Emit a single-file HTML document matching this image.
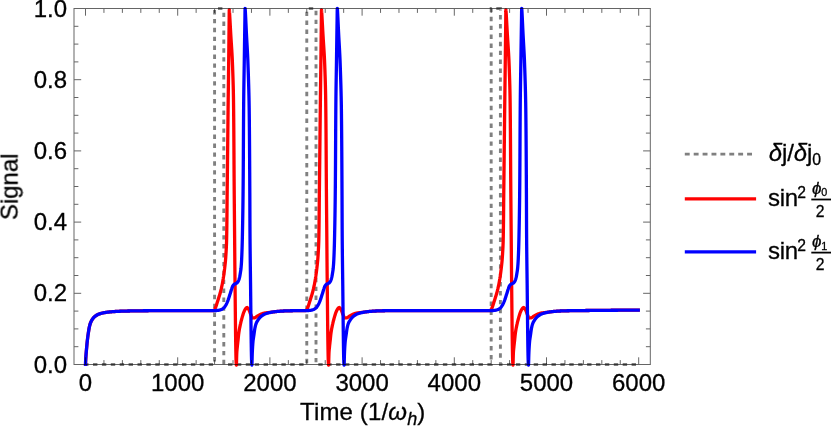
<!DOCTYPE html>
<html>
<head>
<meta charset="utf-8">
<title>Signal vs Time</title>
<style>
html,body{margin:0;padding:0;background:#fff;}
body{width:831px;height:426px;overflow:hidden;font-family:"Liberation Sans",sans-serif;}
svg{display:block;}
text{font-family:"Liberation Sans",sans-serif;font-size:24.0px;fill:#000;stroke:#000;stroke-width:0.3px;}
.it{font-style:italic;}
.s1{font-size:15.8px;}
.s2{font-size:12.0px;}
</style>
</head>
<body>
<svg width="831" height="426" viewBox="0 0 831 426">
<rect x="0" y="0" width="831" height="426" fill="#fff"/>
<defs><clipPath id="pr"><rect x="74.0" y="6.3" width="576.3" height="360.8"/></clipPath></defs>
<!-- data -->
<g fill="none" stroke="#808080" stroke-width="2.9" stroke-dasharray="4.4 4.5" stroke-linejoin="miter">
<path d="M85.50 364.50L214.58 364.50L214.58 8.50" stroke-dashoffset="1.40"/>
<path d="M214.58 8.50L223.80 8.50" stroke-dashoffset="5.48"/>
<path d="M223.80 8.50L223.80 364.50L306.78 364.50L306.78 8.50" stroke-dashoffset="4.70"/>
<path d="M306.78 8.50L316.00 8.50" stroke-dashoffset="6.88"/>
<path d="M316.00 8.50L316.00 364.50L491.18 364.50L491.18 8.50L500.40 8.50L500.40 9.50" stroke-dashoffset="6.60"/>
<path d="M500.40 9.50L500.40 364.50L638.70 364.50" stroke-dashoffset="3.30"/>
</g>
<path d="M85.50 365.90L85.51 365.40L85.52 364.90L85.53 364.39L85.54 363.89L85.56 363.39L85.57 362.89L85.59 362.39L85.60 361.88L85.62 361.38L85.64 360.88L85.67 360.38L85.69 359.88L85.72 359.38L85.75 358.88L85.78 358.38L85.81 357.87L85.84 357.37L85.87 356.87L85.91 356.37L85.95 355.87L85.98 355.37L86.02 354.87L86.06 354.37L86.10 353.87L86.14 353.37L86.19 352.87L86.23 352.37L86.27 351.87L86.31 351.36L86.36 350.86L86.40 350.36L86.44 349.86L86.49 349.36L86.53 348.86L86.58 348.36L86.62 347.86L86.66 347.36L86.71 346.86L86.76 346.36L86.80 345.86L86.85 345.36L86.90 344.86L86.94 344.36L86.99 343.86L87.04 343.36L87.09 342.86L87.15 342.36L87.20 341.86L87.25 341.36L87.31 340.86L87.36 340.36L87.42 339.87L87.48 339.37L87.54 338.87L87.60 338.37L87.66 337.87L87.72 337.37L87.78 336.87L87.85 336.38L87.92 335.88L87.98 335.38L88.05 334.89L88.12 334.39L88.19 333.90L88.27 333.40L88.34 332.90L88.41 332.40L88.49 331.89L88.57 331.39L88.65 330.89L88.73 330.39L88.81 329.88L88.90 329.38L88.99 328.88L89.09 328.38L89.18 327.89L89.28 327.39L89.39 326.90L89.50 326.41L89.62 325.93L89.74 325.45L89.86 324.97L89.99 324.50L90.13 324.03L90.27 323.57L90.44 323.10L90.62 322.63L90.82 322.16L91.03 321.69L91.26 321.22L91.50 320.76L91.75 320.30L92.02 319.85L92.29 319.42L92.58 319.00L92.87 318.60L93.17 318.21L93.47 317.84L93.79 317.50L94.12 317.15L94.49 316.81L94.87 316.47L95.27 316.14L95.69 315.83L96.11 315.52L96.55 315.24L97.00 314.97L97.45 314.72L97.90 314.50L98.35 314.30L98.79 314.13L99.25 313.97L99.71 313.81L100.18 313.66L100.65 313.52L101.14 313.38L101.62 313.25L102.12 313.13L102.61 313.01L103.11 312.90L103.61 312.79L104.12 312.69L104.62 312.59L105.12 312.51L105.63 312.43L106.13 312.35L106.63 312.28L107.13 312.22L107.62 312.16L108.12 312.11L108.62 312.05L109.11 312.00L109.61 311.95L110.11 311.90L110.61 311.86L111.11 311.81L111.61 311.77L112.11 311.72L112.61 311.68L113.11 311.64L113.61 311.60L114.11 311.57L114.62 311.53L115.12 311.50L115.62 311.46L116.12 311.43L116.63 311.40L117.13 311.37L117.63 311.35L118.14 311.32L118.64 311.30L119.14 311.28L119.64 311.26L120.14 311.24L120.65 311.22L121.15 311.20L121.65 311.19L122.15 311.17L122.65 311.16L123.15 311.14L123.66 311.13L124.16 311.11L124.66 311.10L125.16 311.09L125.66 311.07L126.16 311.06L126.67 311.05L127.17 311.04L127.67 311.02L128.17 311.01L128.67 311.00L129.17 310.99L129.68 310.98L130.18 310.97L130.68 310.96L131.18 310.95L131.68 310.94L132.19 310.93L132.69 310.92L133.19 310.91L133.69 310.90L134.20 310.89L134.70 310.88L135.20 310.87L135.70 310.87L136.20 310.86L136.71 310.85L137.21 310.84L137.71 310.84L138.21 310.83L138.72 310.82L139.22 310.82L139.72 310.81L140.22 310.80L140.72 310.80L141.23 310.79L141.73 310.79L142.23 310.78L142.73 310.78L143.23 310.77L143.74 310.77L144.24 310.76L144.74 310.76L145.24 310.75L145.74 310.75L146.25 310.74L146.75 310.74L147.25 310.74L147.75 310.73L148.26 310.73L148.76 310.72L149.26 310.72L149.76 310.72L150.26 310.71L150.77 310.71L151.27 310.70L151.77 310.70L152.27 310.70L152.77 310.69L153.28 310.69L153.78 310.69L154.28 310.68L154.78 310.68L155.28 310.68L155.79 310.67L156.29 310.67L156.79 310.67L157.29 310.66L157.79 310.66L158.30 310.66L158.80 310.65L159.30 310.65L159.80 310.65L160.30 310.64L160.81 310.64L161.31 310.64L161.81 310.64L162.31 310.63L162.81 310.63L163.32 310.63L163.82 310.63L164.32 310.62L164.82 310.62L165.32 310.62L165.83 310.62L166.33 310.62L166.83 310.61L167.33 310.61L167.84 310.61L168.34 310.61L168.84 310.61L169.34 310.61L169.84 310.61L170.35 310.60L170.85 310.60L171.35 310.60L171.85 310.60L172.35 310.60L172.86 310.60L173.36 310.60L173.86 310.60L174.36 310.60L174.86 310.60L175.37 310.60L175.87 310.60L176.37 310.60L176.87 310.60L177.37 310.60L177.88 310.60L178.38 310.60L178.88 310.60L179.38 310.60L179.88 310.60L180.39 310.60L180.89 310.60L181.39 310.60L181.89 310.60L182.39 310.60L182.90 310.60L183.40 310.60L183.90 310.60L184.40 310.60L184.91 310.60L185.41 310.60L185.91 310.60L186.41 310.60L186.91 310.60L187.42 310.60L187.92 310.60L188.42 310.60L188.92 310.60L189.42 310.60L189.93 310.60L190.43 310.60L190.93 310.60L191.43 310.60L191.93 310.60L192.44 310.60L192.94 310.60L193.44 310.60L193.94 310.60L194.44 310.60L194.95 310.60L195.45 310.60L195.95 310.60L196.45 310.60L196.95 310.60L197.46 310.60L197.96 310.60L198.46 310.60L198.96 310.60L199.46 310.60L199.97 310.60L200.47 310.60L200.97 310.60L201.47 310.60L201.98 310.60L202.48 310.60L202.98 310.60L203.48 310.60L203.98 310.60L204.49 310.60L204.99 310.60L205.49 310.60L205.99 310.60L206.49 310.60L207.00 310.60L207.50 310.60L208.00 310.60L213.20 310.60L213.70 310.40L214.13 310.15L214.45 309.84L214.71 309.44L214.93 308.98L215.13 308.48L215.32 308.00L215.51 307.53L215.69 307.07L215.87 306.60L216.05 306.14L216.21 305.66L216.37 305.19L216.53 304.72L216.69 304.24L216.84 303.76L216.99 303.28L217.14 302.80L217.29 302.32L217.44 301.84L217.59 301.37L217.74 300.89L217.89 300.41L218.05 299.93L218.20 299.46L218.35 298.98L218.51 298.50L218.66 298.03L218.81 297.55L218.96 297.07L219.11 296.59L219.26 296.12L219.41 295.64L219.55 295.16L219.70 294.68L219.84 294.20L219.98 293.72L220.11 293.24L220.25 292.75L220.38 292.27L220.50 291.79L220.63 291.30L220.75 290.82L220.87 290.33L220.99 289.85L221.11 289.36L221.23 288.88L221.34 288.39L221.46 287.90L221.57 287.41L221.68 286.92L221.79 286.43L221.89 285.94L222.00 285.45L222.10 284.96L222.20 284.47L222.30 283.98L222.39 283.49L222.48 283.00L222.57 282.51L222.66 282.02L222.75 281.52L222.83 281.03L222.92 280.54L223.00 280.05L223.08 279.55L223.17 279.06L223.25 278.56L223.32 278.07L223.40 277.57L223.48 277.08L223.55 276.58L223.63 276.09L223.70 275.59L223.77 275.10L223.84 274.60L223.91 274.11L223.98 273.61L224.05 273.11L224.12 272.62L224.18 272.12L224.25 271.62L224.31 271.13L224.37 270.63L224.43 270.13L224.49 269.64L224.55 269.14L224.62 268.65L224.68 268.15L224.73 267.65L224.79 267.15L224.85 266.66L224.91 266.16L224.97 265.66L225.02 265.16L225.08 264.67L225.13 264.17L225.19 263.67L225.24 263.17L225.29 262.67L225.34 262.18L225.39 261.68L225.43 261.18L225.48 260.68L225.52 260.18L225.56 259.68L225.60 259.19L225.64 258.69L225.68 258.19L225.71 257.69L225.75 257.19L225.78 256.69L225.82 256.19L225.85 255.69L225.88 255.19L225.92 254.69L225.95 254.19L225.98 253.70L226.01 253.20L226.04 252.70L226.07 252.20L226.10 251.70L226.13 251.20L226.16 250.70L226.19 250.20L226.22 249.70L226.24 249.20L226.27 248.70L226.30 248.20L226.32 247.70L226.35 247.20L226.37 246.70L226.39 246.20L226.41 245.70L226.43 245.20L226.45 244.70L226.47 244.20L226.49 243.70L226.51 243.19L226.53 242.69L226.54 242.19L226.56 241.69L226.57 241.19L226.58 240.69L226.60 240.19L226.61 239.69L226.62 239.19L226.63 238.69L226.64 238.19L226.65 237.69L226.66 237.19L226.67 236.69L226.68 236.19L226.69 235.69L226.70 235.19L226.70 234.69L226.71 234.19L226.72 233.69L226.73 233.19L226.74 232.69L226.75 232.19L226.75 231.69L226.76 231.19L226.77 230.69L226.78 230.19L226.79 229.69L226.79 229.19L226.80 228.69L226.81 228.19L226.81 227.69L226.82 227.19L226.83 226.69L226.84 226.19L226.84 225.69L226.85 225.19L226.85 224.69L226.86 224.18L226.87 223.68L226.87 223.18L226.88 222.68L226.89 222.18L226.89 221.68L226.90 221.18L226.90 220.68L226.91 220.18L226.91 219.68L226.92 219.18L226.92 218.68L226.93 218.18L226.93 217.68L226.94 217.18L226.95 216.68L226.95 216.18L226.96 215.68L226.96 215.18L226.96 214.68L226.97 214.18L226.97 213.67L226.98 213.17L226.98 212.67L226.99 212.17L226.99 211.67L227.00 211.17L227.00 210.67L227.01 210.17L227.01 209.67L227.02 209.17L227.02 208.67L227.02 208.17L227.03 207.67L227.03 207.17L227.04 206.67L227.04 206.17L227.05 205.67L227.05 205.17L227.06 204.66L227.06 204.16L227.06 203.66L227.07 203.16L227.07 202.66L227.08 202.16L227.08 201.66L227.09 201.16L227.09 200.66L227.10 200.16L227.10 199.66L227.11 199.16L227.11 198.66L227.12 198.16L227.12 197.66L227.12 197.16L227.13 196.66L227.13 196.16L227.14 195.66L227.14 195.15L227.15 194.65L227.15 194.15L227.16 193.65L227.17 193.15L227.17 192.65L227.18 192.15L227.18 191.65L227.19 191.15L227.19 190.65L227.20 190.15L227.20 189.65L227.21 189.15L227.22 188.65L227.22 188.15L227.23 187.65L227.23 187.15L227.24 186.65L227.24 186.15L227.25 185.65L227.26 185.15L227.26 184.64L227.27 184.14L227.27 183.64L227.28 183.14L227.28 182.64L227.29 182.14L227.30 181.64L227.30 181.14L227.31 180.64L227.31 180.14L227.32 179.64L227.32 179.14L227.33 178.64L227.33 178.14L227.34 177.64L227.35 177.14L227.35 176.64L227.36 176.14L227.36 175.64L227.37 175.14L227.37 174.64L227.38 174.14L227.39 173.63L227.39 173.13L227.40 172.63L227.40 172.13L227.41 171.63L227.41 171.13L227.42 170.63L227.42 170.13L227.43 169.63L227.43 169.13L227.44 168.63L227.45 168.13L227.45 167.63L227.46 167.13L227.46 166.63L227.47 166.13L227.47 165.63L227.48 165.13L227.48 164.63L227.49 164.13L227.50 163.63L227.50 163.13L227.51 162.63L227.51 162.12L227.52 161.62L227.52 161.12L227.53 160.62L227.53 160.12L227.54 159.62L227.54 159.12L227.55 158.62L227.56 158.12L227.56 157.62L227.57 157.12L227.57 156.62L227.58 156.12L227.58 155.62L227.59 155.12L227.59 154.62L227.60 154.12L227.60 153.62L227.61 153.12L227.61 152.62L227.62 152.12L227.63 151.62L227.63 151.11L227.64 150.61L227.64 150.11L227.65 149.61L227.65 149.11L227.66 148.61L227.66 148.11L227.67 147.61L227.67 147.11L227.68 146.61L227.68 146.11L227.69 145.61L227.70 145.11L227.70 144.61L227.71 144.11L227.71 143.61L227.72 143.11L227.72 142.61L227.73 142.11L227.73 141.61L227.74 141.11L227.74 140.61L227.75 140.10L227.76 139.60L227.76 139.10L227.77 138.60L227.77 138.10L227.78 137.60L227.78 137.10L227.79 136.60L227.79 136.10L227.80 135.60L227.80 135.10L227.81 134.60L227.82 134.10L227.82 133.60L227.83 133.10L227.83 132.60L227.84 132.10L227.84 131.60L227.85 131.10L227.85 130.60L227.86 130.10L227.86 129.60L227.87 129.09L227.88 128.59L227.88 128.09L227.89 127.59L227.89 127.09L227.90 126.59L227.90 126.09L227.91 125.59L227.91 125.09L227.92 124.59L227.92 124.09L227.93 123.59L227.94 123.09L227.94 122.59L227.95 122.09L227.95 121.59L227.96 121.09L227.96 120.59L227.97 120.09L227.98 119.59L227.98 119.09L227.99 118.59L227.99 118.09L228.00 117.58L228.00 117.08L228.01 116.58L228.01 116.08L228.02 115.58L228.03 115.08L228.03 114.58L228.04 114.08L228.04 113.58L228.05 113.08L228.05 112.58L228.06 112.08L228.07 111.58L228.07 111.08L228.08 110.58L228.08 110.08L228.09 109.58L228.09 109.08L228.10 108.58L228.11 108.08L228.11 107.58L228.12 107.08L228.12 106.57L228.13 106.07L228.13 105.57L228.14 105.07L228.15 104.57L228.15 104.07L228.16 103.57L228.16 103.07L228.17 102.57L228.18 102.07L228.18 101.57L228.19 101.07L228.19 100.57L228.20 100.07L228.21 99.57L228.21 99.07L228.22 98.57L228.22 98.07L228.23 97.57L228.24 97.07L228.24 96.57L228.25 96.07L228.25 95.57L228.26 95.06L228.27 94.56L228.27 94.06L228.28 93.56L228.28 93.06L228.29 92.56L228.30 92.06L228.30 91.56L228.31 91.06L228.32 90.56L228.32 90.06L228.33 89.56L228.33 89.06L228.34 88.56L228.35 88.06L228.35 87.56L228.36 87.06L228.37 86.56L228.37 86.06L228.38 85.56L228.39 85.06L228.39 84.56L228.40 84.06L228.40 83.55L228.41 83.05L228.42 82.55L228.42 82.05L228.43 81.55L228.44 81.05L228.44 80.55L228.45 80.05L228.46 79.55L228.46 79.05L228.47 78.55L228.47 78.05L228.48 77.55L228.49 77.05L228.49 76.55L228.50 76.05L228.51 75.55L228.51 75.05L228.52 74.55L228.53 74.05L228.53 73.55L228.54 73.05L228.54 72.54L228.55 72.04L228.56 71.54L228.56 71.04L228.57 70.54L228.58 70.04L228.58 69.54L228.59 69.04L228.60 68.54L228.60 68.04L228.61 67.54L228.61 67.04L228.62 66.54L228.63 66.04L228.63 65.54L228.64 65.04L228.65 64.54L228.65 64.04L228.66 63.54L228.66 63.04L228.67 62.54L228.68 62.04L228.68 61.54L228.69 61.03L228.69 60.53L228.70 60.03L228.71 59.53L228.71 59.03L228.72 58.53L228.72 58.03L228.73 57.53L228.73 57.03L228.74 56.53L228.75 56.03L228.75 55.53L228.76 55.03L228.76 54.53L228.77 54.03L228.78 53.53L228.78 53.03L228.79 52.53L228.79 52.03L228.80 51.53L228.80 51.03L228.81 50.53L228.81 50.03L228.82 49.52L228.83 49.02L228.83 48.52L228.84 48.02L228.84 47.52L228.85 47.02L228.85 46.52L228.86 46.02L228.86 45.52L228.87 45.02L228.88 44.52L228.88 44.02L228.89 43.52L228.89 43.02L228.90 42.52L228.90 42.02L228.91 41.52L228.91 41.02L228.92 40.52L228.93 40.02L228.93 39.52L228.94 39.02L228.94 38.51L228.95 38.01L228.95 37.51L228.96 37.01L228.96 36.51L228.97 36.01L228.98 35.51L228.98 35.01L228.99 34.51L228.99 34.01L229.00 33.51L229.00 33.01L229.01 32.51L229.02 32.01L229.02 31.51L229.03 31.01L229.03 30.51L229.04 30.01L229.05 29.51L229.05 29.01L229.06 28.51L229.06 28.01L229.07 27.50L229.08 27.00L229.08 26.50L229.09 26.00L229.09 25.50L229.10 25.00L229.11 24.49L229.11 23.94L229.12 23.37L229.12 22.77L229.13 22.16L229.13 21.52L229.14 20.88L229.15 20.22L229.15 19.56L229.16 18.89L229.16 18.23L229.17 17.56L229.17 16.91L229.18 16.26L229.18 15.62L229.19 15.00L229.20 14.40L229.20 13.82L229.21 13.27L229.21 12.74L229.22 12.25L229.23 11.79L229.24 11.38L229.24 11.00L229.25 10.67L229.26 10.39L229.27 10.16L229.28 9.98L229.29 9.86L229.30 9.80L229.31 9.81L229.32 9.85L229.33 9.93L229.35 10.05L229.36 10.20L229.38 10.39L229.40 10.61L229.42 10.86L229.44 11.15L229.46 11.46L229.49 11.80L229.51 12.17L229.54 12.56L229.56 12.98L229.59 13.42L229.62 13.89L229.65 14.37L229.68 14.88L229.71 15.40L229.74 15.94L229.77 16.50L229.81 17.08L229.84 17.66L229.87 18.26L229.91 18.88L229.94 19.50L229.98 20.13L230.01 20.77L230.05 21.42L230.08 22.08L230.12 22.74L230.16 23.40L230.19 24.06L230.23 24.73L230.26 25.40L230.30 26.06L230.34 26.72L230.37 27.38L230.41 28.04L230.44 28.68L230.48 29.32L230.51 29.96L230.55 30.58L230.58 31.19L230.62 31.80L230.65 32.38L230.68 32.96L230.71 33.52L230.74 34.06L230.78 34.58L230.81 35.09L230.84 35.59L230.87 36.09L230.90 36.59L230.93 37.09L230.96 37.59L230.99 38.09L231.02 38.59L231.05 39.09L231.08 39.59L231.12 40.09L231.15 40.59L231.18 41.08L231.21 41.58L231.25 42.08L231.28 42.58L231.31 43.08L231.35 43.58L231.38 44.08L231.41 44.58L231.44 45.08L231.48 45.58L231.51 46.08L231.54 46.58L231.57 47.08L231.61 47.58L231.64 48.08L231.67 48.58L231.70 49.08L231.74 49.58L231.77 50.08L231.80 50.58L231.83 51.07L231.86 51.57L231.89 52.07L231.92 52.57L231.95 53.07L231.98 53.57L232.01 54.07L232.04 54.57L232.06 55.07L232.09 55.57L232.12 56.07L232.15 56.57L232.17 57.07L232.20 57.57L232.22 58.07L232.25 58.57L232.27 59.07L232.30 59.57L232.32 60.07L232.34 60.57L232.36 61.07L232.38 61.57L232.40 62.07L232.42 62.57L232.44 63.07L232.46 63.57L232.48 64.07L232.50 64.57L232.52 65.07L232.54 65.57L232.56 66.07L232.58 66.57L232.60 67.07L232.62 67.57L232.63 68.07L232.65 68.57L232.67 69.07L232.69 69.57L232.71 70.07L232.73 70.57L232.74 71.07L232.76 71.57L232.78 72.07L232.80 72.57L232.82 73.07L232.83 73.57L232.85 74.07L232.87 74.57L232.88 75.07L232.90 75.57L232.92 76.07L232.94 76.57L232.95 77.07L232.97 77.57L232.98 78.07L233.00 78.57L233.02 79.07L233.03 79.57L233.05 80.07L233.06 80.57L233.08 81.07L233.09 81.58L233.11 82.08L233.12 82.58L233.14 83.08L233.15 83.58L233.16 84.08L233.18 84.58L233.19 85.08L233.21 85.58L233.22 86.08L233.23 86.58L233.25 87.08L233.26 87.58L233.27 88.08L233.28 88.58L233.29 89.08L233.31 89.58L233.32 90.08L233.33 90.58L233.34 91.08L233.35 91.58L233.36 92.08L233.37 92.58L233.38 93.08L233.39 93.58L233.40 94.08L233.41 94.58L233.42 95.09L233.43 95.59L233.44 96.09L233.45 96.59L233.46 97.09L233.46 97.59L233.47 98.09L233.48 98.59L233.49 99.09L233.49 99.59L233.50 100.09L233.51 100.59L233.51 101.09L233.52 101.59L233.53 102.09L233.53 102.59L233.54 103.09L233.55 103.59L233.55 104.09L233.56 104.59L233.56 105.09L233.57 105.59L233.58 106.09L233.58 106.59L233.59 107.09L233.59 107.59L233.60 108.10L233.61 108.60L233.61 109.10L233.62 109.60L233.62 110.10L233.63 110.60L233.63 111.10L233.64 111.60L233.64 112.10L233.65 112.60L233.65 113.10L233.66 113.60L233.66 114.10L233.67 114.60L233.67 115.10L233.68 115.60L233.68 116.10L233.69 116.60L233.69 117.10L233.70 117.60L233.70 118.10L233.71 118.60L233.71 119.10L233.72 119.60L233.72 120.10L233.73 120.61L233.73 121.11L233.73 121.61L233.74 122.11L233.74 122.61L233.75 123.11L233.75 123.61L233.76 124.11L233.76 124.61L233.76 125.11L233.77 125.61L233.77 126.11L233.78 126.61L233.78 127.11L233.78 127.61L233.79 128.11L233.79 128.61L233.80 129.11L233.80 129.61L233.80 130.11L233.81 130.61L233.81 131.11L233.82 131.62L233.82 132.12L233.82 132.62L233.83 133.12L233.83 133.62L233.83 134.12L233.84 134.62L233.84 135.12L233.84 135.62L233.85 136.12L233.85 136.62L233.85 137.12L233.86 137.62L233.86 138.12L233.86 138.62L233.87 139.12L233.87 139.62L233.87 140.12L233.88 140.62L233.88 141.12L233.88 141.62L233.89 142.13L233.89 142.63L233.89 143.13L233.90 143.63L233.90 144.13L233.90 144.63L233.91 145.13L233.91 145.63L233.91 146.13L233.92 146.63L233.92 147.13L233.92 147.63L233.92 148.13L233.93 148.63L233.93 149.13L233.93 149.63L233.94 150.13L233.94 150.63L233.94 151.13L233.95 151.63L233.95 152.14L233.95 152.64L233.96 153.14L233.96 153.64L233.96 154.14L233.96 154.64L233.97 155.14L233.97 155.64L233.97 156.14L233.98 156.64L233.98 157.14L233.98 157.64L233.98 158.14L233.99 158.64L233.99 159.14L233.99 159.64L234.00 160.14L234.00 160.64L234.00 161.14L234.01 161.64L234.01 162.15L234.01 162.65L234.01 163.15L234.02 163.65L234.02 164.15L234.02 164.65L234.03 165.15L234.03 165.65L234.03 166.15L234.04 166.65L234.04 167.15L234.04 167.65L234.04 168.15L234.05 168.65L234.05 169.15L234.05 169.65L234.06 170.15L234.06 170.65L234.06 171.15L234.07 171.65L234.07 172.16L234.07 172.66L234.08 173.16L234.08 173.66L234.08 174.16L234.09 174.66L234.09 175.16L234.09 175.66L234.10 176.16L234.10 176.66L234.10 177.16L234.11 177.66L234.11 178.16L234.11 178.66L234.12 179.16L234.12 179.66L234.12 180.16L234.13 180.66L234.13 181.16L234.14 181.66L234.14 182.17L234.14 182.67L234.15 183.17L234.15 183.67L234.15 184.17L234.16 184.67L234.16 185.17L234.17 185.67L234.17 186.17L234.17 186.67L234.18 187.17L234.18 187.67L234.18 188.17L234.19 188.67L234.19 189.17L234.20 189.67L234.20 190.17L234.21 190.67L234.21 191.17L234.21 191.67L234.22 192.17L234.22 192.67L234.23 193.18L234.23 193.68L234.24 194.18L234.24 194.68L234.24 195.18L234.25 195.68L234.25 196.18L234.26 196.68L234.26 197.18L234.27 197.68L234.27 198.18L234.27 198.68L234.28 199.18L234.28 199.68L234.29 200.18L234.29 200.68L234.30 201.18L234.30 201.68L234.30 202.18L234.31 202.68L234.31 203.18L234.32 203.68L234.32 204.19L234.33 204.69L234.33 205.19L234.34 205.69L234.34 206.19L234.34 206.69L234.35 207.19L234.35 207.69L234.36 208.19L234.36 208.69L234.37 209.19L234.37 209.69L234.38 210.19L234.38 210.69L234.39 211.19L234.39 211.69L234.39 212.19L234.40 212.69L234.40 213.19L234.41 213.69L234.41 214.19L234.42 214.70L234.42 215.20L234.43 215.70L234.43 216.20L234.43 216.70L234.44 217.20L234.44 217.70L234.45 218.20L234.45 218.70L234.46 219.20L234.46 219.70L234.47 220.20L234.47 220.70L234.48 221.20L234.48 221.70L234.48 222.20L234.49 222.70L234.49 223.20L234.50 223.70L234.50 224.20L234.51 224.70L234.51 225.20L234.52 225.71L234.52 226.21L234.53 226.71L234.53 227.21L234.53 227.71L234.54 228.21L234.54 228.71L234.55 229.21L234.55 229.71L234.56 230.21L234.56 230.71L234.57 231.21L234.57 231.71L234.58 232.21L234.58 232.71L234.58 233.21L234.59 233.71L234.59 234.21L234.60 234.71L234.60 235.21L234.61 235.71L234.61 236.21L234.62 236.72L234.62 237.22L234.62 237.72L234.63 238.22L234.63 238.72L234.64 239.22L234.64 239.72L234.65 240.22L234.65 240.72L234.65 241.22L234.66 241.72L234.66 242.22L234.67 242.72L234.67 243.22L234.67 243.72L234.68 244.22L234.68 244.72L234.69 245.22L234.69 245.72L234.69 246.22L234.70 246.72L234.70 247.22L234.71 247.73L234.71 248.23L234.72 248.73L234.72 249.23L234.72 249.73L234.73 250.23L234.73 250.73L234.74 251.23L234.74 251.73L234.74 252.23L234.75 252.73L234.75 253.23L234.76 253.73L234.76 254.23L234.76 254.73L234.77 255.23L234.77 255.73L234.78 256.23L234.78 256.73L234.78 257.23L234.79 257.73L234.79 258.24L234.80 258.74L234.80 259.24L234.81 259.74L234.81 260.24L234.81 260.74L234.82 261.24L234.82 261.74L234.83 262.24L234.83 262.74L234.84 263.24L234.84 263.74L234.84 264.24L234.85 264.74L234.85 265.24L234.86 265.74L234.86 266.24L234.87 266.74L234.87 267.24L234.88 267.74L234.88 268.24L234.89 268.74L234.89 269.25L234.89 269.75L234.90 270.25L234.90 270.75L234.91 271.25L234.91 271.75L234.92 272.25L234.92 272.75L234.93 273.25L234.93 273.75L234.94 274.25L234.94 274.75L234.95 275.25L234.95 275.75L234.96 276.25L234.96 276.75L234.97 277.25L234.98 277.75L234.98 278.25L234.99 278.75L234.99 279.25L235.00 279.75L235.00 280.26L235.01 280.76L235.01 281.27L235.02 281.79L235.03 282.32L235.03 282.84L235.04 283.38L235.04 283.92L235.05 284.46L235.05 285.01L235.06 285.56L235.07 286.12L235.07 286.69L235.08 287.26L235.08 287.83L235.09 288.41L235.10 288.99L235.10 289.57L235.11 290.16L235.11 290.76L235.12 291.35L235.13 291.95L235.13 292.56L235.14 293.17L235.14 293.78L235.15 294.40L235.16 295.01L235.16 295.64L235.17 296.26L235.17 296.89L235.18 297.52L235.19 298.15L235.19 298.79L235.20 299.42L235.21 300.07L235.21 300.71L235.22 301.35L235.23 302.00L235.23 302.65L235.24 303.30L235.25 303.95L235.25 304.61L235.26 305.26L235.27 305.92L235.27 306.58L235.28 307.24L235.29 307.90L235.29 308.56L235.30 309.23L235.31 309.89L235.31 310.56L235.32 311.22L235.33 311.89L235.33 312.56L235.34 313.22L235.35 313.89L235.35 314.56L235.36 315.22L235.37 315.89L235.38 316.56L235.38 317.22L235.39 317.89L235.40 318.56L235.40 319.22L235.41 319.89L235.42 320.55L235.43 321.21L235.43 321.87L235.44 322.53L235.45 323.19L235.46 323.85L235.46 324.51L235.47 325.16L235.48 325.82L235.49 326.47L235.49 327.12L235.50 327.76L235.51 328.41L235.52 329.05L235.52 329.69L235.53 330.33L235.54 330.97L235.55 331.60L235.56 332.23L235.56 332.86L235.57 333.49L235.58 334.11L235.59 334.73L235.60 335.35L235.60 335.96L235.61 336.57L235.62 337.17L235.63 337.77L235.64 338.37L235.65 338.97L235.65 339.56L235.66 340.14L235.67 340.73L235.68 341.30L235.69 341.88L235.70 342.45L235.70 343.01L235.71 343.57L235.72 344.13L235.73 344.68L235.74 345.22L235.75 345.76L235.76 346.30L235.77 346.83L235.78 347.35L235.78 347.87L235.79 348.38L235.80 348.89L235.81 349.39L235.82 349.89L235.83 350.38L235.84 350.86L235.85 351.34L235.86 351.81L235.87 352.28L235.88 352.73L235.89 353.19L235.90 353.63L235.90 354.07L235.91 354.50L235.92 354.92L235.93 355.34L235.94 355.75L235.95 356.15L235.96 356.55L235.97 356.93L235.98 357.31L235.99 357.68L236.00 358.05L236.01 358.40L236.02 358.75L236.03 359.09L236.04 359.42L236.05 359.74L236.06 360.06L236.07 360.36L236.08 360.66L236.10 360.95L236.11 361.23L236.12 361.50L236.13 361.76L236.14 362.01L236.15 362.25L236.16 362.48L236.17 362.71L236.18 362.92L236.19 363.12L236.20 363.32L236.21 363.50L236.22 363.67L236.24 363.84L236.25 363.99L236.26 364.13L236.27 364.27L236.28 364.39L236.29 364.50L236.30 364.60L236.31 364.69L236.33 364.77L236.34 364.83L236.35 364.89L236.36 364.93L236.37 364.97L236.38 364.99L236.40 365.00L236.41 364.98L236.42 364.89L236.43 364.73L236.44 364.50L236.46 364.21L236.47 363.86L236.48 363.45L236.49 363.00L236.51 362.51L236.52 361.97L236.53 361.40L236.55 360.81L236.56 360.19L236.58 359.55L236.59 358.89L236.61 358.23L236.63 357.57L236.65 356.90L236.67 356.24L236.68 355.59L236.71 354.96L236.73 354.34L236.75 353.75L236.77 353.19L236.80 352.67L236.82 352.17L236.86 351.67L236.89 351.17L236.93 350.67L236.98 350.18L237.02 349.68L237.07 349.18L237.12 348.68L237.17 348.18L237.23 347.68L237.28 347.19L237.33 346.69L237.38 346.19L237.43 345.69L237.48 345.19L237.53 344.70L237.59 344.20L237.64 343.70L237.69 343.20L237.75 342.71L237.80 342.21L237.86 341.71L237.91 341.21L237.97 340.72L238.02 340.22L238.07 339.72L238.12 339.22L238.17 338.72L238.22 338.23L238.27 337.73L238.32 337.23L238.37 336.73L238.42 336.23L238.47 335.74L238.53 335.24L238.58 334.74L238.64 334.24L238.71 333.75L238.77 333.25L238.84 332.76L238.91 332.26L238.99 331.77L239.07 331.27L239.15 330.78L239.23 330.28L239.31 329.79L239.40 329.30L239.49 328.80L239.58 328.31L239.67 327.82L239.77 327.33L239.86 326.84L239.96 326.35L240.07 325.86L240.17 325.37L240.28 324.88L240.39 324.39L240.50 323.90L240.62 323.42L240.73 322.93L240.85 322.44L240.96 321.96L241.08 321.47L241.20 320.98L241.32 320.50L241.45 320.01L241.57 319.53L241.70 319.04L241.83 318.56L241.96 318.08L242.10 317.59L242.23 317.11L242.37 316.63L242.51 316.15L242.66 315.67L242.80 315.19L242.95 314.71L243.10 314.23L243.25 313.75L243.41 313.28L243.58 312.81L243.76 312.34L243.95 311.88L244.15 311.42L244.35 310.96L244.57 310.50L244.81 310.05L245.05 309.61L245.32 309.19L245.60 308.80L245.93 308.37L246.31 307.93L246.70 307.60L247.07 307.51L247.44 307.69L247.81 308.06L248.16 308.52L248.47 309.00L248.73 309.41L248.97 309.84L249.18 310.27L249.38 310.73L249.56 311.19L249.74 311.67L249.91 312.15L250.08 312.63L250.25 313.11L250.42 313.59L250.60 314.07L250.79 314.54L251.00 314.99L251.20 315.50L251.41 316.07L251.61 316.65L251.83 317.19L252.07 317.64L252.35 317.92L252.67 318.00L253.11 317.97L253.64 317.92L254.19 317.85L254.67 317.76L255.12 317.59L255.55 317.34L255.97 317.05L256.38 316.73L256.80 316.42L257.23 316.14L257.66 315.90L258.10 315.65L258.54 315.39L258.98 315.15L259.42 314.90L259.87 314.67L260.31 314.45L260.77 314.25L261.23 314.06L261.69 313.90L262.16 313.74L262.64 313.59L263.12 313.45L263.61 313.31L264.10 313.19L264.59 313.08L265.08 312.98L265.57 312.89L266.06 312.81L266.56 312.75L267.05 312.68L267.55 312.63L268.05 312.58L268.55 312.52L269.05 312.47L269.55 312.41L270.04 312.35L270.54 312.29L271.04 312.22L271.53 312.16L272.03 312.09L272.53 312.03L273.02 311.96L273.52 311.89L274.02 311.83L274.51 311.76L275.01 311.70L275.51 311.64L276.00 311.58L276.50 311.53L277.00 311.48L277.50 311.43L277.99 311.39L278.49 311.35L278.99 311.31L279.49 311.28L279.99 311.24L280.49 311.20L280.99 311.17L281.49 311.14L281.99 311.10L282.49 311.07L282.99 311.04L283.49 311.02L283.99 310.99L284.49 310.97L284.99 310.94L285.49 310.92L285.99 310.90L286.49 310.89L286.99 310.87L287.49 310.85L287.99 310.84L288.49 310.82L288.99 310.81L289.49 310.80L289.99 310.79L290.49 310.77L290.99 310.76L291.49 310.75L291.99 310.74L292.49 310.73L292.99 310.72L293.49 310.71L293.99 310.70L294.49 310.70L294.99 310.69L295.49 310.68L295.99 310.67L296.49 310.67L296.99 310.66L297.49 310.65L298.00 310.65L298.50 310.64L299.00 310.63L299.50 310.63L300.00 310.62L300.50 310.62L301.00 310.61L301.50 310.61L302.00 310.61L302.50 310.60L303.00 310.60L305.40 310.60L305.90 310.40L306.33 310.15L306.65 309.84L306.91 309.44L307.13 308.98L307.33 308.48L307.52 308.00L307.71 307.53L307.89 307.07L308.07 306.60L308.25 306.14L308.41 305.66L308.57 305.19L308.73 304.72L308.89 304.24L309.04 303.76L309.19 303.28L309.34 302.80L309.49 302.32L309.64 301.84L309.79 301.37L309.94 300.89L310.09 300.41L310.25 299.93L310.40 299.46L310.55 298.98L310.71 298.50L310.86 298.03L311.01 297.55L311.16 297.07L311.31 296.59L311.46 296.12L311.61 295.64L311.75 295.16L311.90 294.68L312.04 294.20L312.18 293.72L312.31 293.24L312.45 292.75L312.58 292.27L312.70 291.79L312.83 291.30L312.95 290.82L313.07 290.33L313.19 289.85L313.31 289.36L313.43 288.88L313.54 288.39L313.66 287.90L313.77 287.41L313.88 286.92L313.99 286.43L314.09 285.94L314.20 285.45L314.30 284.96L314.40 284.47L314.50 283.98L314.59 283.49L314.68 283.00L314.77 282.51L314.86 282.02L314.95 281.52L315.03 281.03L315.12 280.54L315.20 280.05L315.28 279.55L315.37 279.06L315.45 278.56L315.52 278.07L315.60 277.57L315.68 277.08L315.75 276.58L315.83 276.09L315.90 275.59L315.97 275.10L316.04 274.60L316.11 274.11L316.18 273.61L316.25 273.11L316.32 272.62L316.38 272.12L316.45 271.62L316.51 271.13L316.57 270.63L316.63 270.13L316.69 269.64L316.75 269.14L316.82 268.65L316.88 268.15L316.93 267.65L316.99 267.15L317.05 266.66L317.11 266.16L317.17 265.66L317.22 265.16L317.28 264.67L317.33 264.17L317.39 263.67L317.44 263.17L317.49 262.67L317.54 262.18L317.59 261.68L317.63 261.18L317.68 260.68L317.72 260.18L317.76 259.68L317.80 259.19L317.84 258.69L317.88 258.19L317.91 257.69L317.95 257.19L317.98 256.69L318.02 256.19L318.05 255.69L318.08 255.19L318.12 254.69L318.15 254.19L318.18 253.70L318.21 253.20L318.24 252.70L318.27 252.20L318.30 251.70L318.33 251.20L318.36 250.70L318.39 250.20L318.42 249.70L318.44 249.20L318.47 248.70L318.50 248.20L318.52 247.70L318.55 247.20L318.57 246.70L318.59 246.20L318.61 245.70L318.63 245.20L318.65 244.70L318.67 244.20L318.69 243.70L318.71 243.19L318.73 242.69L318.74 242.19L318.76 241.69L318.77 241.19L318.78 240.69L318.80 240.19L318.81 239.69L318.82 239.19L318.83 238.69L318.84 238.19L318.85 237.69L318.86 237.19L318.87 236.69L318.88 236.19L318.89 235.69L318.90 235.19L318.90 234.69L318.91 234.19L318.92 233.69L318.93 233.19L318.94 232.69L318.95 232.19L318.95 231.69L318.96 231.19L318.97 230.69L318.98 230.19L318.99 229.69L318.99 229.19L319.00 228.69L319.01 228.19L319.01 227.69L319.02 227.19L319.03 226.69L319.04 226.19L319.04 225.69L319.05 225.19L319.05 224.69L319.06 224.18L319.07 223.68L319.07 223.18L319.08 222.68L319.09 222.18L319.09 221.68L319.10 221.18L319.10 220.68L319.11 220.18L319.11 219.68L319.12 219.18L319.12 218.68L319.13 218.18L319.13 217.68L319.14 217.18L319.15 216.68L319.15 216.18L319.16 215.68L319.16 215.18L319.16 214.68L319.17 214.18L319.17 213.67L319.18 213.17L319.18 212.67L319.19 212.17L319.19 211.67L319.20 211.17L319.20 210.67L319.21 210.17L319.21 209.67L319.22 209.17L319.22 208.67L319.22 208.17L319.23 207.67L319.23 207.17L319.24 206.67L319.24 206.17L319.25 205.67L319.25 205.17L319.26 204.66L319.26 204.16L319.26 203.66L319.27 203.16L319.27 202.66L319.28 202.16L319.28 201.66L319.29 201.16L319.29 200.66L319.30 200.16L319.30 199.66L319.31 199.16L319.31 198.66L319.32 198.16L319.32 197.66L319.32 197.16L319.33 196.66L319.33 196.16L319.34 195.66L319.34 195.15L319.35 194.65L319.35 194.15L319.36 193.65L319.37 193.15L319.37 192.65L319.38 192.15L319.38 191.65L319.39 191.15L319.39 190.65L319.40 190.15L319.40 189.65L319.41 189.15L319.42 188.65L319.42 188.15L319.43 187.65L319.43 187.15L319.44 186.65L319.44 186.15L319.45 185.65L319.46 185.15L319.46 184.64L319.47 184.14L319.47 183.64L319.48 183.14L319.48 182.64L319.49 182.14L319.50 181.64L319.50 181.14L319.51 180.64L319.51 180.14L319.52 179.64L319.52 179.14L319.53 178.64L319.53 178.14L319.54 177.64L319.55 177.14L319.55 176.64L319.56 176.14L319.56 175.64L319.57 175.14L319.57 174.64L319.58 174.14L319.59 173.63L319.59 173.13L319.60 172.63L319.60 172.13L319.61 171.63L319.61 171.13L319.62 170.63L319.62 170.13L319.63 169.63L319.63 169.13L319.64 168.63L319.65 168.13L319.65 167.63L319.66 167.13L319.66 166.63L319.67 166.13L319.67 165.63L319.68 165.13L319.68 164.63L319.69 164.13L319.70 163.63L319.70 163.13L319.71 162.63L319.71 162.12L319.72 161.62L319.72 161.12L319.73 160.62L319.73 160.12L319.74 159.62L319.74 159.12L319.75 158.62L319.76 158.12L319.76 157.62L319.77 157.12L319.77 156.62L319.78 156.12L319.78 155.62L319.79 155.12L319.79 154.62L319.80 154.12L319.80 153.62L319.81 153.12L319.81 152.62L319.82 152.12L319.83 151.62L319.83 151.11L319.84 150.61L319.84 150.11L319.85 149.61L319.85 149.11L319.86 148.61L319.86 148.11L319.87 147.61L319.87 147.11L319.88 146.61L319.88 146.11L319.89 145.61L319.90 145.11L319.90 144.61L319.91 144.11L319.91 143.61L319.92 143.11L319.92 142.61L319.93 142.11L319.93 141.61L319.94 141.11L319.94 140.61L319.95 140.10L319.96 139.60L319.96 139.10L319.97 138.60L319.97 138.10L319.98 137.60L319.98 137.10L319.99 136.60L319.99 136.10L320.00 135.60L320.00 135.10L320.01 134.60L320.02 134.10L320.02 133.60L320.03 133.10L320.03 132.60L320.04 132.10L320.04 131.60L320.05 131.10L320.05 130.60L320.06 130.10L320.06 129.60L320.07 129.09L320.08 128.59L320.08 128.09L320.09 127.59L320.09 127.09L320.10 126.59L320.10 126.09L320.11 125.59L320.11 125.09L320.12 124.59L320.12 124.09L320.13 123.59L320.14 123.09L320.14 122.59L320.15 122.09L320.15 121.59L320.16 121.09L320.16 120.59L320.17 120.09L320.18 119.59L320.18 119.09L320.19 118.59L320.19 118.09L320.20 117.58L320.20 117.08L320.21 116.58L320.21 116.08L320.22 115.58L320.23 115.08L320.23 114.58L320.24 114.08L320.24 113.58L320.25 113.08L320.25 112.58L320.26 112.08L320.27 111.58L320.27 111.08L320.28 110.58L320.28 110.08L320.29 109.58L320.29 109.08L320.30 108.58L320.31 108.08L320.31 107.58L320.32 107.08L320.32 106.57L320.33 106.07L320.33 105.57L320.34 105.07L320.35 104.57L320.35 104.07L320.36 103.57L320.36 103.07L320.37 102.57L320.38 102.07L320.38 101.57L320.39 101.07L320.39 100.57L320.40 100.07L320.41 99.57L320.41 99.07L320.42 98.57L320.42 98.07L320.43 97.57L320.44 97.07L320.44 96.57L320.45 96.07L320.45 95.57L320.46 95.06L320.47 94.56L320.47 94.06L320.48 93.56L320.48 93.06L320.49 92.56L320.50 92.06L320.50 91.56L320.51 91.06L320.52 90.56L320.52 90.06L320.53 89.56L320.53 89.06L320.54 88.56L320.55 88.06L320.55 87.56L320.56 87.06L320.57 86.56L320.57 86.06L320.58 85.56L320.59 85.06L320.59 84.56L320.60 84.06L320.60 83.55L320.61 83.05L320.62 82.55L320.62 82.05L320.63 81.55L320.64 81.05L320.64 80.55L320.65 80.05L320.66 79.55L320.66 79.05L320.67 78.55L320.67 78.05L320.68 77.55L320.69 77.05L320.69 76.55L320.70 76.05L320.71 75.55L320.71 75.05L320.72 74.55L320.73 74.05L320.73 73.55L320.74 73.05L320.74 72.54L320.75 72.04L320.76 71.54L320.76 71.04L320.77 70.54L320.78 70.04L320.78 69.54L320.79 69.04L320.80 68.54L320.80 68.04L320.81 67.54L320.81 67.04L320.82 66.54L320.83 66.04L320.83 65.54L320.84 65.04L320.85 64.54L320.85 64.04L320.86 63.54L320.86 63.04L320.87 62.54L320.88 62.04L320.88 61.54L320.89 61.03L320.89 60.53L320.90 60.03L320.91 59.53L320.91 59.03L320.92 58.53L320.92 58.03L320.93 57.53L320.93 57.03L320.94 56.53L320.95 56.03L320.95 55.53L320.96 55.03L320.96 54.53L320.97 54.03L320.98 53.53L320.98 53.03L320.99 52.53L320.99 52.03L321.00 51.53L321.00 51.03L321.01 50.53L321.01 50.03L321.02 49.52L321.03 49.02L321.03 48.52L321.04 48.02L321.04 47.52L321.05 47.02L321.05 46.52L321.06 46.02L321.06 45.52L321.07 45.02L321.08 44.52L321.08 44.02L321.09 43.52L321.09 43.02L321.10 42.52L321.10 42.02L321.11 41.52L321.11 41.02L321.12 40.52L321.13 40.02L321.13 39.52L321.14 39.02L321.14 38.51L321.15 38.01L321.15 37.51L321.16 37.01L321.16 36.51L321.17 36.01L321.18 35.51L321.18 35.01L321.19 34.51L321.19 34.01L321.20 33.51L321.20 33.01L321.21 32.51L321.22 32.01L321.22 31.51L321.23 31.01L321.23 30.51L321.24 30.01L321.25 29.51L321.25 29.01L321.26 28.51L321.26 28.01L321.27 27.50L321.28 27.00L321.28 26.50L321.29 26.00L321.29 25.50L321.30 25.00L321.31 24.49L321.31 23.94L321.32 23.37L321.32 22.77L321.33 22.16L321.33 21.52L321.34 20.88L321.35 20.22L321.35 19.56L321.36 18.89L321.36 18.23L321.37 17.56L321.37 16.91L321.38 16.26L321.38 15.62L321.39 15.00L321.40 14.40L321.40 13.82L321.41 13.27L321.41 12.74L321.42 12.25L321.43 11.79L321.44 11.38L321.44 11.00L321.45 10.67L321.46 10.39L321.47 10.16L321.48 9.98L321.49 9.86L321.50 9.80L321.51 9.81L321.52 9.85L321.53 9.93L321.55 10.05L321.56 10.20L321.58 10.39L321.60 10.61L321.62 10.86L321.64 11.15L321.66 11.46L321.69 11.80L321.71 12.17L321.74 12.56L321.76 12.98L321.79 13.42L321.82 13.89L321.85 14.37L321.88 14.88L321.91 15.40L321.94 15.94L321.97 16.50L322.01 17.08L322.04 17.66L322.07 18.26L322.11 18.88L322.14 19.50L322.18 20.13L322.21 20.77L322.25 21.42L322.28 22.08L322.32 22.74L322.36 23.40L322.39 24.06L322.43 24.73L322.46 25.40L322.50 26.06L322.54 26.72L322.57 27.38L322.61 28.04L322.64 28.68L322.68 29.32L322.71 29.96L322.75 30.58L322.78 31.19L322.82 31.80L322.85 32.38L322.88 32.96L322.91 33.52L322.94 34.06L322.98 34.58L323.01 35.09L323.04 35.59L323.07 36.09L323.10 36.59L323.13 37.09L323.16 37.59L323.19 38.09L323.22 38.59L323.25 39.09L323.28 39.59L323.32 40.09L323.35 40.59L323.38 41.08L323.41 41.58L323.45 42.08L323.48 42.58L323.51 43.08L323.55 43.58L323.58 44.08L323.61 44.58L323.64 45.08L323.68 45.58L323.71 46.08L323.74 46.58L323.77 47.08L323.81 47.58L323.84 48.08L323.87 48.58L323.90 49.08L323.94 49.58L323.97 50.08L324.00 50.58L324.03 51.07L324.06 51.57L324.09 52.07L324.12 52.57L324.15 53.07L324.18 53.57L324.21 54.07L324.24 54.57L324.26 55.07L324.29 55.57L324.32 56.07L324.35 56.57L324.37 57.07L324.40 57.57L324.42 58.07L324.45 58.57L324.47 59.07L324.50 59.57L324.52 60.07L324.54 60.57L324.56 61.07L324.58 61.57L324.60 62.07L324.62 62.57L324.64 63.07L324.66 63.57L324.68 64.07L324.70 64.57L324.72 65.07L324.74 65.57L324.76 66.07L324.78 66.57L324.80 67.07L324.82 67.57L324.83 68.07L324.85 68.57L324.87 69.07L324.89 69.57L324.91 70.07L324.93 70.57L324.94 71.07L324.96 71.57L324.98 72.07L325.00 72.57L325.02 73.07L325.03 73.57L325.05 74.07L325.07 74.57L325.08 75.07L325.10 75.57L325.12 76.07L325.14 76.57L325.15 77.07L325.17 77.57L325.18 78.07L325.20 78.57L325.22 79.07L325.23 79.57L325.25 80.07L325.26 80.57L325.28 81.07L325.29 81.58L325.31 82.08L325.32 82.58L325.34 83.08L325.35 83.58L325.36 84.08L325.38 84.58L325.39 85.08L325.41 85.58L325.42 86.08L325.43 86.58L325.45 87.08L325.46 87.58L325.47 88.08L325.48 88.58L325.49 89.08L325.51 89.58L325.52 90.08L325.53 90.58L325.54 91.08L325.55 91.58L325.56 92.08L325.57 92.58L325.58 93.08L325.59 93.58L325.60 94.08L325.61 94.58L325.62 95.09L325.63 95.59L325.64 96.09L325.65 96.59L325.66 97.09L325.66 97.59L325.67 98.09L325.68 98.59L325.69 99.09L325.69 99.59L325.70 100.09L325.71 100.59L325.71 101.09L325.72 101.59L325.73 102.09L325.73 102.59L325.74 103.09L325.75 103.59L325.75 104.09L325.76 104.59L325.76 105.09L325.77 105.59L325.78 106.09L325.78 106.59L325.79 107.09L325.79 107.59L325.80 108.10L325.81 108.60L325.81 109.10L325.82 109.60L325.82 110.10L325.83 110.60L325.83 111.10L325.84 111.60L325.84 112.10L325.85 112.60L325.85 113.10L325.86 113.60L325.86 114.10L325.87 114.60L325.87 115.10L325.88 115.60L325.88 116.10L325.89 116.60L325.89 117.10L325.90 117.60L325.90 118.10L325.91 118.60L325.91 119.10L325.92 119.60L325.92 120.10L325.93 120.61L325.93 121.11L325.93 121.61L325.94 122.11L325.94 122.61L325.95 123.11L325.95 123.61L325.96 124.11L325.96 124.61L325.96 125.11L325.97 125.61L325.97 126.11L325.98 126.61L325.98 127.11L325.98 127.61L325.99 128.11L325.99 128.61L326.00 129.11L326.00 129.61L326.00 130.11L326.01 130.61L326.01 131.11L326.02 131.62L326.02 132.12L326.02 132.62L326.03 133.12L326.03 133.62L326.03 134.12L326.04 134.62L326.04 135.12L326.04 135.62L326.05 136.12L326.05 136.62L326.05 137.12L326.06 137.62L326.06 138.12L326.06 138.62L326.07 139.12L326.07 139.62L326.07 140.12L326.08 140.62L326.08 141.12L326.08 141.62L326.09 142.13L326.09 142.63L326.09 143.13L326.10 143.63L326.10 144.13L326.10 144.63L326.11 145.13L326.11 145.63L326.11 146.13L326.12 146.63L326.12 147.13L326.12 147.63L326.12 148.13L326.13 148.63L326.13 149.13L326.13 149.63L326.14 150.13L326.14 150.63L326.14 151.13L326.15 151.63L326.15 152.14L326.15 152.64L326.16 153.14L326.16 153.64L326.16 154.14L326.16 154.64L326.17 155.14L326.17 155.64L326.17 156.14L326.18 156.64L326.18 157.14L326.18 157.64L326.18 158.14L326.19 158.64L326.19 159.14L326.19 159.64L326.20 160.14L326.20 160.64L326.20 161.14L326.21 161.64L326.21 162.15L326.21 162.65L326.21 163.15L326.22 163.65L326.22 164.15L326.22 164.65L326.23 165.15L326.23 165.65L326.23 166.15L326.24 166.65L326.24 167.15L326.24 167.65L326.24 168.15L326.25 168.65L326.25 169.15L326.25 169.65L326.26 170.15L326.26 170.65L326.26 171.15L326.27 171.65L326.27 172.16L326.27 172.66L326.28 173.16L326.28 173.66L326.28 174.16L326.29 174.66L326.29 175.16L326.29 175.66L326.30 176.16L326.30 176.66L326.30 177.16L326.31 177.66L326.31 178.16L326.31 178.66L326.32 179.16L326.32 179.66L326.32 180.16L326.33 180.66L326.33 181.16L326.34 181.66L326.34 182.17L326.34 182.67L326.35 183.17L326.35 183.67L326.35 184.17L326.36 184.67L326.36 185.17L326.37 185.67L326.37 186.17L326.37 186.67L326.38 187.17L326.38 187.67L326.38 188.17L326.39 188.67L326.39 189.17L326.40 189.67L326.40 190.17L326.41 190.67L326.41 191.17L326.41 191.67L326.42 192.17L326.42 192.67L326.43 193.18L326.43 193.68L326.44 194.18L326.44 194.68L326.44 195.18L326.45 195.68L326.45 196.18L326.46 196.68L326.46 197.18L326.47 197.68L326.47 198.18L326.47 198.68L326.48 199.18L326.48 199.68L326.49 200.18L326.49 200.68L326.50 201.18L326.50 201.68L326.50 202.18L326.51 202.68L326.51 203.18L326.52 203.68L326.52 204.19L326.53 204.69L326.53 205.19L326.54 205.69L326.54 206.19L326.54 206.69L326.55 207.19L326.55 207.69L326.56 208.19L326.56 208.69L326.57 209.19L326.57 209.69L326.58 210.19L326.58 210.69L326.59 211.19L326.59 211.69L326.59 212.19L326.60 212.69L326.60 213.19L326.61 213.69L326.61 214.19L326.62 214.70L326.62 215.20L326.63 215.70L326.63 216.20L326.63 216.70L326.64 217.20L326.64 217.70L326.65 218.20L326.65 218.70L326.66 219.20L326.66 219.70L326.67 220.20L326.67 220.70L326.68 221.20L326.68 221.70L326.68 222.20L326.69 222.70L326.69 223.20L326.70 223.70L326.70 224.20L326.71 224.70L326.71 225.20L326.72 225.71L326.72 226.21L326.73 226.71L326.73 227.21L326.73 227.71L326.74 228.21L326.74 228.71L326.75 229.21L326.75 229.71L326.76 230.21L326.76 230.71L326.77 231.21L326.77 231.71L326.78 232.21L326.78 232.71L326.78 233.21L326.79 233.71L326.79 234.21L326.80 234.71L326.80 235.21L326.81 235.71L326.81 236.21L326.82 236.72L326.82 237.22L326.82 237.72L326.83 238.22L326.83 238.72L326.84 239.22L326.84 239.72L326.85 240.22L326.85 240.72L326.85 241.22L326.86 241.72L326.86 242.22L326.87 242.72L326.87 243.22L326.87 243.72L326.88 244.22L326.88 244.72L326.89 245.22L326.89 245.72L326.89 246.22L326.90 246.72L326.90 247.22L326.91 247.73L326.91 248.23L326.92 248.73L326.92 249.23L326.92 249.73L326.93 250.23L326.93 250.73L326.94 251.23L326.94 251.73L326.94 252.23L326.95 252.73L326.95 253.23L326.96 253.73L326.96 254.23L326.96 254.73L326.97 255.23L326.97 255.73L326.98 256.23L326.98 256.73L326.98 257.23L326.99 257.73L326.99 258.24L327.00 258.74L327.00 259.24L327.01 259.74L327.01 260.24L327.01 260.74L327.02 261.24L327.02 261.74L327.03 262.24L327.03 262.74L327.04 263.24L327.04 263.74L327.04 264.24L327.05 264.74L327.05 265.24L327.06 265.74L327.06 266.24L327.07 266.74L327.07 267.24L327.08 267.74L327.08 268.24L327.09 268.74L327.09 269.25L327.09 269.75L327.10 270.25L327.10 270.75L327.11 271.25L327.11 271.75L327.12 272.25L327.12 272.75L327.13 273.25L327.13 273.75L327.14 274.25L327.14 274.75L327.15 275.25L327.15 275.75L327.16 276.25L327.16 276.75L327.17 277.25L327.18 277.75L327.18 278.25L327.19 278.75L327.19 279.25L327.20 279.75L327.20 280.26L327.21 280.76L327.21 281.27L327.22 281.79L327.23 282.32L327.23 282.84L327.24 283.38L327.24 283.92L327.25 284.46L327.25 285.01L327.26 285.56L327.27 286.12L327.27 286.69L327.28 287.26L327.28 287.83L327.29 288.41L327.30 288.99L327.30 289.57L327.31 290.16L327.31 290.76L327.32 291.35L327.33 291.95L327.33 292.56L327.34 293.17L327.34 293.78L327.35 294.40L327.36 295.01L327.36 295.64L327.37 296.26L327.37 296.89L327.38 297.52L327.39 298.15L327.39 298.79L327.40 299.42L327.41 300.07L327.41 300.71L327.42 301.35L327.43 302.00L327.43 302.65L327.44 303.30L327.45 303.95L327.45 304.61L327.46 305.26L327.47 305.92L327.47 306.58L327.48 307.24L327.49 307.90L327.49 308.56L327.50 309.23L327.51 309.89L327.51 310.56L327.52 311.22L327.53 311.89L327.53 312.56L327.54 313.22L327.55 313.89L327.55 314.56L327.56 315.22L327.57 315.89L327.58 316.56L327.58 317.22L327.59 317.89L327.60 318.56L327.60 319.22L327.61 319.89L327.62 320.55L327.63 321.21L327.63 321.87L327.64 322.53L327.65 323.19L327.66 323.85L327.66 324.51L327.67 325.16L327.68 325.82L327.69 326.47L327.69 327.12L327.70 327.76L327.71 328.41L327.72 329.05L327.72 329.69L327.73 330.33L327.74 330.97L327.75 331.60L327.76 332.23L327.76 332.86L327.77 333.49L327.78 334.11L327.79 334.73L327.80 335.35L327.80 335.96L327.81 336.57L327.82 337.17L327.83 337.77L327.84 338.37L327.85 338.97L327.85 339.56L327.86 340.14L327.87 340.73L327.88 341.30L327.89 341.88L327.90 342.45L327.90 343.01L327.91 343.57L327.92 344.13L327.93 344.68L327.94 345.22L327.95 345.76L327.96 346.30L327.97 346.83L327.98 347.35L327.98 347.87L327.99 348.38L328.00 348.89L328.01 349.39L328.02 349.89L328.03 350.38L328.04 350.86L328.05 351.34L328.06 351.81L328.07 352.28L328.08 352.73L328.09 353.19L328.10 353.63L328.10 354.07L328.11 354.50L328.12 354.92L328.13 355.34L328.14 355.75L328.15 356.15L328.16 356.55L328.17 356.93L328.18 357.31L328.19 357.68L328.20 358.05L328.21 358.40L328.22 358.75L328.23 359.09L328.24 359.42L328.25 359.74L328.26 360.06L328.27 360.36L328.28 360.66L328.30 360.95L328.31 361.23L328.32 361.50L328.33 361.76L328.34 362.01L328.35 362.25L328.36 362.48L328.37 362.71L328.38 362.92L328.39 363.12L328.40 363.32L328.41 363.50L328.42 363.67L328.44 363.84L328.45 363.99L328.46 364.13L328.47 364.27L328.48 364.39L328.49 364.50L328.50 364.60L328.51 364.69L328.53 364.77L328.54 364.83L328.55 364.89L328.56 364.93L328.57 364.97L328.58 364.99L328.60 365.00L328.61 364.98L328.62 364.89L328.63 364.73L328.64 364.50L328.66 364.21L328.67 363.86L328.68 363.45L328.69 363.00L328.71 362.51L328.72 361.97L328.73 361.40L328.75 360.81L328.76 360.19L328.78 359.55L328.79 358.89L328.81 358.23L328.83 357.57L328.85 356.90L328.87 356.24L328.88 355.59L328.91 354.96L328.93 354.34L328.95 353.75L328.97 353.19L329.00 352.67L329.02 352.17L329.06 351.67L329.09 351.17L329.13 350.67L329.18 350.18L329.22 349.68L329.27 349.18L329.32 348.68L329.37 348.18L329.43 347.68L329.48 347.19L329.53 346.69L329.58 346.19L329.63 345.69L329.68 345.19L329.73 344.70L329.79 344.20L329.84 343.70L329.89 343.20L329.95 342.71L330.00 342.21L330.06 341.71L330.11 341.21L330.17 340.72L330.22 340.22L330.27 339.72L330.32 339.22L330.37 338.72L330.42 338.23L330.47 337.73L330.52 337.23L330.57 336.73L330.62 336.23L330.67 335.74L330.73 335.24L330.78 334.74L330.84 334.24L330.91 333.75L330.97 333.25L331.04 332.76L331.11 332.26L331.19 331.77L331.27 331.27L331.35 330.78L331.43 330.28L331.51 329.79L331.60 329.30L331.69 328.80L331.78 328.31L331.87 327.82L331.97 327.33L332.06 326.84L332.16 326.35L332.27 325.86L332.37 325.37L332.48 324.88L332.59 324.39L332.70 323.90L332.82 323.42L332.93 322.93L333.05 322.44L333.16 321.96L333.28 321.47L333.40 320.98L333.52 320.50L333.65 320.01L333.77 319.53L333.90 319.04L334.03 318.56L334.16 318.08L334.30 317.59L334.43 317.11L334.57 316.63L334.71 316.15L334.86 315.67L335.00 315.19L335.15 314.71L335.30 314.23L335.45 313.75L335.61 313.28L335.78 312.81L335.96 312.34L336.15 311.88L336.35 311.42L336.55 310.96L336.77 310.50L337.01 310.05L337.25 309.61L337.52 309.19L337.80 308.80L338.13 308.37L338.51 307.93L338.90 307.60L339.27 307.51L339.64 307.69L340.01 308.06L340.36 308.52L340.67 309.00L340.93 309.41L341.17 309.84L341.38 310.27L341.58 310.73L341.76 311.19L341.94 311.67L342.11 312.15L342.28 312.63L342.45 313.11L342.62 313.59L342.80 314.07L342.99 314.54L343.20 314.99L343.40 315.50L343.61 316.07L343.81 316.65L344.03 317.19L344.27 317.64L344.55 317.92L344.87 318.00L345.31 317.97L345.84 317.92L346.39 317.85L346.87 317.76L347.32 317.59L347.75 317.34L348.17 317.05L348.58 316.73L349.00 316.42L349.43 316.14L349.86 315.90L350.30 315.65L350.74 315.39L351.18 315.15L351.62 314.90L352.07 314.67L352.51 314.45L352.97 314.25L353.43 314.06L353.89 313.90L354.36 313.74L354.84 313.59L355.32 313.45L355.81 313.31L356.30 313.19L356.79 313.08L357.28 312.98L357.77 312.89L358.26 312.81L358.76 312.75L359.25 312.68L359.75 312.63L360.25 312.58L360.75 312.52L361.25 312.47L361.75 312.41L362.24 312.35L362.74 312.29L363.24 312.22L363.73 312.16L364.23 312.09L364.73 312.03L365.22 311.96L365.72 311.89L366.22 311.83L366.71 311.76L367.21 311.70L367.71 311.64L368.20 311.58L368.70 311.53L369.20 311.48L369.70 311.43L370.19 311.39L370.69 311.35L371.19 311.31L371.69 311.28L372.19 311.24L372.69 311.20L373.19 311.17L373.69 311.14L374.19 311.10L374.69 311.07L375.19 311.04L375.69 311.02L376.19 310.99L376.69 310.97L377.19 310.94L377.69 310.92L378.19 310.90L378.69 310.89L379.19 310.87L379.69 310.85L380.19 310.84L380.69 310.82L381.19 310.81L381.69 310.80L382.19 310.79L382.69 310.77L383.19 310.76L383.69 310.75L384.19 310.74L384.69 310.73L385.19 310.72L385.69 310.71L386.19 310.70L386.69 310.70L387.19 310.69L387.69 310.68L388.19 310.67L388.69 310.67L389.19 310.66L389.69 310.65L390.20 310.65L390.70 310.64L391.20 310.63L391.70 310.63L392.20 310.62L392.70 310.62L393.20 310.61L393.70 310.61L394.20 310.61L394.70 310.60L395.20 310.60L489.80 310.60L490.30 310.40L490.73 310.15L491.05 309.84L491.31 309.44L491.53 308.98L491.73 308.48L491.92 308.00L492.11 307.53L492.29 307.07L492.47 306.60L492.65 306.14L492.81 305.66L492.97 305.19L493.13 304.72L493.29 304.24L493.44 303.76L493.59 303.28L493.74 302.80L493.89 302.32L494.04 301.84L494.19 301.37L494.34 300.89L494.49 300.41L494.65 299.93L494.80 299.46L494.95 298.98L495.11 298.50L495.26 298.03L495.41 297.55L495.56 297.07L495.71 296.59L495.86 296.12L496.01 295.64L496.15 295.16L496.30 294.68L496.44 294.20L496.58 293.72L496.71 293.24L496.85 292.75L496.98 292.27L497.10 291.79L497.23 291.30L497.35 290.82L497.47 290.33L497.59 289.85L497.71 289.36L497.83 288.88L497.94 288.39L498.06 287.90L498.17 287.41L498.28 286.92L498.39 286.43L498.49 285.94L498.60 285.45L498.70 284.96L498.80 284.47L498.90 283.98L498.99 283.49L499.08 283.00L499.17 282.51L499.26 282.02L499.35 281.52L499.43 281.03L499.52 280.54L499.60 280.05L499.68 279.55L499.77 279.06L499.85 278.56L499.92 278.07L500.00 277.57L500.08 277.08L500.15 276.58L500.23 276.09L500.30 275.59L500.37 275.10L500.44 274.60L500.51 274.11L500.58 273.61L500.65 273.11L500.72 272.62L500.78 272.12L500.85 271.62L500.91 271.13L500.97 270.63L501.03 270.13L501.09 269.64L501.15 269.14L501.22 268.65L501.28 268.15L501.33 267.65L501.39 267.15L501.45 266.66L501.51 266.16L501.57 265.66L501.62 265.16L501.68 264.67L501.73 264.17L501.79 263.67L501.84 263.17L501.89 262.67L501.94 262.18L501.99 261.68L502.03 261.18L502.08 260.68L502.12 260.18L502.16 259.68L502.20 259.19L502.24 258.69L502.28 258.19L502.31 257.69L502.35 257.19L502.38 256.69L502.42 256.19L502.45 255.69L502.48 255.19L502.52 254.69L502.55 254.19L502.58 253.70L502.61 253.20L502.64 252.70L502.67 252.20L502.70 251.70L502.73 251.20L502.76 250.70L502.79 250.20L502.82 249.70L502.84 249.20L502.87 248.70L502.90 248.20L502.92 247.70L502.95 247.20L502.97 246.70L502.99 246.20L503.01 245.70L503.03 245.20L503.05 244.70L503.07 244.20L503.09 243.70L503.11 243.19L503.13 242.69L503.14 242.19L503.16 241.69L503.17 241.19L503.18 240.69L503.20 240.19L503.21 239.69L503.22 239.19L503.23 238.69L503.24 238.19L503.25 237.69L503.26 237.19L503.27 236.69L503.28 236.19L503.29 235.69L503.30 235.19L503.30 234.69L503.31 234.19L503.32 233.69L503.33 233.19L503.34 232.69L503.35 232.19L503.35 231.69L503.36 231.19L503.37 230.69L503.38 230.19L503.39 229.69L503.39 229.19L503.40 228.69L503.41 228.19L503.41 227.69L503.42 227.19L503.43 226.69L503.44 226.19L503.44 225.69L503.45 225.19L503.45 224.69L503.46 224.18L503.47 223.68L503.47 223.18L503.48 222.68L503.49 222.18L503.49 221.68L503.50 221.18L503.50 220.68L503.51 220.18L503.51 219.68L503.52 219.18L503.52 218.68L503.53 218.18L503.53 217.68L503.54 217.18L503.55 216.68L503.55 216.18L503.56 215.68L503.56 215.18L503.56 214.68L503.57 214.18L503.57 213.67L503.58 213.17L503.58 212.67L503.59 212.17L503.59 211.67L503.60 211.17L503.60 210.67L503.61 210.17L503.61 209.67L503.62 209.17L503.62 208.67L503.62 208.17L503.63 207.67L503.63 207.17L503.64 206.67L503.64 206.17L503.65 205.67L503.65 205.17L503.66 204.66L503.66 204.16L503.66 203.66L503.67 203.16L503.67 202.66L503.68 202.16L503.68 201.66L503.69 201.16L503.69 200.66L503.70 200.16L503.70 199.66L503.71 199.16L503.71 198.66L503.72 198.16L503.72 197.66L503.72 197.16L503.73 196.66L503.73 196.16L503.74 195.66L503.74 195.15L503.75 194.65L503.75 194.15L503.76 193.65L503.77 193.15L503.77 192.65L503.78 192.15L503.78 191.65L503.79 191.15L503.79 190.65L503.80 190.15L503.80 189.65L503.81 189.15L503.82 188.65L503.82 188.15L503.83 187.65L503.83 187.15L503.84 186.65L503.84 186.15L503.85 185.65L503.86 185.15L503.86 184.64L503.87 184.14L503.87 183.64L503.88 183.14L503.88 182.64L503.89 182.14L503.90 181.64L503.90 181.14L503.91 180.64L503.91 180.14L503.92 179.64L503.92 179.14L503.93 178.64L503.93 178.14L503.94 177.64L503.95 177.14L503.95 176.64L503.96 176.14L503.96 175.64L503.97 175.14L503.97 174.64L503.98 174.14L503.99 173.63L503.99 173.13L504.00 172.63L504.00 172.13L504.01 171.63L504.01 171.13L504.02 170.63L504.02 170.13L504.03 169.63L504.03 169.13L504.04 168.63L504.05 168.13L504.05 167.63L504.06 167.13L504.06 166.63L504.07 166.13L504.07 165.63L504.08 165.13L504.08 164.63L504.09 164.13L504.10 163.63L504.10 163.13L504.11 162.63L504.11 162.12L504.12 161.62L504.12 161.12L504.13 160.62L504.13 160.12L504.14 159.62L504.14 159.12L504.15 158.62L504.16 158.12L504.16 157.62L504.17 157.12L504.17 156.62L504.18 156.12L504.18 155.62L504.19 155.12L504.19 154.62L504.20 154.12L504.20 153.62L504.21 153.12L504.21 152.62L504.22 152.12L504.23 151.62L504.23 151.11L504.24 150.61L504.24 150.11L504.25 149.61L504.25 149.11L504.26 148.61L504.26 148.11L504.27 147.61L504.27 147.11L504.28 146.61L504.28 146.11L504.29 145.61L504.30 145.11L504.30 144.61L504.31 144.11L504.31 143.61L504.32 143.11L504.32 142.61L504.33 142.11L504.33 141.61L504.34 141.11L504.34 140.61L504.35 140.10L504.36 139.60L504.36 139.10L504.37 138.60L504.37 138.10L504.38 137.60L504.38 137.10L504.39 136.60L504.39 136.10L504.40 135.60L504.40 135.10L504.41 134.60L504.42 134.10L504.42 133.60L504.43 133.10L504.43 132.60L504.44 132.10L504.44 131.60L504.45 131.10L504.45 130.60L504.46 130.10L504.46 129.60L504.47 129.09L504.48 128.59L504.48 128.09L504.49 127.59L504.49 127.09L504.50 126.59L504.50 126.09L504.51 125.59L504.51 125.09L504.52 124.59L504.52 124.09L504.53 123.59L504.54 123.09L504.54 122.59L504.55 122.09L504.55 121.59L504.56 121.09L504.56 120.59L504.57 120.09L504.58 119.59L504.58 119.09L504.59 118.59L504.59 118.09L504.60 117.58L504.60 117.08L504.61 116.58L504.61 116.08L504.62 115.58L504.63 115.08L504.63 114.58L504.64 114.08L504.64 113.58L504.65 113.08L504.65 112.58L504.66 112.08L504.67 111.58L504.67 111.08L504.68 110.58L504.68 110.08L504.69 109.58L504.69 109.08L504.70 108.58L504.71 108.08L504.71 107.58L504.72 107.08L504.72 106.57L504.73 106.07L504.73 105.57L504.74 105.07L504.75 104.57L504.75 104.07L504.76 103.57L504.76 103.07L504.77 102.57L504.78 102.07L504.78 101.57L504.79 101.07L504.79 100.57L504.80 100.07L504.81 99.57L504.81 99.07L504.82 98.57L504.82 98.07L504.83 97.57L504.84 97.07L504.84 96.57L504.85 96.07L504.85 95.57L504.86 95.06L504.87 94.56L504.87 94.06L504.88 93.56L504.88 93.06L504.89 92.56L504.90 92.06L504.90 91.56L504.91 91.06L504.92 90.56L504.92 90.06L504.93 89.56L504.93 89.06L504.94 88.56L504.95 88.06L504.95 87.56L504.96 87.06L504.97 86.56L504.97 86.06L504.98 85.56L504.99 85.06L504.99 84.56L505.00 84.06L505.00 83.55L505.01 83.05L505.02 82.55L505.02 82.05L505.03 81.55L505.04 81.05L505.04 80.55L505.05 80.05L505.06 79.55L505.06 79.05L505.07 78.55L505.07 78.05L505.08 77.55L505.09 77.05L505.09 76.55L505.10 76.05L505.11 75.55L505.11 75.05L505.12 74.55L505.13 74.05L505.13 73.55L505.14 73.05L505.14 72.54L505.15 72.04L505.16 71.54L505.16 71.04L505.17 70.54L505.18 70.04L505.18 69.54L505.19 69.04L505.20 68.54L505.20 68.04L505.21 67.54L505.21 67.04L505.22 66.54L505.23 66.04L505.23 65.54L505.24 65.04L505.25 64.54L505.25 64.04L505.26 63.54L505.26 63.04L505.27 62.54L505.28 62.04L505.28 61.54L505.29 61.03L505.29 60.53L505.30 60.03L505.31 59.53L505.31 59.03L505.32 58.53L505.32 58.03L505.33 57.53L505.33 57.03L505.34 56.53L505.35 56.03L505.35 55.53L505.36 55.03L505.36 54.53L505.37 54.03L505.38 53.53L505.38 53.03L505.39 52.53L505.39 52.03L505.40 51.53L505.40 51.03L505.41 50.53L505.41 50.03L505.42 49.52L505.43 49.02L505.43 48.52L505.44 48.02L505.44 47.52L505.45 47.02L505.45 46.52L505.46 46.02L505.46 45.52L505.47 45.02L505.48 44.52L505.48 44.02L505.49 43.52L505.49 43.02L505.50 42.52L505.50 42.02L505.51 41.52L505.51 41.02L505.52 40.52L505.53 40.02L505.53 39.52L505.54 39.02L505.54 38.51L505.55 38.01L505.55 37.51L505.56 37.01L505.56 36.51L505.57 36.01L505.58 35.51L505.58 35.01L505.59 34.51L505.59 34.01L505.60 33.51L505.60 33.01L505.61 32.51L505.62 32.01L505.62 31.51L505.63 31.01L505.63 30.51L505.64 30.01L505.65 29.51L505.65 29.01L505.66 28.51L505.66 28.01L505.67 27.50L505.68 27.00L505.68 26.50L505.69 26.00L505.69 25.50L505.70 25.00L505.71 24.49L505.71 23.94L505.72 23.37L505.72 22.77L505.73 22.16L505.73 21.52L505.74 20.88L505.75 20.22L505.75 19.56L505.76 18.89L505.76 18.23L505.77 17.56L505.77 16.91L505.78 16.26L505.78 15.62L505.79 15.00L505.80 14.40L505.80 13.82L505.81 13.27L505.81 12.74L505.82 12.25L505.83 11.79L505.84 11.38L505.84 11.00L505.85 10.67L505.86 10.39L505.87 10.16L505.88 9.98L505.89 9.86L505.90 9.80L505.91 9.81L505.92 9.85L505.93 9.93L505.95 10.05L505.96 10.20L505.98 10.39L506.00 10.61L506.02 10.86L506.04 11.15L506.06 11.46L506.09 11.80L506.11 12.17L506.14 12.56L506.16 12.98L506.19 13.42L506.22 13.89L506.25 14.37L506.28 14.88L506.31 15.40L506.34 15.94L506.37 16.50L506.41 17.08L506.44 17.66L506.47 18.26L506.51 18.88L506.54 19.50L506.58 20.13L506.61 20.77L506.65 21.42L506.68 22.08L506.72 22.74L506.76 23.40L506.79 24.06L506.83 24.73L506.86 25.40L506.90 26.06L506.94 26.72L506.97 27.38L507.01 28.04L507.04 28.68L507.08 29.32L507.11 29.96L507.15 30.58L507.18 31.19L507.22 31.80L507.25 32.38L507.28 32.96L507.31 33.52L507.34 34.06L507.38 34.58L507.41 35.09L507.44 35.59L507.47 36.09L507.50 36.59L507.53 37.09L507.56 37.59L507.59 38.09L507.62 38.59L507.65 39.09L507.68 39.59L507.72 40.09L507.75 40.59L507.78 41.08L507.81 41.58L507.85 42.08L507.88 42.58L507.91 43.08L507.95 43.58L507.98 44.08L508.01 44.58L508.04 45.08L508.08 45.58L508.11 46.08L508.14 46.58L508.17 47.08L508.21 47.58L508.24 48.08L508.27 48.58L508.30 49.08L508.34 49.58L508.37 50.08L508.40 50.58L508.43 51.07L508.46 51.57L508.49 52.07L508.52 52.57L508.55 53.07L508.58 53.57L508.61 54.07L508.64 54.57L508.66 55.07L508.69 55.57L508.72 56.07L508.75 56.57L508.77 57.07L508.80 57.57L508.82 58.07L508.85 58.57L508.87 59.07L508.90 59.57L508.92 60.07L508.94 60.57L508.96 61.07L508.98 61.57L509.00 62.07L509.02 62.57L509.04 63.07L509.06 63.57L509.08 64.07L509.10 64.57L509.12 65.07L509.14 65.57L509.16 66.07L509.18 66.57L509.20 67.07L509.22 67.57L509.23 68.07L509.25 68.57L509.27 69.07L509.29 69.57L509.31 70.07L509.33 70.57L509.34 71.07L509.36 71.57L509.38 72.07L509.40 72.57L509.42 73.07L509.43 73.57L509.45 74.07L509.47 74.57L509.48 75.07L509.50 75.57L509.52 76.07L509.54 76.57L509.55 77.07L509.57 77.57L509.58 78.07L509.60 78.57L509.62 79.07L509.63 79.57L509.65 80.07L509.66 80.57L509.68 81.07L509.69 81.58L509.71 82.08L509.72 82.58L509.74 83.08L509.75 83.58L509.76 84.08L509.78 84.58L509.79 85.08L509.81 85.58L509.82 86.08L509.83 86.58L509.85 87.08L509.86 87.58L509.87 88.08L509.88 88.58L509.89 89.08L509.91 89.58L509.92 90.08L509.93 90.58L509.94 91.08L509.95 91.58L509.96 92.08L509.97 92.58L509.98 93.08L509.99 93.58L510.00 94.08L510.01 94.58L510.02 95.09L510.03 95.59L510.04 96.09L510.05 96.59L510.06 97.09L510.06 97.59L510.07 98.09L510.08 98.59L510.09 99.09L510.09 99.59L510.10 100.09L510.11 100.59L510.11 101.09L510.12 101.59L510.13 102.09L510.13 102.59L510.14 103.09L510.15 103.59L510.15 104.09L510.16 104.59L510.16 105.09L510.17 105.59L510.18 106.09L510.18 106.59L510.19 107.09L510.19 107.59L510.20 108.10L510.21 108.60L510.21 109.10L510.22 109.60L510.22 110.10L510.23 110.60L510.23 111.10L510.24 111.60L510.24 112.10L510.25 112.60L510.25 113.10L510.26 113.60L510.26 114.10L510.27 114.60L510.27 115.10L510.28 115.60L510.28 116.10L510.29 116.60L510.29 117.10L510.30 117.60L510.30 118.10L510.31 118.60L510.31 119.10L510.32 119.60L510.32 120.10L510.33 120.61L510.33 121.11L510.33 121.61L510.34 122.11L510.34 122.61L510.35 123.11L510.35 123.61L510.36 124.11L510.36 124.61L510.36 125.11L510.37 125.61L510.37 126.11L510.38 126.61L510.38 127.11L510.38 127.61L510.39 128.11L510.39 128.61L510.40 129.11L510.40 129.61L510.40 130.11L510.41 130.61L510.41 131.11L510.42 131.62L510.42 132.12L510.42 132.62L510.43 133.12L510.43 133.62L510.43 134.12L510.44 134.62L510.44 135.12L510.44 135.62L510.45 136.12L510.45 136.62L510.45 137.12L510.46 137.62L510.46 138.12L510.46 138.62L510.47 139.12L510.47 139.62L510.47 140.12L510.48 140.62L510.48 141.12L510.48 141.62L510.49 142.13L510.49 142.63L510.49 143.13L510.50 143.63L510.50 144.13L510.50 144.63L510.51 145.13L510.51 145.63L510.51 146.13L510.52 146.63L510.52 147.13L510.52 147.63L510.52 148.13L510.53 148.63L510.53 149.13L510.53 149.63L510.54 150.13L510.54 150.63L510.54 151.13L510.55 151.63L510.55 152.14L510.55 152.64L510.56 153.14L510.56 153.64L510.56 154.14L510.56 154.64L510.57 155.14L510.57 155.64L510.57 156.14L510.58 156.64L510.58 157.14L510.58 157.64L510.58 158.14L510.59 158.64L510.59 159.14L510.59 159.64L510.60 160.14L510.60 160.64L510.60 161.14L510.61 161.64L510.61 162.15L510.61 162.65L510.61 163.15L510.62 163.65L510.62 164.15L510.62 164.65L510.63 165.15L510.63 165.65L510.63 166.15L510.64 166.65L510.64 167.15L510.64 167.65L510.64 168.15L510.65 168.65L510.65 169.15L510.65 169.65L510.66 170.15L510.66 170.65L510.66 171.15L510.67 171.65L510.67 172.16L510.67 172.66L510.68 173.16L510.68 173.66L510.68 174.16L510.69 174.66L510.69 175.16L510.69 175.66L510.70 176.16L510.70 176.66L510.70 177.16L510.71 177.66L510.71 178.16L510.71 178.66L510.72 179.16L510.72 179.66L510.72 180.16L510.73 180.66L510.73 181.16L510.74 181.66L510.74 182.17L510.74 182.67L510.75 183.17L510.75 183.67L510.75 184.17L510.76 184.67L510.76 185.17L510.77 185.67L510.77 186.17L510.77 186.67L510.78 187.17L510.78 187.67L510.78 188.17L510.79 188.67L510.79 189.17L510.80 189.67L510.80 190.17L510.81 190.67L510.81 191.17L510.81 191.67L510.82 192.17L510.82 192.67L510.83 193.18L510.83 193.68L510.84 194.18L510.84 194.68L510.84 195.18L510.85 195.68L510.85 196.18L510.86 196.68L510.86 197.18L510.87 197.68L510.87 198.18L510.87 198.68L510.88 199.18L510.88 199.68L510.89 200.18L510.89 200.68L510.90 201.18L510.90 201.68L510.90 202.18L510.91 202.68L510.91 203.18L510.92 203.68L510.92 204.19L510.93 204.69L510.93 205.19L510.94 205.69L510.94 206.19L510.94 206.69L510.95 207.19L510.95 207.69L510.96 208.19L510.96 208.69L510.97 209.19L510.97 209.69L510.98 210.19L510.98 210.69L510.99 211.19L510.99 211.69L510.99 212.19L511.00 212.69L511.00 213.19L511.01 213.69L511.01 214.19L511.02 214.70L511.02 215.20L511.03 215.70L511.03 216.20L511.03 216.70L511.04 217.20L511.04 217.70L511.05 218.20L511.05 218.70L511.06 219.20L511.06 219.70L511.07 220.20L511.07 220.70L511.08 221.20L511.08 221.70L511.08 222.20L511.09 222.70L511.09 223.20L511.10 223.70L511.10 224.20L511.11 224.70L511.11 225.20L511.12 225.71L511.12 226.21L511.13 226.71L511.13 227.21L511.13 227.71L511.14 228.21L511.14 228.71L511.15 229.21L511.15 229.71L511.16 230.21L511.16 230.71L511.17 231.21L511.17 231.71L511.18 232.21L511.18 232.71L511.18 233.21L511.19 233.71L511.19 234.21L511.20 234.71L511.20 235.21L511.21 235.71L511.21 236.21L511.22 236.72L511.22 237.22L511.22 237.72L511.23 238.22L511.23 238.72L511.24 239.22L511.24 239.72L511.25 240.22L511.25 240.72L511.25 241.22L511.26 241.72L511.26 242.22L511.27 242.72L511.27 243.22L511.27 243.72L511.28 244.22L511.28 244.72L511.29 245.22L511.29 245.72L511.29 246.22L511.30 246.72L511.30 247.22L511.31 247.73L511.31 248.23L511.32 248.73L511.32 249.23L511.32 249.73L511.33 250.23L511.33 250.73L511.34 251.23L511.34 251.73L511.34 252.23L511.35 252.73L511.35 253.23L511.36 253.73L511.36 254.23L511.36 254.73L511.37 255.23L511.37 255.73L511.38 256.23L511.38 256.73L511.38 257.23L511.39 257.73L511.39 258.24L511.40 258.74L511.40 259.24L511.41 259.74L511.41 260.24L511.41 260.74L511.42 261.24L511.42 261.74L511.43 262.24L511.43 262.74L511.44 263.24L511.44 263.74L511.44 264.24L511.45 264.74L511.45 265.24L511.46 265.74L511.46 266.24L511.47 266.74L511.47 267.24L511.48 267.74L511.48 268.24L511.49 268.74L511.49 269.25L511.49 269.75L511.50 270.25L511.50 270.75L511.51 271.25L511.51 271.75L511.52 272.25L511.52 272.75L511.53 273.25L511.53 273.75L511.54 274.25L511.54 274.75L511.55 275.25L511.55 275.75L511.56 276.25L511.56 276.75L511.57 277.25L511.58 277.75L511.58 278.25L511.59 278.75L511.59 279.25L511.60 279.75L511.60 280.26L511.61 280.76L511.61 281.27L511.62 281.79L511.63 282.32L511.63 282.84L511.64 283.38L511.64 283.92L511.65 284.46L511.65 285.01L511.66 285.56L511.67 286.12L511.67 286.69L511.68 287.26L511.68 287.83L511.69 288.41L511.70 288.99L511.70 289.57L511.71 290.16L511.71 290.76L511.72 291.35L511.73 291.95L511.73 292.56L511.74 293.17L511.74 293.78L511.75 294.40L511.76 295.01L511.76 295.64L511.77 296.26L511.77 296.89L511.78 297.52L511.79 298.15L511.79 298.79L511.80 299.42L511.81 300.07L511.81 300.71L511.82 301.35L511.83 302.00L511.83 302.65L511.84 303.30L511.85 303.95L511.85 304.61L511.86 305.26L511.87 305.92L511.87 306.58L511.88 307.24L511.89 307.90L511.89 308.56L511.90 309.23L511.91 309.89L511.91 310.56L511.92 311.22L511.93 311.89L511.93 312.56L511.94 313.22L511.95 313.89L511.95 314.56L511.96 315.22L511.97 315.89L511.98 316.56L511.98 317.22L511.99 317.89L512.00 318.56L512.00 319.22L512.01 319.89L512.02 320.55L512.03 321.21L512.03 321.87L512.04 322.53L512.05 323.19L512.06 323.85L512.06 324.51L512.07 325.16L512.08 325.82L512.09 326.47L512.09 327.12L512.10 327.76L512.11 328.41L512.12 329.05L512.12 329.69L512.13 330.33L512.14 330.97L512.15 331.60L512.16 332.23L512.16 332.86L512.17 333.49L512.18 334.11L512.19 334.73L512.20 335.35L512.20 335.96L512.21 336.57L512.22 337.17L512.23 337.77L512.24 338.37L512.25 338.97L512.25 339.56L512.26 340.14L512.27 340.73L512.28 341.30L512.29 341.88L512.30 342.45L512.30 343.01L512.31 343.57L512.32 344.13L512.33 344.68L512.34 345.22L512.35 345.76L512.36 346.30L512.37 346.83L512.38 347.35L512.38 347.87L512.39 348.38L512.40 348.89L512.41 349.39L512.42 349.89L512.43 350.38L512.44 350.86L512.45 351.34L512.46 351.81L512.47 352.28L512.48 352.73L512.49 353.19L512.50 353.63L512.50 354.07L512.51 354.50L512.52 354.92L512.53 355.34L512.54 355.75L512.55 356.15L512.56 356.55L512.57 356.93L512.58 357.31L512.59 357.68L512.60 358.05L512.61 358.40L512.62 358.75L512.63 359.09L512.64 359.42L512.65 359.74L512.66 360.06L512.67 360.36L512.68 360.66L512.70 360.95L512.71 361.23L512.72 361.50L512.73 361.76L512.74 362.01L512.75 362.25L512.76 362.48L512.77 362.71L512.78 362.92L512.79 363.12L512.80 363.32L512.81 363.50L512.82 363.67L512.84 363.84L512.85 363.99L512.86 364.13L512.87 364.27L512.88 364.39L512.89 364.50L512.90 364.60L512.91 364.69L512.93 364.77L512.94 364.83L512.95 364.89L512.96 364.93L512.97 364.97L512.98 364.99L513.00 365.00L513.01 364.98L513.02 364.89L513.03 364.73L513.04 364.50L513.06 364.21L513.07 363.86L513.08 363.45L513.09 363.00L513.11 362.51L513.12 361.97L513.13 361.40L513.15 360.81L513.16 360.19L513.18 359.55L513.19 358.89L513.21 358.23L513.23 357.57L513.25 356.90L513.27 356.24L513.28 355.59L513.31 354.96L513.33 354.34L513.35 353.75L513.37 353.19L513.40 352.67L513.42 352.17L513.46 351.67L513.49 351.17L513.53 350.67L513.58 350.18L513.62 349.68L513.67 349.18L513.72 348.68L513.77 348.18L513.83 347.68L513.88 347.19L513.93 346.69L513.98 346.19L514.03 345.69L514.08 345.19L514.13 344.70L514.19 344.20L514.24 343.70L514.29 343.20L514.35 342.71L514.40 342.21L514.46 341.71L514.51 341.21L514.57 340.72L514.62 340.22L514.67 339.72L514.72 339.22L514.77 338.72L514.82 338.23L514.87 337.73L514.92 337.23L514.97 336.73L515.02 336.23L515.07 335.74L515.13 335.24L515.18 334.74L515.24 334.24L515.31 333.75L515.37 333.25L515.44 332.76L515.51 332.26L515.59 331.77L515.67 331.27L515.75 330.78L515.83 330.28L515.91 329.79L516.00 329.30L516.09 328.80L516.18 328.31L516.27 327.82L516.37 327.33L516.46 326.84L516.56 326.35L516.67 325.86L516.77 325.37L516.88 324.88L516.99 324.39L517.10 323.90L517.22 323.42L517.33 322.93L517.45 322.44L517.56 321.96L517.68 321.47L517.80 320.98L517.92 320.50L518.05 320.01L518.17 319.53L518.30 319.04L518.43 318.56L518.56 318.08L518.70 317.59L518.83 317.11L518.97 316.63L519.11 316.15L519.26 315.67L519.40 315.19L519.55 314.71L519.70 314.23L519.85 313.75L520.01 313.28L520.18 312.81L520.36 312.34L520.55 311.88L520.75 311.42L520.95 310.96L521.17 310.50L521.41 310.05L521.65 309.61L521.92 309.19L522.20 308.80L522.53 308.37L522.91 307.93L523.30 307.60L523.67 307.51L524.04 307.69L524.41 308.06L524.76 308.52L525.07 309.00L525.33 309.41L525.57 309.84L525.78 310.27L525.98 310.73L526.16 311.19L526.34 311.67L526.51 312.15L526.68 312.63L526.85 313.11L527.02 313.59L527.20 314.07L527.39 314.54L527.60 314.99L527.80 315.50L528.01 316.07L528.21 316.65L528.43 317.19L528.67 317.64L528.95 317.92L529.27 318.00L529.71 317.97L530.24 317.92L530.79 317.85L531.27 317.76L531.72 317.59L532.15 317.34L532.57 317.05L532.98 316.73L533.40 316.42L533.83 316.14L534.26 315.90L534.70 315.65L535.14 315.39L535.58 315.15L536.02 314.90L536.47 314.67L536.91 314.45L537.37 314.25L537.83 314.06L538.29 313.90L538.76 313.74L539.24 313.59L539.72 313.45L540.21 313.31L540.70 313.19L541.19 313.08L541.68 312.98L542.17 312.89L542.66 312.81L543.16 312.75L543.65 312.68L544.15 312.63L544.65 312.58L545.15 312.52L545.65 312.47L546.15 312.41L546.64 312.35L547.14 312.29L547.64 312.22L548.13 312.16L548.63 312.09L549.13 312.03L549.62 311.96L550.12 311.89L550.62 311.83L551.11 311.76L551.61 311.70L552.11 311.64L552.60 311.58L553.10 311.53L553.60 311.48L554.10 311.43L554.59 311.39L555.09 311.35L555.59 311.31L556.09 311.28L556.59 311.24L557.09 311.20L557.59 311.17L558.09 311.14L558.59 311.10L559.09 311.07L559.59 311.04L560.09 311.02L560.59 310.99L561.09 310.97L561.59 310.94L562.09 310.92L562.59 310.90L563.09 310.89L563.59 310.87L564.09 310.85L564.59 310.84L565.09 310.82L565.59 310.81L566.09 310.80L566.59 310.79L567.09 310.77L567.59 310.76L568.09 310.75L568.59 310.74L569.09 310.73L569.59 310.72L570.09 310.71L570.59 310.70L571.09 310.70L571.59 310.69L572.09 310.68L572.59 310.67L573.09 310.67L573.59 310.66L574.09 310.65L574.60 310.65L575.10 310.64L575.60 310.63L576.10 310.63L576.60 310.62L577.10 310.62L577.60 310.61L578.10 310.61L578.60 310.61L579.10 310.60L579.60 310.60L579.60 310.60L580.11 310.59L580.61 310.59L581.12 310.58L581.63 310.57L582.13 310.57L582.64 310.56L583.15 310.55L583.65 310.55L584.16 310.54L584.67 310.53L585.17 310.53L585.68 310.52L586.19 310.52L586.69 310.51L587.20 310.50L587.71 310.50L588.21 310.49L588.72 310.48L589.23 310.48L589.73 310.47L590.24 310.47L590.75 310.46L591.25 310.46L591.76 310.45L592.27 310.44L592.77 310.44L593.28 310.43L593.79 310.43L594.29 310.42L594.80 310.42L595.31 310.41L595.81 310.41L596.32 310.40L596.83 310.40L597.33 310.39L597.84 310.39L598.35 310.38L598.85 310.38L599.36 310.37L599.87 310.37L600.38 310.36L600.88 310.36L601.39 310.36L601.90 310.35L602.40 310.35L602.91 310.34L603.42 310.34L603.92 310.33L604.43 310.33L604.94 310.32L605.44 310.32L605.95 310.32L606.46 310.31L606.96 310.31L607.47 310.30L607.98 310.30L608.48 310.29L608.99 310.29L609.50 310.29L610.00 310.28L610.51 310.28L611.02 310.27L611.52 310.27L612.03 310.27L612.54 310.26L613.04 310.26L613.55 310.26L614.06 310.25L614.56 310.25L615.07 310.24L615.58 310.24L616.08 310.24L616.59 310.23L617.10 310.23L617.60 310.23L618.11 310.22L618.62 310.22L619.12 310.22L619.63 310.21L620.14 310.21L620.64 310.21L621.15 310.20L621.66 310.20L622.16 310.20L622.67 310.19L623.18 310.19L623.68 310.19L624.19 310.18L624.70 310.18L625.20 310.18L625.71 310.17L626.22 310.17L626.72 310.17L627.23 310.17L627.74 310.16L628.25 310.16L628.75 310.16L629.26 310.15L629.77 310.15L630.27 310.15L630.78 310.15L631.29 310.14L631.79 310.14L632.30 310.14L632.81 310.13L633.31 310.13L633.82 310.13L634.33 310.13L634.83 310.12L635.34 310.12L635.85 310.12L636.35 310.12L636.86 310.11L637.37 310.11L637.87 310.11L638.38 310.11L638.89 310.10L639.39 310.10L639.90 310.10" clip-path="url(#pr)" fill="none" stroke="#ff0000" stroke-width="3.3" stroke-linejoin="round"/>
<path d="M85.50 365.90L85.51 365.40L85.52 364.90L85.53 364.39L85.54 363.89L85.56 363.39L85.57 362.89L85.59 362.39L85.60 361.88L85.62 361.38L85.64 360.88L85.67 360.38L85.69 359.88L85.72 359.38L85.75 358.88L85.78 358.38L85.81 357.87L85.84 357.37L85.87 356.87L85.91 356.37L85.95 355.87L85.98 355.37L86.02 354.87L86.06 354.37L86.10 353.87L86.14 353.37L86.19 352.87L86.23 352.37L86.27 351.87L86.31 351.36L86.36 350.86L86.40 350.36L86.44 349.86L86.49 349.36L86.53 348.86L86.58 348.36L86.62 347.86L86.66 347.36L86.71 346.86L86.76 346.36L86.80 345.86L86.85 345.36L86.90 344.86L86.94 344.36L86.99 343.86L87.04 343.36L87.09 342.86L87.15 342.36L87.20 341.86L87.25 341.36L87.31 340.86L87.36 340.36L87.42 339.87L87.48 339.37L87.54 338.87L87.60 338.37L87.66 337.87L87.72 337.37L87.78 336.87L87.85 336.38L87.92 335.88L87.98 335.38L88.05 334.89L88.12 334.39L88.19 333.90L88.27 333.40L88.34 332.90L88.41 332.40L88.49 331.89L88.57 331.39L88.65 330.89L88.73 330.39L88.81 329.88L88.90 329.38L88.99 328.88L89.09 328.38L89.18 327.89L89.28 327.39L89.39 326.90L89.50 326.41L89.62 325.93L89.74 325.45L89.86 324.97L89.99 324.50L90.13 324.03L90.27 323.57L90.44 323.10L90.62 322.63L90.82 322.16L91.03 321.69L91.26 321.22L91.50 320.76L91.75 320.30L92.02 319.85L92.29 319.42L92.58 319.00L92.87 318.60L93.17 318.21L93.47 317.84L93.79 317.50L94.12 317.15L94.49 316.81L94.87 316.47L95.27 316.14L95.69 315.83L96.11 315.52L96.55 315.24L97.00 314.97L97.45 314.72L97.90 314.50L98.35 314.30L98.79 314.13L99.25 313.97L99.71 313.81L100.18 313.66L100.65 313.52L101.14 313.38L101.62 313.25L102.12 313.13L102.61 313.01L103.11 312.90L103.61 312.79L104.12 312.69L104.62 312.59L105.12 312.51L105.63 312.43L106.13 312.35L106.63 312.28L107.13 312.22L107.62 312.16L108.12 312.11L108.62 312.05L109.11 312.00L109.61 311.95L110.11 311.90L110.61 311.86L111.11 311.81L111.61 311.77L112.11 311.72L112.61 311.68L113.11 311.64L113.61 311.60L114.11 311.57L114.62 311.53L115.12 311.50L115.62 311.46L116.12 311.43L116.63 311.40L117.13 311.37L117.63 311.35L118.14 311.32L118.64 311.30L119.14 311.28L119.64 311.26L120.14 311.24L120.65 311.22L121.15 311.20L121.65 311.19L122.15 311.17L122.65 311.16L123.15 311.14L123.66 311.13L124.16 311.11L124.66 311.10L125.16 311.09L125.66 311.07L126.16 311.06L126.67 311.05L127.17 311.04L127.67 311.02L128.17 311.01L128.67 311.00L129.17 310.99L129.68 310.98L130.18 310.97L130.68 310.96L131.18 310.95L131.68 310.94L132.19 310.93L132.69 310.92L133.19 310.91L133.69 310.90L134.20 310.89L134.70 310.88L135.20 310.87L135.70 310.87L136.20 310.86L136.71 310.85L137.21 310.84L137.71 310.84L138.21 310.83L138.72 310.82L139.22 310.82L139.72 310.81L140.22 310.80L140.72 310.80L141.23 310.79L141.73 310.79L142.23 310.78L142.73 310.78L143.23 310.77L143.74 310.77L144.24 310.76L144.74 310.76L145.24 310.75L145.74 310.75L146.25 310.74L146.75 310.74L147.25 310.74L147.75 310.73L148.26 310.73L148.76 310.72L149.26 310.72L149.76 310.72L150.26 310.71L150.77 310.71L151.27 310.70L151.77 310.70L152.27 310.70L152.77 310.69L153.28 310.69L153.78 310.69L154.28 310.68L154.78 310.68L155.28 310.68L155.79 310.67L156.29 310.67L156.79 310.67L157.29 310.66L157.79 310.66L158.30 310.66L158.80 310.65L159.30 310.65L159.80 310.65L160.30 310.64L160.81 310.64L161.31 310.64L161.81 310.64L162.31 310.63L162.81 310.63L163.32 310.63L163.82 310.63L164.32 310.62L164.82 310.62L165.32 310.62L165.83 310.62L166.33 310.62L166.83 310.61L167.33 310.61L167.84 310.61L168.34 310.61L168.84 310.61L169.34 310.61L169.84 310.61L170.35 310.60L170.85 310.60L171.35 310.60L171.85 310.60L172.35 310.60L172.86 310.60L173.36 310.60L173.86 310.60L174.36 310.60L174.86 310.60L175.37 310.60L175.87 310.60L176.37 310.60L176.87 310.60L177.37 310.60L177.88 310.60L178.38 310.60L178.88 310.60L179.38 310.60L179.88 310.60L180.39 310.60L180.89 310.60L181.39 310.60L181.89 310.60L182.39 310.60L182.90 310.60L183.40 310.60L183.90 310.60L184.40 310.60L184.91 310.60L185.41 310.60L185.91 310.60L186.41 310.60L186.91 310.60L187.42 310.60L187.92 310.60L188.42 310.60L188.92 310.60L189.42 310.60L189.93 310.60L190.43 310.60L190.93 310.60L191.43 310.60L191.93 310.60L192.44 310.60L192.94 310.60L193.44 310.60L193.94 310.60L194.44 310.60L194.95 310.60L195.45 310.60L195.95 310.60L196.45 310.60L196.95 310.60L197.46 310.60L197.96 310.60L198.46 310.60L198.96 310.60L199.46 310.60L199.97 310.60L200.47 310.60L200.97 310.60L201.47 310.60L201.98 310.60L202.48 310.60L202.98 310.60L203.48 310.60L203.98 310.60L204.49 310.60L204.99 310.60L205.49 310.60L205.99 310.60L206.49 310.60L207.00 310.60L207.50 310.60L208.00 310.60L213.60 310.60L214.11 310.60L214.62 310.58L215.12 310.57L215.63 310.54L216.13 310.51L216.62 310.48L217.12 310.44L217.61 310.39L218.10 310.34L218.59 310.29L219.08 310.21L219.58 310.09L220.07 309.95L220.55 309.78L221.02 309.60L221.47 309.41L221.91 309.20L222.36 308.96L222.79 308.68L223.21 308.38L223.60 308.06L223.97 307.73L224.30 307.39L224.61 307.01L224.91 306.61L225.19 306.18L225.46 305.74L225.72 305.30L225.96 304.86L226.20 304.43L226.43 303.99L226.66 303.54L226.87 303.08L227.08 302.63L227.28 302.17L227.48 301.70L227.66 301.24L227.84 300.78L228.02 300.31L228.18 299.84L228.35 299.36L228.51 298.89L228.67 298.41L228.82 297.93L228.98 297.46L229.14 296.98L229.29 296.51L229.45 296.03L229.60 295.56L229.75 295.08L229.90 294.60L230.05 294.12L230.20 293.65L230.35 293.17L230.50 292.69L230.65 292.21L230.79 291.73L230.94 291.26L231.09 290.78L231.24 290.30L231.39 289.82L231.55 289.35L231.70 288.87L231.85 288.39L232.00 287.91L232.17 287.43L232.34 286.97L232.54 286.52L232.76 286.07L233.02 285.63L233.31 285.22L233.63 284.84L234.00 284.49L234.40 284.20L234.84 283.98L235.31 283.79L235.78 283.60L236.23 283.38L236.67 283.13L237.07 282.84L237.41 282.48L237.72 282.07L237.99 281.66L238.22 281.22L238.44 280.76L238.64 280.30L238.82 279.83L238.98 279.36L239.14 278.88L239.29 278.40L239.42 277.92L239.55 277.43L239.66 276.95L239.76 276.46L239.85 275.97L239.94 275.47L240.03 274.98L240.11 274.49L240.19 273.99L240.27 273.50L240.35 273.00L240.43 272.51L240.51 272.01L240.59 271.52L240.67 271.03L240.75 270.53L240.82 270.03L240.88 269.54L240.94 269.04L241.00 268.55L241.04 268.05L241.09 267.55L241.13 267.05L241.17 266.55L241.21 266.06L241.25 265.56L241.29 265.06L241.33 264.56L241.36 264.06L241.40 263.56L241.43 263.06L241.46 262.56L241.49 262.06L241.52 261.56L241.55 261.06L241.57 260.56L241.60 260.06L241.63 259.56L241.65 259.06L241.67 258.56L241.70 258.06L241.72 257.56L241.74 257.06L241.76 256.56L241.79 256.06L241.81 255.56L241.83 255.06L241.85 254.56L241.87 254.06L241.89 253.56L241.91 253.06L241.93 252.56L241.94 252.06L241.96 251.56L241.98 251.06L242.00 250.56L242.02 250.06L242.03 249.56L242.05 249.06L242.07 248.56L242.08 248.06L242.10 247.56L242.11 247.06L242.13 246.56L242.14 246.06L242.16 245.56L242.17 245.06L242.19 244.56L242.20 244.06L242.21 243.56L242.23 243.06L242.24 242.56L242.25 242.05L242.26 241.55L242.28 241.05L242.29 240.55L242.30 240.05L242.31 239.55L242.32 239.05L242.33 238.55L242.34 238.05L242.36 237.55L242.37 237.05L242.38 236.55L242.39 236.05L242.40 235.55L242.41 235.05L242.42 234.55L242.43 234.05L242.44 233.55L242.45 233.05L242.46 232.55L242.47 232.05L242.48 231.55L242.49 231.05L242.50 230.55L242.51 230.05L242.52 229.55L242.53 229.05L242.54 228.55L242.55 228.05L242.56 227.55L242.57 227.05L242.58 226.55L242.59 226.04L242.60 225.54L242.61 225.04L242.62 224.54L242.63 224.04L242.64 223.54L242.65 223.04L242.65 222.54L242.66 222.04L242.67 221.54L242.68 221.04L242.69 220.54L242.70 220.04L242.71 219.54L242.72 219.04L242.72 218.54L242.73 218.04L242.74 217.54L242.75 217.04L242.76 216.54L242.77 216.04L242.77 215.54L242.78 215.04L242.79 214.54L242.80 214.04L242.80 213.54L242.81 213.03L242.82 212.53L242.83 212.03L242.84 211.53L242.84 211.03L242.85 210.53L242.86 210.03L242.86 209.53L242.87 209.03L242.88 208.53L242.89 208.03L242.89 207.53L242.90 207.03L242.91 206.53L242.91 206.03L242.92 205.53L242.93 205.03L242.93 204.53L242.94 204.03L242.95 203.53L242.95 203.03L242.96 202.53L242.97 202.03L242.97 201.53L242.98 201.02L242.98 200.52L242.99 200.02L243.00 199.52L243.00 199.02L243.01 198.52L243.01 198.02L243.02 197.52L243.03 197.02L243.03 196.52L243.04 196.02L243.04 195.52L243.05 195.02L243.05 194.52L243.06 194.02L243.06 193.52L243.07 193.02L243.07 192.52L243.08 192.02L243.08 191.52L243.09 191.02L243.09 190.52L243.10 190.02L243.10 189.52L243.11 189.01L243.11 188.51L243.12 188.01L243.12 187.51L243.13 187.01L243.13 186.51L243.14 186.01L243.14 185.51L243.15 185.01L243.15 184.51L243.16 184.01L243.16 183.51L243.16 183.01L243.17 182.51L243.17 182.01L243.18 181.51L243.18 181.01L243.18 180.51L243.19 180.01L243.19 179.51L243.20 179.01L243.20 178.51L243.20 178.01L243.21 177.51L243.21 177.00L243.22 176.50L243.22 176.00L243.22 175.50L243.23 175.00L243.23 174.50L243.23 174.00L243.24 173.50L243.24 173.00L243.24 172.50L243.25 172.00L243.25 171.50L243.25 171.00L243.26 170.50L243.26 170.00L243.26 169.50L243.27 169.00L243.27 168.50L243.27 168.00L243.28 167.50L243.28 167.00L243.28 166.50L243.29 166.00L243.29 165.49L243.29 164.99L243.30 164.49L243.30 163.99L243.30 163.49L243.30 162.99L243.31 162.49L243.31 161.99L243.31 161.49L243.32 160.99L243.32 160.49L243.32 159.99L243.32 159.49L243.33 158.99L243.33 158.49L243.33 157.99L243.34 157.49L243.34 156.99L243.34 156.49L243.34 155.99L243.35 155.49L243.35 154.99L243.35 154.48L243.35 153.98L243.36 153.48L243.36 152.98L243.36 152.48L243.36 151.98L243.37 151.48L243.37 150.98L243.37 150.48L243.38 149.98L243.38 149.48L243.38 148.98L243.38 148.48L243.39 147.98L243.39 147.48L243.39 146.98L243.39 146.48L243.40 145.98L243.40 145.48L243.40 144.98L243.40 144.48L243.41 143.98L243.41 143.48L243.41 142.97L243.41 142.47L243.42 141.97L243.42 141.47L243.42 140.97L243.42 140.47L243.43 139.97L243.43 139.47L243.43 138.97L243.43 138.47L243.44 137.97L243.44 137.47L243.44 136.97L243.45 136.47L243.45 135.97L243.45 135.47L243.45 134.97L243.46 134.47L243.46 133.97L243.46 133.47L243.46 132.97L243.47 132.47L243.47 131.96L243.47 131.46L243.47 130.96L243.48 130.46L243.48 129.96L243.48 129.46L243.49 128.96L243.49 128.46L243.49 127.96L243.49 127.46L243.50 126.96L243.50 126.46L243.50 125.96L243.51 125.46L243.51 124.96L243.51 124.46L243.52 123.96L243.52 123.46L243.52 122.96L243.52 122.46L243.53 121.96L243.53 121.46L243.53 120.96L243.54 120.45L243.54 119.95L243.54 119.45L243.55 118.95L243.55 118.45L243.55 117.95L243.56 117.45L243.56 116.95L243.56 116.45L243.57 115.95L243.57 115.45L243.58 114.95L243.58 114.45L243.58 113.95L243.59 113.45L243.59 112.95L243.59 112.45L243.60 111.95L243.60 111.45L243.60 110.95L243.61 110.45L243.61 109.95L243.62 109.45L243.62 108.94L243.62 108.44L243.63 107.94L243.63 107.44L243.64 106.94L243.64 106.44L243.65 105.94L243.65 105.44L243.65 104.94L243.66 104.44L243.66 103.94L243.67 103.44L243.67 102.94L243.68 102.44L243.68 101.94L243.69 101.44L243.69 100.94L243.70 100.44L243.70 99.94L243.71 99.44L243.71 98.94L243.72 98.44L243.72 97.94L243.73 97.44L243.73 96.93L243.74 96.43L243.74 95.93L243.75 95.43L243.76 94.93L243.76 94.43L243.77 93.93L243.77 93.43L243.78 92.93L243.79 92.43L243.79 91.93L243.80 91.43L243.81 90.93L243.81 90.43L243.82 89.93L243.83 89.43L243.84 88.93L243.84 88.43L243.85 87.93L243.86 87.43L243.86 86.93L243.87 86.43L243.88 85.93L243.89 85.43L243.90 84.93L243.90 84.42L243.91 83.92L243.92 83.42L243.93 82.92L243.93 82.42L243.94 81.92L243.95 81.42L243.96 80.92L243.97 80.42L243.97 79.92L243.98 79.42L243.99 78.92L244.00 78.42L244.01 77.92L244.02 77.42L244.02 76.92L244.03 76.42L244.04 75.92L244.05 75.42L244.06 74.92L244.07 74.42L244.07 73.92L244.08 73.42L244.09 72.92L244.10 72.42L244.11 71.92L244.12 71.41L244.12 70.91L244.13 70.41L244.14 69.91L244.15 69.41L244.16 68.91L244.17 68.41L244.17 67.91L244.18 67.41L244.19 66.91L244.20 66.41L244.21 65.91L244.22 65.41L244.22 64.91L244.23 64.41L244.24 63.91L244.25 63.41L244.26 62.91L244.26 62.41L244.27 61.91L244.28 61.41L244.29 60.91L244.29 60.41L244.30 59.91L244.31 59.41L244.32 58.91L244.32 58.40L244.33 57.90L244.34 57.40L244.35 56.90L244.35 56.40L244.36 55.90L244.37 55.40L244.38 54.90L244.38 54.40L244.39 53.90L244.40 53.40L244.41 52.90L244.41 52.40L244.42 51.90L244.43 51.40L244.43 50.90L244.44 50.40L244.45 49.90L244.46 49.40L244.46 48.90L244.47 48.40L244.48 47.90L244.49 47.40L244.49 46.90L244.50 46.40L244.51 45.90L244.51 45.39L244.52 44.89L244.53 44.39L244.54 43.89L244.54 43.39L244.55 42.89L244.56 42.39L244.57 41.89L244.57 41.39L244.58 40.89L244.59 40.39L244.59 39.89L244.60 39.39L244.61 38.89L244.62 38.39L244.62 37.89L244.63 37.39L244.64 36.89L244.65 36.39L244.65 35.89L244.66 35.39L244.67 34.89L244.68 34.39L244.68 33.89L244.69 33.39L244.70 32.88L244.71 32.38L244.71 31.88L244.72 31.38L244.73 30.88L244.74 30.38L244.74 29.88L244.75 29.38L244.76 28.88L244.77 28.38L244.78 27.88L244.78 27.38L244.79 26.88L244.80 26.38L244.81 25.88L244.81 25.38L244.82 24.88L244.83 24.38L244.84 23.88L244.85 23.38L244.85 22.88L244.86 22.38L244.87 21.88L244.88 21.38L244.89 20.88L244.89 20.38L244.90 19.87L244.91 19.34L244.92 18.77L244.93 18.18L244.93 17.55L244.94 16.91L244.95 16.25L244.96 15.59L244.96 14.92L244.97 14.26L244.98 13.60L244.99 12.96L244.99 12.34L245.00 11.75L245.01 11.19L245.02 10.67L245.03 10.18L245.04 9.75L245.05 9.37L245.06 9.06L245.07 8.81L245.08 8.63L245.09 8.52L245.10 8.50L245.12 8.53L245.13 8.59L245.15 8.70L245.16 8.83L245.18 9.00L245.20 9.20L245.22 9.43L245.24 9.69L245.26 9.98L245.28 10.29L245.30 10.64L245.32 11.01L245.35 11.40L245.37 11.82L245.39 12.26L245.42 12.72L245.45 13.20L245.47 13.71L245.50 14.23L245.53 14.76L245.55 15.32L245.58 15.88L245.61 16.47L245.64 17.06L245.67 17.67L245.70 18.28L245.73 18.91L245.76 19.55L245.79 20.19L245.82 20.84L245.85 21.49L245.88 22.15L245.91 22.82L245.95 23.48L245.98 24.15L246.01 24.81L246.04 25.48L246.07 26.14L246.10 26.80L246.13 27.46L246.16 28.11L246.19 28.75L246.22 29.39L246.25 30.02L246.28 30.64L246.31 31.25L246.34 31.84L246.37 32.43L246.40 33.00L246.43 33.55L246.45 34.09L246.48 34.62L246.51 35.12L246.53 35.62L246.56 36.12L246.59 36.62L246.61 37.12L246.64 37.62L246.67 38.12L246.70 38.62L246.72 39.12L246.75 39.62L246.78 40.12L246.81 40.62L246.84 41.12L246.86 41.62L246.89 42.12L246.92 42.62L246.95 43.12L246.98 43.62L247.01 44.12L247.03 44.61L247.06 45.11L247.09 45.61L247.12 46.11L247.15 46.61L247.18 47.11L247.20 47.61L247.23 48.11L247.26 48.61L247.29 49.11L247.31 49.61L247.34 50.11L247.37 50.61L247.40 51.11L247.42 51.61L247.45 52.11L247.47 52.61L247.50 53.11L247.53 53.61L247.55 54.11L247.58 54.61L247.60 55.11L247.63 55.61L247.65 56.11L247.67 56.61L247.70 57.11L247.72 57.61L247.74 58.11L247.76 58.61L247.79 59.11L247.81 59.61L247.83 60.11L247.85 60.61L247.87 61.11L247.89 61.61L247.90 62.11L247.92 62.61L247.94 63.11L247.96 63.61L247.98 64.11L247.99 64.61L248.01 65.11L248.03 65.61L248.05 66.11L248.07 66.61L248.08 67.11L248.10 67.61L248.12 68.11L248.14 68.61L248.16 69.11L248.17 69.61L248.19 70.11L248.21 70.61L248.22 71.11L248.24 71.61L248.26 72.11L248.28 72.61L248.29 73.11L248.31 73.61L248.33 74.11L248.34 74.61L248.36 75.11L248.38 75.61L248.39 76.11L248.41 76.61L248.43 77.11L248.44 77.61L248.46 78.11L248.47 78.61L248.49 79.11L248.50 79.61L248.52 80.11L248.54 80.61L248.55 81.11L248.57 81.61L248.58 82.11L248.60 82.61L248.61 83.11L248.63 83.62L248.64 84.12L248.66 84.62L248.67 85.12L248.69 85.62L248.70 86.12L248.71 86.62L248.73 87.12L248.74 87.62L248.75 88.12L248.77 88.62L248.78 89.12L248.80 89.62L248.81 90.12L248.82 90.62L248.83 91.12L248.85 91.62L248.86 92.12L248.87 92.62L248.88 93.12L248.90 93.62L248.91 94.12L248.92 94.62L248.93 95.12L248.94 95.62L248.95 96.12L248.97 96.62L248.98 97.12L248.99 97.62L249.00 98.12L249.01 98.63L249.02 99.13L249.03 99.63L249.04 100.13L249.05 100.63L249.06 101.13L249.07 101.63L249.08 102.13L249.09 102.63L249.10 103.13L249.11 103.63L249.11 104.13L249.12 104.63L249.13 105.13L249.14 105.63L249.15 106.13L249.15 106.63L249.16 107.13L249.17 107.63L249.18 108.13L249.18 108.63L249.19 109.13L249.20 109.63L249.20 110.13L249.21 110.63L249.21 111.13L249.22 111.63L249.23 112.13L249.23 112.64L249.24 113.14L249.24 113.64L249.25 114.14L249.26 114.64L249.26 115.14L249.27 115.64L249.27 116.14L249.28 116.64L249.28 117.14L249.29 117.64L249.29 118.14L249.30 118.64L249.31 119.14L249.31 119.64L249.32 120.14L249.32 120.64L249.33 121.14L249.33 121.64L249.34 122.14L249.34 122.64L249.35 123.14L249.35 123.64L249.36 124.14L249.36 124.64L249.37 125.14L249.37 125.64L249.38 126.15L249.38 126.65L249.39 127.15L249.39 127.65L249.40 128.15L249.40 128.65L249.40 129.15L249.41 129.65L249.41 130.15L249.42 130.65L249.42 131.15L249.43 131.65L249.43 132.15L249.44 132.65L249.44 133.15L249.44 133.65L249.45 134.15L249.45 134.65L249.46 135.15L249.46 135.65L249.47 136.15L249.47 136.65L249.47 137.15L249.48 137.65L249.48 138.16L249.49 138.66L249.49 139.16L249.49 139.66L249.50 140.16L249.50 140.66L249.50 141.16L249.51 141.66L249.51 142.16L249.52 142.66L249.52 143.16L249.52 143.66L249.53 144.16L249.53 144.66L249.53 145.16L249.54 145.66L249.54 146.16L249.55 146.66L249.55 147.16L249.55 147.66L249.56 148.16L249.56 148.66L249.56 149.17L249.57 149.67L249.57 150.17L249.57 150.67L249.58 151.17L249.58 151.67L249.58 152.17L249.59 152.67L249.59 153.17L249.59 153.67L249.60 154.17L249.60 154.67L249.60 155.17L249.61 155.67L249.61 156.17L249.61 156.67L249.62 157.17L249.62 157.67L249.62 158.17L249.62 158.67L249.63 159.17L249.63 159.67L249.63 160.18L249.64 160.68L249.64 161.18L249.64 161.68L249.65 162.18L249.65 162.68L249.65 163.18L249.65 163.68L249.66 164.18L249.66 164.68L249.66 165.18L249.67 165.68L249.67 166.18L249.67 166.68L249.68 167.18L249.68 167.68L249.68 168.18L249.68 168.68L249.69 169.18L249.69 169.68L249.69 170.18L249.69 170.68L249.70 171.19L249.70 171.69L249.70 172.19L249.71 172.69L249.71 173.19L249.71 173.69L249.71 174.19L249.72 174.69L249.72 175.19L249.72 175.69L249.73 176.19L249.73 176.69L249.73 177.19L249.73 177.69L249.74 178.19L249.74 178.69L249.74 179.19L249.74 179.69L249.75 180.19L249.75 180.69L249.75 181.19L249.76 181.70L249.76 182.20L249.76 182.70L249.76 183.20L249.77 183.70L249.77 184.20L249.77 184.70L249.77 185.20L249.78 185.70L249.78 186.20L249.78 186.70L249.78 187.20L249.79 187.70L249.79 188.20L249.79 188.70L249.80 189.20L249.80 189.70L249.80 190.20L249.80 190.70L249.81 191.20L249.81 191.70L249.81 192.20L249.81 192.70L249.82 193.21L249.82 193.71L249.82 194.21L249.82 194.71L249.83 195.21L249.83 195.71L249.83 196.21L249.83 196.71L249.84 197.21L249.84 197.71L249.84 198.21L249.84 198.71L249.84 199.21L249.85 199.71L249.85 200.21L249.85 200.71L249.85 201.21L249.85 201.71L249.86 202.21L249.86 202.71L249.86 203.21L249.86 203.71L249.86 204.21L249.87 204.72L249.87 205.22L249.87 205.72L249.87 206.22L249.87 206.72L249.88 207.22L249.88 207.72L249.88 208.22L249.88 208.72L249.88 209.22L249.88 209.72L249.89 210.22L249.89 210.72L249.89 211.22L249.89 211.72L249.89 212.22L249.90 212.72L249.90 213.22L249.90 213.72L249.90 214.22L249.90 214.72L249.91 215.22L249.91 215.73L249.91 216.23L249.91 216.73L249.91 217.23L249.91 217.73L249.92 218.23L249.92 218.73L249.92 219.23L249.92 219.73L249.92 220.23L249.93 220.73L249.93 221.23L249.93 221.73L249.93 222.23L249.94 222.73L249.94 223.23L249.94 223.73L249.94 224.23L249.94 224.73L249.95 225.23L249.95 225.73L249.95 226.23L249.95 226.73L249.96 227.24L249.96 227.74L249.96 228.24L249.96 228.74L249.97 229.24L249.97 229.74L249.97 230.24L249.97 230.74L249.98 231.24L249.98 231.74L249.98 232.24L249.99 232.74L249.99 233.24L249.99 233.74L250.00 234.24L250.00 234.74L250.00 235.24L250.00 235.74L250.01 236.24L250.01 236.74L250.02 237.24L250.02 237.74L250.02 238.24L250.03 238.75L250.03 239.25L250.03 239.75L250.04 240.25L250.04 240.75L250.05 241.25L250.05 241.75L250.05 242.25L250.06 242.75L250.06 243.25L250.07 243.75L250.07 244.25L250.08 244.75L250.08 245.25L250.09 245.75L250.09 246.25L250.10 246.75L250.10 247.25L250.11 247.75L250.11 248.25L250.12 248.75L250.12 249.25L250.13 249.75L250.13 250.25L250.14 250.76L250.14 251.26L250.15 251.76L250.15 252.26L250.16 252.76L250.16 253.26L250.17 253.76L250.18 254.26L250.18 254.76L250.19 255.26L250.19 255.76L250.20 256.26L250.20 256.76L250.21 257.26L250.22 257.76L250.22 258.26L250.23 258.76L250.23 259.26L250.24 259.76L250.25 260.26L250.25 260.76L250.26 261.26L250.26 261.76L250.27 262.26L250.28 262.77L250.28 263.27L250.29 263.77L250.30 264.27L250.30 264.77L250.31 265.27L250.31 265.77L250.32 266.27L250.33 266.77L250.33 267.27L250.34 267.77L250.35 268.27L250.35 268.77L250.36 269.27L250.37 269.77L250.37 270.27L250.38 270.77L250.39 271.27L250.39 271.77L250.40 272.27L250.41 272.77L250.41 273.27L250.42 273.77L250.43 274.27L250.43 274.78L250.44 275.28L250.44 275.78L250.45 276.28L250.46 276.78L250.46 277.28L250.47 277.78L250.48 278.28L250.48 278.78L250.49 279.28L250.50 279.78L250.50 280.28L250.51 280.79L250.52 281.30L250.52 281.82L250.53 282.34L250.54 282.87L250.54 283.40L250.55 283.94L250.56 284.49L250.56 285.04L250.57 285.59L250.58 286.15L250.58 286.71L250.59 287.28L250.59 287.86L250.60 288.43L250.61 289.01L250.61 289.60L250.62 290.19L250.63 290.78L250.63 291.38L250.64 291.98L250.65 292.59L250.65 293.20L250.66 293.81L250.67 294.42L250.67 295.04L250.68 295.66L250.69 296.29L250.69 296.92L250.70 297.55L250.71 298.18L250.71 298.82L250.72 299.45L250.73 300.10L250.73 300.74L250.74 301.38L250.75 302.03L250.75 302.68L250.76 303.33L250.77 303.98L250.77 304.64L250.78 305.29L250.79 305.95L250.79 306.61L250.80 307.27L250.81 307.93L250.81 308.60L250.82 309.26L250.83 309.92L250.84 310.59L250.84 311.25L250.85 311.92L250.86 312.59L250.86 313.25L250.87 313.92L250.88 314.59L250.88 315.25L250.89 315.92L250.90 316.59L250.91 317.25L250.91 317.92L250.92 318.59L250.93 319.25L250.93 319.92L250.94 320.58L250.95 321.24L250.96 321.90L250.96 322.56L250.97 323.22L250.98 323.88L250.99 324.54L250.99 325.19L251.00 325.84L251.01 326.50L251.01 327.15L251.02 327.79L251.03 328.44L251.04 329.08L251.04 329.72L251.05 330.36L251.06 331.00L251.07 331.63L251.08 332.26L251.08 332.89L251.09 333.51L251.10 334.14L251.11 334.76L251.11 335.37L251.12 335.98L251.13 336.59L251.14 337.20L251.15 337.80L251.15 338.40L251.16 338.99L251.17 339.58L251.18 340.17L251.19 340.75L251.20 341.33L251.20 341.90L251.21 342.47L251.22 343.04L251.23 343.60L251.24 344.15L251.25 344.70L251.25 345.25L251.26 345.79L251.27 346.32L251.28 346.85L251.29 347.37L251.30 347.89L251.31 348.41L251.31 348.91L251.32 349.41L251.33 349.91L251.34 350.40L251.35 350.88L251.36 351.36L251.37 351.83L251.38 352.30L251.39 352.75L251.40 353.20L251.40 353.65L251.41 354.09L251.42 354.52L251.43 354.94L251.44 355.36L251.45 355.77L251.46 356.17L251.47 356.56L251.48 356.95L251.49 357.33L251.50 357.70L251.51 358.06L251.52 358.42L251.53 358.76L251.54 359.10L251.55 359.43L251.56 359.76L251.57 360.07L251.58 360.37L251.59 360.67L251.60 360.96L251.61 361.24L251.62 361.51L251.63 361.77L251.64 362.02L251.65 362.26L251.66 362.49L251.67 362.71L251.68 362.93L251.69 363.13L251.70 363.32L251.71 363.51L251.73 363.68L251.74 363.84L251.75 364.00L251.76 364.14L251.77 364.27L251.78 364.39L251.79 364.50L251.80 364.60L251.81 364.69L251.83 364.77L251.84 364.84L251.85 364.89L251.86 364.94L251.87 364.97L251.88 364.99L251.90 365.00L251.91 364.98L251.92 364.89L251.93 364.72L251.95 364.49L251.96 364.20L251.97 363.84L251.99 363.44L252.00 362.98L252.01 362.49L252.03 361.95L252.04 361.38L252.06 360.79L252.07 360.17L252.09 359.53L252.11 358.87L252.12 358.21L252.14 357.54L252.16 356.88L252.18 356.22L252.20 355.57L252.22 354.93L252.24 354.32L252.26 353.73L252.28 353.18L252.30 352.65L252.32 352.15L252.34 351.65L252.36 351.15L252.39 350.65L252.41 350.15L252.44 349.65L252.46 349.15L252.49 348.65L252.52 348.15L252.55 347.65L252.58 347.15L252.61 346.65L252.64 346.15L252.68 345.65L252.71 345.15L252.75 344.65L252.78 344.15L252.82 343.66L252.86 343.16L252.90 342.66L252.94 342.16L252.99 341.66L253.03 341.17L253.08 340.67L253.14 340.17L253.20 339.68L253.27 339.18L253.34 338.68L253.41 338.19L253.49 337.69L253.57 337.20L253.64 336.70L253.72 336.21L253.79 335.71L253.87 335.22L253.94 334.72L254.01 334.23L254.08 333.73L254.14 333.23L254.21 332.74L254.28 332.24L254.35 331.74L254.42 331.25L254.49 330.75L254.56 330.25L254.64 329.76L254.72 329.27L254.80 328.77L254.89 328.28L254.98 327.79L255.08 327.30L255.19 326.81L255.30 326.32L255.42 325.83L255.55 325.35L255.69 324.86L255.83 324.38L255.99 323.91L256.16 323.45L256.34 322.99L256.55 322.53L256.78 322.08L257.02 321.64L257.27 321.20L257.54 320.77L257.80 320.35L258.07 319.94L258.36 319.52L258.65 319.11L258.96 318.70L259.27 318.30L259.60 317.91L259.93 317.53L260.28 317.16L260.63 316.81L260.99 316.48L261.36 316.17L261.75 315.87L262.15 315.57L262.57 315.29L263.01 315.02L263.45 314.76L263.89 314.52L264.35 314.29L264.80 314.09L265.25 313.90L265.71 313.72L266.18 313.55L266.66 313.39L267.14 313.24L267.62 313.09L268.11 312.96L268.60 312.84L269.09 312.72L269.58 312.61L270.06 312.52L270.55 312.42L271.04 312.33L271.54 312.24L272.03 312.16L272.52 312.07L273.02 311.99L273.51 311.92L274.01 311.85L274.51 311.78L275.01 311.71L275.50 311.65L276.00 311.59L276.50 311.53L277.00 311.48L277.50 311.44L278.00 311.39L278.49 311.35L278.99 311.31L279.49 311.27L279.99 311.23L280.49 311.20L280.99 311.16L281.49 311.13L281.99 311.10L282.49 311.07L282.99 311.04L283.49 311.01L283.99 310.99L284.49 310.96L284.99 310.94L285.49 310.92L285.99 310.90L286.49 310.89L286.99 310.87L287.49 310.85L287.99 310.84L288.49 310.82L288.99 310.81L289.49 310.80L289.99 310.79L290.49 310.77L290.99 310.76L291.49 310.75L291.99 310.74L292.49 310.73L292.99 310.72L293.49 310.71L293.99 310.70L294.49 310.70L294.99 310.69L295.49 310.68L295.99 310.67L296.49 310.67L296.99 310.66L297.50 310.65L298.00 310.65L298.50 310.64L299.00 310.63L299.50 310.63L300.00 310.62L300.50 310.62L301.00 310.61L301.50 310.61L302.00 310.61L302.50 310.60L303.00 310.60L305.80 310.60L306.31 310.60L306.82 310.58L307.32 310.57L307.83 310.54L308.33 310.51L308.82 310.48L309.32 310.44L309.81 310.39L310.30 310.34L310.79 310.29L311.28 310.21L311.78 310.09L312.27 309.95L312.75 309.78L313.22 309.60L313.67 309.41L314.11 309.20L314.56 308.96L314.99 308.68L315.41 308.38L315.80 308.06L316.17 307.73L316.50 307.39L316.81 307.01L317.11 306.61L317.39 306.18L317.66 305.74L317.92 305.30L318.16 304.86L318.40 304.43L318.63 303.99L318.86 303.54L319.07 303.08L319.28 302.63L319.48 302.17L319.68 301.70L319.86 301.24L320.04 300.78L320.22 300.31L320.38 299.84L320.55 299.36L320.71 298.89L320.87 298.41L321.02 297.93L321.18 297.46L321.34 296.98L321.49 296.51L321.65 296.03L321.80 295.56L321.95 295.08L322.10 294.60L322.25 294.12L322.40 293.65L322.55 293.17L322.70 292.69L322.85 292.21L322.99 291.73L323.14 291.26L323.29 290.78L323.44 290.30L323.59 289.82L323.75 289.35L323.90 288.87L324.05 288.39L324.20 287.91L324.37 287.43L324.54 286.97L324.74 286.52L324.96 286.07L325.22 285.63L325.51 285.22L325.83 284.84L326.20 284.49L326.60 284.20L327.04 283.98L327.51 283.79L327.98 283.60L328.43 283.38L328.87 283.13L329.27 282.84L329.61 282.48L329.92 282.07L330.19 281.66L330.42 281.22L330.64 280.76L330.84 280.30L331.02 279.83L331.18 279.36L331.34 278.88L331.49 278.40L331.62 277.92L331.75 277.43L331.86 276.95L331.96 276.46L332.05 275.97L332.14 275.47L332.23 274.98L332.31 274.49L332.39 273.99L332.47 273.50L332.55 273.00L332.63 272.51L332.71 272.01L332.79 271.52L332.87 271.03L332.95 270.53L333.02 270.03L333.08 269.54L333.14 269.04L333.20 268.55L333.24 268.05L333.29 267.55L333.33 267.05L333.37 266.55L333.41 266.06L333.45 265.56L333.49 265.06L333.53 264.56L333.56 264.06L333.60 263.56L333.63 263.06L333.66 262.56L333.69 262.06L333.72 261.56L333.75 261.06L333.77 260.56L333.80 260.06L333.83 259.56L333.85 259.06L333.87 258.56L333.90 258.06L333.92 257.56L333.94 257.06L333.96 256.56L333.99 256.06L334.01 255.56L334.03 255.06L334.05 254.56L334.07 254.06L334.09 253.56L334.11 253.06L334.13 252.56L334.14 252.06L334.16 251.56L334.18 251.06L334.20 250.56L334.22 250.06L334.23 249.56L334.25 249.06L334.27 248.56L334.28 248.06L334.30 247.56L334.31 247.06L334.33 246.56L334.34 246.06L334.36 245.56L334.37 245.06L334.39 244.56L334.40 244.06L334.41 243.56L334.43 243.06L334.44 242.56L334.45 242.05L334.46 241.55L334.48 241.05L334.49 240.55L334.50 240.05L334.51 239.55L334.52 239.05L334.53 238.55L334.54 238.05L334.56 237.55L334.57 237.05L334.58 236.55L334.59 236.05L334.60 235.55L334.61 235.05L334.62 234.55L334.63 234.05L334.64 233.55L334.65 233.05L334.66 232.55L334.67 232.05L334.68 231.55L334.69 231.05L334.70 230.55L334.71 230.05L334.72 229.55L334.73 229.05L334.74 228.55L334.75 228.05L334.76 227.55L334.77 227.05L334.78 226.55L334.79 226.04L334.80 225.54L334.81 225.04L334.82 224.54L334.83 224.04L334.84 223.54L334.85 223.04L334.85 222.54L334.86 222.04L334.87 221.54L334.88 221.04L334.89 220.54L334.90 220.04L334.91 219.54L334.92 219.04L334.92 218.54L334.93 218.04L334.94 217.54L334.95 217.04L334.96 216.54L334.97 216.04L334.97 215.54L334.98 215.04L334.99 214.54L335.00 214.04L335.00 213.54L335.01 213.03L335.02 212.53L335.03 212.03L335.04 211.53L335.04 211.03L335.05 210.53L335.06 210.03L335.06 209.53L335.07 209.03L335.08 208.53L335.09 208.03L335.09 207.53L335.10 207.03L335.11 206.53L335.11 206.03L335.12 205.53L335.13 205.03L335.13 204.53L335.14 204.03L335.15 203.53L335.15 203.03L335.16 202.53L335.17 202.03L335.17 201.53L335.18 201.02L335.18 200.52L335.19 200.02L335.20 199.52L335.20 199.02L335.21 198.52L335.21 198.02L335.22 197.52L335.23 197.02L335.23 196.52L335.24 196.02L335.24 195.52L335.25 195.02L335.25 194.52L335.26 194.02L335.26 193.52L335.27 193.02L335.27 192.52L335.28 192.02L335.28 191.52L335.29 191.02L335.29 190.52L335.30 190.02L335.30 189.52L335.31 189.01L335.31 188.51L335.32 188.01L335.32 187.51L335.33 187.01L335.33 186.51L335.34 186.01L335.34 185.51L335.35 185.01L335.35 184.51L335.36 184.01L335.36 183.51L335.36 183.01L335.37 182.51L335.37 182.01L335.38 181.51L335.38 181.01L335.38 180.51L335.39 180.01L335.39 179.51L335.40 179.01L335.40 178.51L335.40 178.01L335.41 177.51L335.41 177.00L335.42 176.50L335.42 176.00L335.42 175.50L335.43 175.00L335.43 174.50L335.43 174.00L335.44 173.50L335.44 173.00L335.44 172.50L335.45 172.00L335.45 171.50L335.45 171.00L335.46 170.50L335.46 170.00L335.46 169.50L335.47 169.00L335.47 168.50L335.47 168.00L335.48 167.50L335.48 167.00L335.48 166.50L335.49 166.00L335.49 165.49L335.49 164.99L335.50 164.49L335.50 163.99L335.50 163.49L335.50 162.99L335.51 162.49L335.51 161.99L335.51 161.49L335.52 160.99L335.52 160.49L335.52 159.99L335.52 159.49L335.53 158.99L335.53 158.49L335.53 157.99L335.54 157.49L335.54 156.99L335.54 156.49L335.54 155.99L335.55 155.49L335.55 154.99L335.55 154.48L335.55 153.98L335.56 153.48L335.56 152.98L335.56 152.48L335.56 151.98L335.57 151.48L335.57 150.98L335.57 150.48L335.58 149.98L335.58 149.48L335.58 148.98L335.58 148.48L335.59 147.98L335.59 147.48L335.59 146.98L335.59 146.48L335.60 145.98L335.60 145.48L335.60 144.98L335.60 144.48L335.61 143.98L335.61 143.48L335.61 142.97L335.61 142.47L335.62 141.97L335.62 141.47L335.62 140.97L335.62 140.47L335.63 139.97L335.63 139.47L335.63 138.97L335.63 138.47L335.64 137.97L335.64 137.47L335.64 136.97L335.65 136.47L335.65 135.97L335.65 135.47L335.65 134.97L335.66 134.47L335.66 133.97L335.66 133.47L335.66 132.97L335.67 132.47L335.67 131.96L335.67 131.46L335.67 130.96L335.68 130.46L335.68 129.96L335.68 129.46L335.69 128.96L335.69 128.46L335.69 127.96L335.69 127.46L335.70 126.96L335.70 126.46L335.70 125.96L335.71 125.46L335.71 124.96L335.71 124.46L335.72 123.96L335.72 123.46L335.72 122.96L335.72 122.46L335.73 121.96L335.73 121.46L335.73 120.96L335.74 120.45L335.74 119.95L335.74 119.45L335.75 118.95L335.75 118.45L335.75 117.95L335.76 117.45L335.76 116.95L335.76 116.45L335.77 115.95L335.77 115.45L335.78 114.95L335.78 114.45L335.78 113.95L335.79 113.45L335.79 112.95L335.79 112.45L335.80 111.95L335.80 111.45L335.80 110.95L335.81 110.45L335.81 109.95L335.82 109.45L335.82 108.94L335.82 108.44L335.83 107.94L335.83 107.44L335.84 106.94L335.84 106.44L335.85 105.94L335.85 105.44L335.85 104.94L335.86 104.44L335.86 103.94L335.87 103.44L335.87 102.94L335.88 102.44L335.88 101.94L335.89 101.44L335.89 100.94L335.90 100.44L335.90 99.94L335.91 99.44L335.91 98.94L335.92 98.44L335.92 97.94L335.93 97.44L335.93 96.93L335.94 96.43L335.94 95.93L335.95 95.43L335.96 94.93L335.96 94.43L335.97 93.93L335.97 93.43L335.98 92.93L335.99 92.43L335.99 91.93L336.00 91.43L336.01 90.93L336.01 90.43L336.02 89.93L336.03 89.43L336.04 88.93L336.04 88.43L336.05 87.93L336.06 87.43L336.06 86.93L336.07 86.43L336.08 85.93L336.09 85.43L336.10 84.93L336.10 84.42L336.11 83.92L336.12 83.42L336.13 82.92L336.13 82.42L336.14 81.92L336.15 81.42L336.16 80.92L336.17 80.42L336.17 79.92L336.18 79.42L336.19 78.92L336.20 78.42L336.21 77.92L336.22 77.42L336.22 76.92L336.23 76.42L336.24 75.92L336.25 75.42L336.26 74.92L336.27 74.42L336.27 73.92L336.28 73.42L336.29 72.92L336.30 72.42L336.31 71.92L336.32 71.41L336.32 70.91L336.33 70.41L336.34 69.91L336.35 69.41L336.36 68.91L336.37 68.41L336.37 67.91L336.38 67.41L336.39 66.91L336.40 66.41L336.41 65.91L336.42 65.41L336.42 64.91L336.43 64.41L336.44 63.91L336.45 63.41L336.46 62.91L336.46 62.41L336.47 61.91L336.48 61.41L336.49 60.91L336.49 60.41L336.50 59.91L336.51 59.41L336.52 58.91L336.52 58.40L336.53 57.90L336.54 57.40L336.55 56.90L336.55 56.40L336.56 55.90L336.57 55.40L336.58 54.90L336.58 54.40L336.59 53.90L336.60 53.40L336.61 52.90L336.61 52.40L336.62 51.90L336.63 51.40L336.63 50.90L336.64 50.40L336.65 49.90L336.66 49.40L336.66 48.90L336.67 48.40L336.68 47.90L336.69 47.40L336.69 46.90L336.70 46.40L336.71 45.90L336.71 45.39L336.72 44.89L336.73 44.39L336.74 43.89L336.74 43.39L336.75 42.89L336.76 42.39L336.77 41.89L336.77 41.39L336.78 40.89L336.79 40.39L336.79 39.89L336.80 39.39L336.81 38.89L336.82 38.39L336.82 37.89L336.83 37.39L336.84 36.89L336.85 36.39L336.85 35.89L336.86 35.39L336.87 34.89L336.88 34.39L336.88 33.89L336.89 33.39L336.90 32.88L336.91 32.38L336.91 31.88L336.92 31.38L336.93 30.88L336.94 30.38L336.94 29.88L336.95 29.38L336.96 28.88L336.97 28.38L336.98 27.88L336.98 27.38L336.99 26.88L337.00 26.38L337.01 25.88L337.01 25.38L337.02 24.88L337.03 24.38L337.04 23.88L337.05 23.38L337.05 22.88L337.06 22.38L337.07 21.88L337.08 21.38L337.09 20.88L337.09 20.38L337.10 19.87L337.11 19.34L337.12 18.77L337.13 18.18L337.13 17.55L337.14 16.91L337.15 16.25L337.16 15.59L337.16 14.92L337.17 14.26L337.18 13.60L337.19 12.96L337.19 12.34L337.20 11.75L337.21 11.19L337.22 10.67L337.23 10.18L337.24 9.75L337.25 9.37L337.26 9.06L337.27 8.81L337.28 8.63L337.29 8.52L337.30 8.50L337.32 8.53L337.33 8.59L337.35 8.70L337.36 8.83L337.38 9.00L337.40 9.20L337.42 9.43L337.44 9.69L337.46 9.98L337.48 10.29L337.50 10.64L337.52 11.01L337.55 11.40L337.57 11.82L337.59 12.26L337.62 12.72L337.65 13.20L337.67 13.71L337.70 14.23L337.73 14.76L337.75 15.32L337.78 15.88L337.81 16.47L337.84 17.06L337.87 17.67L337.90 18.28L337.93 18.91L337.96 19.55L337.99 20.19L338.02 20.84L338.05 21.49L338.08 22.15L338.11 22.82L338.15 23.48L338.18 24.15L338.21 24.81L338.24 25.48L338.27 26.14L338.30 26.80L338.33 27.46L338.36 28.11L338.39 28.75L338.42 29.39L338.45 30.02L338.48 30.64L338.51 31.25L338.54 31.84L338.57 32.43L338.60 33.00L338.63 33.55L338.65 34.09L338.68 34.62L338.71 35.12L338.73 35.62L338.76 36.12L338.79 36.62L338.81 37.12L338.84 37.62L338.87 38.12L338.90 38.62L338.92 39.12L338.95 39.62L338.98 40.12L339.01 40.62L339.04 41.12L339.06 41.62L339.09 42.12L339.12 42.62L339.15 43.12L339.18 43.62L339.21 44.12L339.23 44.61L339.26 45.11L339.29 45.61L339.32 46.11L339.35 46.61L339.38 47.11L339.40 47.61L339.43 48.11L339.46 48.61L339.49 49.11L339.51 49.61L339.54 50.11L339.57 50.61L339.60 51.11L339.62 51.61L339.65 52.11L339.67 52.61L339.70 53.11L339.73 53.61L339.75 54.11L339.78 54.61L339.80 55.11L339.83 55.61L339.85 56.11L339.87 56.61L339.90 57.11L339.92 57.61L339.94 58.11L339.96 58.61L339.99 59.11L340.01 59.61L340.03 60.11L340.05 60.61L340.07 61.11L340.09 61.61L340.10 62.11L340.12 62.61L340.14 63.11L340.16 63.61L340.18 64.11L340.19 64.61L340.21 65.11L340.23 65.61L340.25 66.11L340.27 66.61L340.28 67.11L340.30 67.61L340.32 68.11L340.34 68.61L340.36 69.11L340.37 69.61L340.39 70.11L340.41 70.61L340.42 71.11L340.44 71.61L340.46 72.11L340.48 72.61L340.49 73.11L340.51 73.61L340.53 74.11L340.54 74.61L340.56 75.11L340.58 75.61L340.59 76.11L340.61 76.61L340.63 77.11L340.64 77.61L340.66 78.11L340.67 78.61L340.69 79.11L340.70 79.61L340.72 80.11L340.74 80.61L340.75 81.11L340.77 81.61L340.78 82.11L340.80 82.61L340.81 83.11L340.83 83.62L340.84 84.12L340.86 84.62L340.87 85.12L340.89 85.62L340.90 86.12L340.91 86.62L340.93 87.12L340.94 87.62L340.95 88.12L340.97 88.62L340.98 89.12L341.00 89.62L341.01 90.12L341.02 90.62L341.03 91.12L341.05 91.62L341.06 92.12L341.07 92.62L341.08 93.12L341.10 93.62L341.11 94.12L341.12 94.62L341.13 95.12L341.14 95.62L341.15 96.12L341.17 96.62L341.18 97.12L341.19 97.62L341.20 98.12L341.21 98.63L341.22 99.13L341.23 99.63L341.24 100.13L341.25 100.63L341.26 101.13L341.27 101.63L341.28 102.13L341.29 102.63L341.30 103.13L341.31 103.63L341.31 104.13L341.32 104.63L341.33 105.13L341.34 105.63L341.35 106.13L341.35 106.63L341.36 107.13L341.37 107.63L341.38 108.13L341.38 108.63L341.39 109.13L341.40 109.63L341.40 110.13L341.41 110.63L341.41 111.13L341.42 111.63L341.43 112.13L341.43 112.64L341.44 113.14L341.44 113.64L341.45 114.14L341.46 114.64L341.46 115.14L341.47 115.64L341.47 116.14L341.48 116.64L341.48 117.14L341.49 117.64L341.49 118.14L341.50 118.64L341.51 119.14L341.51 119.64L341.52 120.14L341.52 120.64L341.53 121.14L341.53 121.64L341.54 122.14L341.54 122.64L341.55 123.14L341.55 123.64L341.56 124.14L341.56 124.64L341.57 125.14L341.57 125.64L341.58 126.15L341.58 126.65L341.59 127.15L341.59 127.65L341.60 128.15L341.60 128.65L341.60 129.15L341.61 129.65L341.61 130.15L341.62 130.65L341.62 131.15L341.63 131.65L341.63 132.15L341.64 132.65L341.64 133.15L341.64 133.65L341.65 134.15L341.65 134.65L341.66 135.15L341.66 135.65L341.67 136.15L341.67 136.65L341.67 137.15L341.68 137.65L341.68 138.16L341.69 138.66L341.69 139.16L341.69 139.66L341.70 140.16L341.70 140.66L341.70 141.16L341.71 141.66L341.71 142.16L341.72 142.66L341.72 143.16L341.72 143.66L341.73 144.16L341.73 144.66L341.73 145.16L341.74 145.66L341.74 146.16L341.75 146.66L341.75 147.16L341.75 147.66L341.76 148.16L341.76 148.66L341.76 149.17L341.77 149.67L341.77 150.17L341.77 150.67L341.78 151.17L341.78 151.67L341.78 152.17L341.79 152.67L341.79 153.17L341.79 153.67L341.80 154.17L341.80 154.67L341.80 155.17L341.81 155.67L341.81 156.17L341.81 156.67L341.82 157.17L341.82 157.67L341.82 158.17L341.82 158.67L341.83 159.17L341.83 159.67L341.83 160.18L341.84 160.68L341.84 161.18L341.84 161.68L341.85 162.18L341.85 162.68L341.85 163.18L341.85 163.68L341.86 164.18L341.86 164.68L341.86 165.18L341.87 165.68L341.87 166.18L341.87 166.68L341.88 167.18L341.88 167.68L341.88 168.18L341.88 168.68L341.89 169.18L341.89 169.68L341.89 170.18L341.89 170.68L341.90 171.19L341.90 171.69L341.90 172.19L341.91 172.69L341.91 173.19L341.91 173.69L341.91 174.19L341.92 174.69L341.92 175.19L341.92 175.69L341.93 176.19L341.93 176.69L341.93 177.19L341.93 177.69L341.94 178.19L341.94 178.69L341.94 179.19L341.94 179.69L341.95 180.19L341.95 180.69L341.95 181.19L341.96 181.70L341.96 182.20L341.96 182.70L341.96 183.20L341.97 183.70L341.97 184.20L341.97 184.70L341.97 185.20L341.98 185.70L341.98 186.20L341.98 186.70L341.98 187.20L341.99 187.70L341.99 188.20L341.99 188.70L342.00 189.20L342.00 189.70L342.00 190.20L342.00 190.70L342.01 191.20L342.01 191.70L342.01 192.20L342.01 192.70L342.02 193.21L342.02 193.71L342.02 194.21L342.02 194.71L342.03 195.21L342.03 195.71L342.03 196.21L342.03 196.71L342.04 197.21L342.04 197.71L342.04 198.21L342.04 198.71L342.04 199.21L342.05 199.71L342.05 200.21L342.05 200.71L342.05 201.21L342.05 201.71L342.06 202.21L342.06 202.71L342.06 203.21L342.06 203.71L342.06 204.21L342.07 204.72L342.07 205.22L342.07 205.72L342.07 206.22L342.07 206.72L342.08 207.22L342.08 207.72L342.08 208.22L342.08 208.72L342.08 209.22L342.08 209.72L342.09 210.22L342.09 210.72L342.09 211.22L342.09 211.72L342.09 212.22L342.10 212.72L342.10 213.22L342.10 213.72L342.10 214.22L342.10 214.72L342.11 215.22L342.11 215.73L342.11 216.23L342.11 216.73L342.11 217.23L342.11 217.73L342.12 218.23L342.12 218.73L342.12 219.23L342.12 219.73L342.12 220.23L342.13 220.73L342.13 221.23L342.13 221.73L342.13 222.23L342.14 222.73L342.14 223.23L342.14 223.73L342.14 224.23L342.14 224.73L342.15 225.23L342.15 225.73L342.15 226.23L342.15 226.73L342.16 227.24L342.16 227.74L342.16 228.24L342.16 228.74L342.17 229.24L342.17 229.74L342.17 230.24L342.17 230.74L342.18 231.24L342.18 231.74L342.18 232.24L342.19 232.74L342.19 233.24L342.19 233.74L342.20 234.24L342.20 234.74L342.20 235.24L342.20 235.74L342.21 236.24L342.21 236.74L342.22 237.24L342.22 237.74L342.22 238.24L342.23 238.75L342.23 239.25L342.23 239.75L342.24 240.25L342.24 240.75L342.25 241.25L342.25 241.75L342.25 242.25L342.26 242.75L342.26 243.25L342.27 243.75L342.27 244.25L342.28 244.75L342.28 245.25L342.29 245.75L342.29 246.25L342.30 246.75L342.30 247.25L342.31 247.75L342.31 248.25L342.32 248.75L342.32 249.25L342.33 249.75L342.33 250.25L342.34 250.76L342.34 251.26L342.35 251.76L342.35 252.26L342.36 252.76L342.36 253.26L342.37 253.76L342.38 254.26L342.38 254.76L342.39 255.26L342.39 255.76L342.40 256.26L342.40 256.76L342.41 257.26L342.42 257.76L342.42 258.26L342.43 258.76L342.43 259.26L342.44 259.76L342.45 260.26L342.45 260.76L342.46 261.26L342.46 261.76L342.47 262.26L342.48 262.77L342.48 263.27L342.49 263.77L342.50 264.27L342.50 264.77L342.51 265.27L342.51 265.77L342.52 266.27L342.53 266.77L342.53 267.27L342.54 267.77L342.55 268.27L342.55 268.77L342.56 269.27L342.57 269.77L342.57 270.27L342.58 270.77L342.59 271.27L342.59 271.77L342.60 272.27L342.61 272.77L342.61 273.27L342.62 273.77L342.63 274.27L342.63 274.78L342.64 275.28L342.64 275.78L342.65 276.28L342.66 276.78L342.66 277.28L342.67 277.78L342.68 278.28L342.68 278.78L342.69 279.28L342.70 279.78L342.70 280.28L342.71 280.79L342.72 281.30L342.72 281.82L342.73 282.34L342.74 282.87L342.74 283.40L342.75 283.94L342.76 284.49L342.76 285.04L342.77 285.59L342.78 286.15L342.78 286.71L342.79 287.28L342.79 287.86L342.80 288.43L342.81 289.01L342.81 289.60L342.82 290.19L342.83 290.78L342.83 291.38L342.84 291.98L342.85 292.59L342.85 293.20L342.86 293.81L342.87 294.42L342.87 295.04L342.88 295.66L342.89 296.29L342.89 296.92L342.90 297.55L342.91 298.18L342.91 298.82L342.92 299.45L342.93 300.10L342.93 300.74L342.94 301.38L342.95 302.03L342.95 302.68L342.96 303.33L342.97 303.98L342.97 304.64L342.98 305.29L342.99 305.95L342.99 306.61L343.00 307.27L343.01 307.93L343.01 308.60L343.02 309.26L343.03 309.92L343.04 310.59L343.04 311.25L343.05 311.92L343.06 312.59L343.06 313.25L343.07 313.92L343.08 314.59L343.08 315.25L343.09 315.92L343.10 316.59L343.11 317.25L343.11 317.92L343.12 318.59L343.13 319.25L343.13 319.92L343.14 320.58L343.15 321.24L343.16 321.90L343.16 322.56L343.17 323.22L343.18 323.88L343.19 324.54L343.19 325.19L343.20 325.84L343.21 326.50L343.21 327.15L343.22 327.79L343.23 328.44L343.24 329.08L343.24 329.72L343.25 330.36L343.26 331.00L343.27 331.63L343.28 332.26L343.28 332.89L343.29 333.51L343.30 334.14L343.31 334.76L343.31 335.37L343.32 335.98L343.33 336.59L343.34 337.20L343.35 337.80L343.35 338.40L343.36 338.99L343.37 339.58L343.38 340.17L343.39 340.75L343.40 341.33L343.40 341.90L343.41 342.47L343.42 343.04L343.43 343.60L343.44 344.15L343.45 344.70L343.45 345.25L343.46 345.79L343.47 346.32L343.48 346.85L343.49 347.37L343.50 347.89L343.51 348.41L343.51 348.91L343.52 349.41L343.53 349.91L343.54 350.40L343.55 350.88L343.56 351.36L343.57 351.83L343.58 352.30L343.59 352.75L343.60 353.20L343.60 353.65L343.61 354.09L343.62 354.52L343.63 354.94L343.64 355.36L343.65 355.77L343.66 356.17L343.67 356.56L343.68 356.95L343.69 357.33L343.70 357.70L343.71 358.06L343.72 358.42L343.73 358.76L343.74 359.10L343.75 359.43L343.76 359.76L343.77 360.07L343.78 360.37L343.79 360.67L343.80 360.96L343.81 361.24L343.82 361.51L343.83 361.77L343.84 362.02L343.85 362.26L343.86 362.49L343.87 362.71L343.88 362.93L343.89 363.13L343.90 363.32L343.91 363.51L343.93 363.68L343.94 363.84L343.95 364.00L343.96 364.14L343.97 364.27L343.98 364.39L343.99 364.50L344.00 364.60L344.01 364.69L344.03 364.77L344.04 364.84L344.05 364.89L344.06 364.94L344.07 364.97L344.08 364.99L344.10 365.00L344.11 364.98L344.12 364.89L344.13 364.72L344.15 364.49L344.16 364.20L344.17 363.84L344.19 363.44L344.20 362.98L344.21 362.49L344.23 361.95L344.24 361.38L344.26 360.79L344.27 360.17L344.29 359.53L344.31 358.87L344.32 358.21L344.34 357.54L344.36 356.88L344.38 356.22L344.40 355.57L344.42 354.93L344.44 354.32L344.46 353.73L344.48 353.18L344.50 352.65L344.52 352.15L344.54 351.65L344.56 351.15L344.59 350.65L344.61 350.15L344.64 349.65L344.66 349.15L344.69 348.65L344.72 348.15L344.75 347.65L344.78 347.15L344.81 346.65L344.84 346.15L344.88 345.65L344.91 345.15L344.95 344.65L344.98 344.15L345.02 343.66L345.06 343.16L345.10 342.66L345.14 342.16L345.19 341.66L345.23 341.17L345.28 340.67L345.34 340.17L345.40 339.68L345.47 339.18L345.54 338.68L345.61 338.19L345.69 337.69L345.77 337.20L345.84 336.70L345.92 336.21L345.99 335.71L346.07 335.22L346.14 334.72L346.21 334.23L346.28 333.73L346.34 333.23L346.41 332.74L346.48 332.24L346.55 331.74L346.62 331.25L346.69 330.75L346.76 330.25L346.84 329.76L346.92 329.27L347.00 328.77L347.09 328.28L347.18 327.79L347.28 327.30L347.39 326.81L347.50 326.32L347.62 325.83L347.75 325.35L347.89 324.86L348.03 324.38L348.19 323.91L348.36 323.45L348.54 322.99L348.75 322.53L348.98 322.08L349.22 321.64L349.47 321.20L349.74 320.77L350.00 320.35L350.27 319.94L350.56 319.52L350.85 319.11L351.16 318.70L351.47 318.30L351.80 317.91L352.13 317.53L352.48 317.16L352.83 316.81L353.19 316.48L353.56 316.17L353.95 315.87L354.35 315.57L354.77 315.29L355.21 315.02L355.65 314.76L356.09 314.52L356.55 314.29L357.00 314.09L357.45 313.90L357.91 313.72L358.38 313.55L358.86 313.39L359.34 313.24L359.82 313.09L360.31 312.96L360.80 312.84L361.29 312.72L361.78 312.61L362.26 312.52L362.75 312.42L363.24 312.33L363.74 312.24L364.23 312.16L364.72 312.07L365.22 311.99L365.71 311.92L366.21 311.85L366.71 311.78L367.21 311.71L367.70 311.65L368.20 311.59L368.70 311.53L369.20 311.48L369.70 311.44L370.20 311.39L370.69 311.35L371.19 311.31L371.69 311.27L372.19 311.23L372.69 311.20L373.19 311.16L373.69 311.13L374.19 311.10L374.69 311.07L375.19 311.04L375.69 311.01L376.19 310.99L376.69 310.96L377.19 310.94L377.69 310.92L378.19 310.90L378.69 310.89L379.19 310.87L379.69 310.85L380.19 310.84L380.69 310.82L381.19 310.81L381.69 310.80L382.19 310.79L382.69 310.77L383.19 310.76L383.69 310.75L384.19 310.74L384.69 310.73L385.19 310.72L385.69 310.71L386.19 310.70L386.69 310.70L387.19 310.69L387.69 310.68L388.19 310.67L388.69 310.67L389.19 310.66L389.70 310.65L390.20 310.65L390.70 310.64L391.20 310.63L391.70 310.63L392.20 310.62L392.70 310.62L393.20 310.61L393.70 310.61L394.20 310.61L394.70 310.60L395.20 310.60L490.20 310.60L490.71 310.60L491.22 310.58L491.72 310.57L492.23 310.54L492.73 310.51L493.22 310.48L493.72 310.44L494.21 310.39L494.70 310.34L495.19 310.29L495.68 310.21L496.18 310.09L496.67 309.95L497.15 309.78L497.62 309.60L498.07 309.41L498.51 309.20L498.96 308.96L499.39 308.68L499.81 308.38L500.20 308.06L500.57 307.73L500.90 307.39L501.21 307.01L501.51 306.61L501.79 306.18L502.06 305.74L502.32 305.30L502.56 304.86L502.80 304.43L503.03 303.99L503.26 303.54L503.47 303.08L503.68 302.63L503.88 302.17L504.08 301.70L504.26 301.24L504.44 300.78L504.62 300.31L504.78 299.84L504.95 299.36L505.11 298.89L505.27 298.41L505.42 297.93L505.58 297.46L505.74 296.98L505.89 296.51L506.05 296.03L506.20 295.56L506.35 295.08L506.50 294.60L506.65 294.12L506.80 293.65L506.95 293.17L507.10 292.69L507.25 292.21L507.39 291.73L507.54 291.26L507.69 290.78L507.84 290.30L507.99 289.82L508.15 289.35L508.30 288.87L508.45 288.39L508.60 287.91L508.77 287.43L508.94 286.97L509.14 286.52L509.36 286.07L509.62 285.63L509.91 285.22L510.23 284.84L510.60 284.49L511.00 284.20L511.44 283.98L511.91 283.79L512.38 283.60L512.83 283.38L513.27 283.13L513.67 282.84L514.01 282.48L514.32 282.07L514.59 281.66L514.82 281.22L515.04 280.76L515.24 280.30L515.42 279.83L515.58 279.36L515.74 278.88L515.89 278.40L516.02 277.92L516.15 277.43L516.26 276.95L516.36 276.46L516.45 275.97L516.54 275.47L516.63 274.98L516.71 274.49L516.79 273.99L516.87 273.50L516.95 273.00L517.03 272.51L517.11 272.01L517.19 271.52L517.27 271.03L517.35 270.53L517.42 270.03L517.48 269.54L517.54 269.04L517.60 268.55L517.64 268.05L517.69 267.55L517.73 267.05L517.77 266.55L517.81 266.06L517.85 265.56L517.89 265.06L517.93 264.56L517.96 264.06L518.00 263.56L518.03 263.06L518.06 262.56L518.09 262.06L518.12 261.56L518.15 261.06L518.17 260.56L518.20 260.06L518.23 259.56L518.25 259.06L518.27 258.56L518.30 258.06L518.32 257.56L518.34 257.06L518.36 256.56L518.39 256.06L518.41 255.56L518.43 255.06L518.45 254.56L518.47 254.06L518.49 253.56L518.51 253.06L518.53 252.56L518.54 252.06L518.56 251.56L518.58 251.06L518.60 250.56L518.62 250.06L518.63 249.56L518.65 249.06L518.67 248.56L518.68 248.06L518.70 247.56L518.71 247.06L518.73 246.56L518.74 246.06L518.76 245.56L518.77 245.06L518.79 244.56L518.80 244.06L518.81 243.56L518.83 243.06L518.84 242.56L518.85 242.05L518.86 241.55L518.88 241.05L518.89 240.55L518.90 240.05L518.91 239.55L518.92 239.05L518.93 238.55L518.94 238.05L518.96 237.55L518.97 237.05L518.98 236.55L518.99 236.05L519.00 235.55L519.01 235.05L519.02 234.55L519.03 234.05L519.04 233.55L519.05 233.05L519.06 232.55L519.07 232.05L519.08 231.55L519.09 231.05L519.10 230.55L519.11 230.05L519.12 229.55L519.13 229.05L519.14 228.55L519.15 228.05L519.16 227.55L519.17 227.05L519.18 226.55L519.19 226.04L519.20 225.54L519.21 225.04L519.22 224.54L519.23 224.04L519.24 223.54L519.25 223.04L519.25 222.54L519.26 222.04L519.27 221.54L519.28 221.04L519.29 220.54L519.30 220.04L519.31 219.54L519.32 219.04L519.32 218.54L519.33 218.04L519.34 217.54L519.35 217.04L519.36 216.54L519.37 216.04L519.37 215.54L519.38 215.04L519.39 214.54L519.40 214.04L519.40 213.54L519.41 213.03L519.42 212.53L519.43 212.03L519.44 211.53L519.44 211.03L519.45 210.53L519.46 210.03L519.46 209.53L519.47 209.03L519.48 208.53L519.49 208.03L519.49 207.53L519.50 207.03L519.51 206.53L519.51 206.03L519.52 205.53L519.53 205.03L519.53 204.53L519.54 204.03L519.55 203.53L519.55 203.03L519.56 202.53L519.57 202.03L519.57 201.53L519.58 201.02L519.58 200.52L519.59 200.02L519.60 199.52L519.60 199.02L519.61 198.52L519.61 198.02L519.62 197.52L519.63 197.02L519.63 196.52L519.64 196.02L519.64 195.52L519.65 195.02L519.65 194.52L519.66 194.02L519.66 193.52L519.67 193.02L519.67 192.52L519.68 192.02L519.68 191.52L519.69 191.02L519.69 190.52L519.70 190.02L519.70 189.52L519.71 189.01L519.71 188.51L519.72 188.01L519.72 187.51L519.73 187.01L519.73 186.51L519.74 186.01L519.74 185.51L519.75 185.01L519.75 184.51L519.76 184.01L519.76 183.51L519.76 183.01L519.77 182.51L519.77 182.01L519.78 181.51L519.78 181.01L519.78 180.51L519.79 180.01L519.79 179.51L519.80 179.01L519.80 178.51L519.80 178.01L519.81 177.51L519.81 177.00L519.82 176.50L519.82 176.00L519.82 175.50L519.83 175.00L519.83 174.50L519.83 174.00L519.84 173.50L519.84 173.00L519.84 172.50L519.85 172.00L519.85 171.50L519.85 171.00L519.86 170.50L519.86 170.00L519.86 169.50L519.87 169.00L519.87 168.50L519.87 168.00L519.88 167.50L519.88 167.00L519.88 166.50L519.89 166.00L519.89 165.49L519.89 164.99L519.90 164.49L519.90 163.99L519.90 163.49L519.90 162.99L519.91 162.49L519.91 161.99L519.91 161.49L519.92 160.99L519.92 160.49L519.92 159.99L519.92 159.49L519.93 158.99L519.93 158.49L519.93 157.99L519.94 157.49L519.94 156.99L519.94 156.49L519.94 155.99L519.95 155.49L519.95 154.99L519.95 154.48L519.95 153.98L519.96 153.48L519.96 152.98L519.96 152.48L519.96 151.98L519.97 151.48L519.97 150.98L519.97 150.48L519.98 149.98L519.98 149.48L519.98 148.98L519.98 148.48L519.99 147.98L519.99 147.48L519.99 146.98L519.99 146.48L520.00 145.98L520.00 145.48L520.00 144.98L520.00 144.48L520.01 143.98L520.01 143.48L520.01 142.97L520.01 142.47L520.02 141.97L520.02 141.47L520.02 140.97L520.02 140.47L520.03 139.97L520.03 139.47L520.03 138.97L520.03 138.47L520.04 137.97L520.04 137.47L520.04 136.97L520.05 136.47L520.05 135.97L520.05 135.47L520.05 134.97L520.06 134.47L520.06 133.97L520.06 133.47L520.06 132.97L520.07 132.47L520.07 131.96L520.07 131.46L520.07 130.96L520.08 130.46L520.08 129.96L520.08 129.46L520.09 128.96L520.09 128.46L520.09 127.96L520.09 127.46L520.10 126.96L520.10 126.46L520.10 125.96L520.11 125.46L520.11 124.96L520.11 124.46L520.12 123.96L520.12 123.46L520.12 122.96L520.12 122.46L520.13 121.96L520.13 121.46L520.13 120.96L520.14 120.45L520.14 119.95L520.14 119.45L520.15 118.95L520.15 118.45L520.15 117.95L520.16 117.45L520.16 116.95L520.16 116.45L520.17 115.95L520.17 115.45L520.18 114.95L520.18 114.45L520.18 113.95L520.19 113.45L520.19 112.95L520.19 112.45L520.20 111.95L520.20 111.45L520.20 110.95L520.21 110.45L520.21 109.95L520.22 109.45L520.22 108.94L520.22 108.44L520.23 107.94L520.23 107.44L520.24 106.94L520.24 106.44L520.25 105.94L520.25 105.44L520.25 104.94L520.26 104.44L520.26 103.94L520.27 103.44L520.27 102.94L520.28 102.44L520.28 101.94L520.29 101.44L520.29 100.94L520.30 100.44L520.30 99.94L520.31 99.44L520.31 98.94L520.32 98.44L520.32 97.94L520.33 97.44L520.33 96.93L520.34 96.43L520.34 95.93L520.35 95.43L520.36 94.93L520.36 94.43L520.37 93.93L520.37 93.43L520.38 92.93L520.39 92.43L520.39 91.93L520.40 91.43L520.41 90.93L520.41 90.43L520.42 89.93L520.43 89.43L520.44 88.93L520.44 88.43L520.45 87.93L520.46 87.43L520.46 86.93L520.47 86.43L520.48 85.93L520.49 85.43L520.50 84.93L520.50 84.42L520.51 83.92L520.52 83.42L520.53 82.92L520.53 82.42L520.54 81.92L520.55 81.42L520.56 80.92L520.57 80.42L520.57 79.92L520.58 79.42L520.59 78.92L520.60 78.42L520.61 77.92L520.62 77.42L520.62 76.92L520.63 76.42L520.64 75.92L520.65 75.42L520.66 74.92L520.67 74.42L520.67 73.92L520.68 73.42L520.69 72.92L520.70 72.42L520.71 71.92L520.72 71.41L520.72 70.91L520.73 70.41L520.74 69.91L520.75 69.41L520.76 68.91L520.77 68.41L520.77 67.91L520.78 67.41L520.79 66.91L520.80 66.41L520.81 65.91L520.82 65.41L520.82 64.91L520.83 64.41L520.84 63.91L520.85 63.41L520.86 62.91L520.86 62.41L520.87 61.91L520.88 61.41L520.89 60.91L520.89 60.41L520.90 59.91L520.91 59.41L520.92 58.91L520.92 58.40L520.93 57.90L520.94 57.40L520.95 56.90L520.95 56.40L520.96 55.90L520.97 55.40L520.98 54.90L520.98 54.40L520.99 53.90L521.00 53.40L521.01 52.90L521.01 52.40L521.02 51.90L521.03 51.40L521.03 50.90L521.04 50.40L521.05 49.90L521.06 49.40L521.06 48.90L521.07 48.40L521.08 47.90L521.09 47.40L521.09 46.90L521.10 46.40L521.11 45.90L521.11 45.39L521.12 44.89L521.13 44.39L521.14 43.89L521.14 43.39L521.15 42.89L521.16 42.39L521.17 41.89L521.17 41.39L521.18 40.89L521.19 40.39L521.19 39.89L521.20 39.39L521.21 38.89L521.22 38.39L521.22 37.89L521.23 37.39L521.24 36.89L521.25 36.39L521.25 35.89L521.26 35.39L521.27 34.89L521.28 34.39L521.28 33.89L521.29 33.39L521.30 32.88L521.31 32.38L521.31 31.88L521.32 31.38L521.33 30.88L521.34 30.38L521.34 29.88L521.35 29.38L521.36 28.88L521.37 28.38L521.38 27.88L521.38 27.38L521.39 26.88L521.40 26.38L521.41 25.88L521.41 25.38L521.42 24.88L521.43 24.38L521.44 23.88L521.45 23.38L521.45 22.88L521.46 22.38L521.47 21.88L521.48 21.38L521.49 20.88L521.49 20.38L521.50 19.87L521.51 19.34L521.52 18.77L521.53 18.18L521.53 17.55L521.54 16.91L521.55 16.25L521.56 15.59L521.56 14.92L521.57 14.26L521.58 13.60L521.59 12.96L521.59 12.34L521.60 11.75L521.61 11.19L521.62 10.67L521.63 10.18L521.64 9.75L521.65 9.37L521.66 9.06L521.67 8.81L521.68 8.63L521.69 8.52L521.70 8.50L521.72 8.53L521.73 8.59L521.75 8.70L521.76 8.83L521.78 9.00L521.80 9.20L521.82 9.43L521.84 9.69L521.86 9.98L521.88 10.29L521.90 10.64L521.92 11.01L521.95 11.40L521.97 11.82L521.99 12.26L522.02 12.72L522.05 13.20L522.07 13.71L522.10 14.23L522.13 14.76L522.15 15.32L522.18 15.88L522.21 16.47L522.24 17.06L522.27 17.67L522.30 18.28L522.33 18.91L522.36 19.55L522.39 20.19L522.42 20.84L522.45 21.49L522.48 22.15L522.51 22.82L522.55 23.48L522.58 24.15L522.61 24.81L522.64 25.48L522.67 26.14L522.70 26.80L522.73 27.46L522.76 28.11L522.79 28.75L522.82 29.39L522.85 30.02L522.88 30.64L522.91 31.25L522.94 31.84L522.97 32.43L523.00 33.00L523.03 33.55L523.05 34.09L523.08 34.62L523.11 35.12L523.13 35.62L523.16 36.12L523.19 36.62L523.21 37.12L523.24 37.62L523.27 38.12L523.30 38.62L523.32 39.12L523.35 39.62L523.38 40.12L523.41 40.62L523.44 41.12L523.46 41.62L523.49 42.12L523.52 42.62L523.55 43.12L523.58 43.62L523.61 44.12L523.63 44.61L523.66 45.11L523.69 45.61L523.72 46.11L523.75 46.61L523.78 47.11L523.80 47.61L523.83 48.11L523.86 48.61L523.89 49.11L523.91 49.61L523.94 50.11L523.97 50.61L524.00 51.11L524.02 51.61L524.05 52.11L524.07 52.61L524.10 53.11L524.13 53.61L524.15 54.11L524.18 54.61L524.20 55.11L524.23 55.61L524.25 56.11L524.27 56.61L524.30 57.11L524.32 57.61L524.34 58.11L524.36 58.61L524.39 59.11L524.41 59.61L524.43 60.11L524.45 60.61L524.47 61.11L524.49 61.61L524.50 62.11L524.52 62.61L524.54 63.11L524.56 63.61L524.58 64.11L524.59 64.61L524.61 65.11L524.63 65.61L524.65 66.11L524.67 66.61L524.68 67.11L524.70 67.61L524.72 68.11L524.74 68.61L524.76 69.11L524.77 69.61L524.79 70.11L524.81 70.61L524.82 71.11L524.84 71.61L524.86 72.11L524.88 72.61L524.89 73.11L524.91 73.61L524.93 74.11L524.94 74.61L524.96 75.11L524.98 75.61L524.99 76.11L525.01 76.61L525.03 77.11L525.04 77.61L525.06 78.11L525.07 78.61L525.09 79.11L525.10 79.61L525.12 80.11L525.14 80.61L525.15 81.11L525.17 81.61L525.18 82.11L525.20 82.61L525.21 83.11L525.23 83.62L525.24 84.12L525.26 84.62L525.27 85.12L525.29 85.62L525.30 86.12L525.31 86.62L525.33 87.12L525.34 87.62L525.35 88.12L525.37 88.62L525.38 89.12L525.40 89.62L525.41 90.12L525.42 90.62L525.43 91.12L525.45 91.62L525.46 92.12L525.47 92.62L525.48 93.12L525.50 93.62L525.51 94.12L525.52 94.62L525.53 95.12L525.54 95.62L525.55 96.12L525.57 96.62L525.58 97.12L525.59 97.62L525.60 98.12L525.61 98.63L525.62 99.13L525.63 99.63L525.64 100.13L525.65 100.63L525.66 101.13L525.67 101.63L525.68 102.13L525.69 102.63L525.70 103.13L525.71 103.63L525.71 104.13L525.72 104.63L525.73 105.13L525.74 105.63L525.75 106.13L525.75 106.63L525.76 107.13L525.77 107.63L525.78 108.13L525.78 108.63L525.79 109.13L525.80 109.63L525.80 110.13L525.81 110.63L525.81 111.13L525.82 111.63L525.83 112.13L525.83 112.64L525.84 113.14L525.84 113.64L525.85 114.14L525.86 114.64L525.86 115.14L525.87 115.64L525.87 116.14L525.88 116.64L525.88 117.14L525.89 117.64L525.89 118.14L525.90 118.64L525.91 119.14L525.91 119.64L525.92 120.14L525.92 120.64L525.93 121.14L525.93 121.64L525.94 122.14L525.94 122.64L525.95 123.14L525.95 123.64L525.96 124.14L525.96 124.64L525.97 125.14L525.97 125.64L525.98 126.15L525.98 126.65L525.99 127.15L525.99 127.65L526.00 128.15L526.00 128.65L526.00 129.15L526.01 129.65L526.01 130.15L526.02 130.65L526.02 131.15L526.03 131.65L526.03 132.15L526.04 132.65L526.04 133.15L526.04 133.65L526.05 134.15L526.05 134.65L526.06 135.15L526.06 135.65L526.07 136.15L526.07 136.65L526.07 137.15L526.08 137.65L526.08 138.16L526.09 138.66L526.09 139.16L526.09 139.66L526.10 140.16L526.10 140.66L526.10 141.16L526.11 141.66L526.11 142.16L526.12 142.66L526.12 143.16L526.12 143.66L526.13 144.16L526.13 144.66L526.13 145.16L526.14 145.66L526.14 146.16L526.15 146.66L526.15 147.16L526.15 147.66L526.16 148.16L526.16 148.66L526.16 149.17L526.17 149.67L526.17 150.17L526.17 150.67L526.18 151.17L526.18 151.67L526.18 152.17L526.19 152.67L526.19 153.17L526.19 153.67L526.20 154.17L526.20 154.67L526.20 155.17L526.21 155.67L526.21 156.17L526.21 156.67L526.22 157.17L526.22 157.67L526.22 158.17L526.22 158.67L526.23 159.17L526.23 159.67L526.23 160.18L526.24 160.68L526.24 161.18L526.24 161.68L526.25 162.18L526.25 162.68L526.25 163.18L526.25 163.68L526.26 164.18L526.26 164.68L526.26 165.18L526.27 165.68L526.27 166.18L526.27 166.68L526.28 167.18L526.28 167.68L526.28 168.18L526.28 168.68L526.29 169.18L526.29 169.68L526.29 170.18L526.29 170.68L526.30 171.19L526.30 171.69L526.30 172.19L526.31 172.69L526.31 173.19L526.31 173.69L526.31 174.19L526.32 174.69L526.32 175.19L526.32 175.69L526.33 176.19L526.33 176.69L526.33 177.19L526.33 177.69L526.34 178.19L526.34 178.69L526.34 179.19L526.34 179.69L526.35 180.19L526.35 180.69L526.35 181.19L526.36 181.70L526.36 182.20L526.36 182.70L526.36 183.20L526.37 183.70L526.37 184.20L526.37 184.70L526.37 185.20L526.38 185.70L526.38 186.20L526.38 186.70L526.38 187.20L526.39 187.70L526.39 188.20L526.39 188.70L526.40 189.20L526.40 189.70L526.40 190.20L526.40 190.70L526.41 191.20L526.41 191.70L526.41 192.20L526.41 192.70L526.42 193.21L526.42 193.71L526.42 194.21L526.42 194.71L526.43 195.21L526.43 195.71L526.43 196.21L526.43 196.71L526.44 197.21L526.44 197.71L526.44 198.21L526.44 198.71L526.44 199.21L526.45 199.71L526.45 200.21L526.45 200.71L526.45 201.21L526.45 201.71L526.46 202.21L526.46 202.71L526.46 203.21L526.46 203.71L526.46 204.21L526.47 204.72L526.47 205.22L526.47 205.72L526.47 206.22L526.47 206.72L526.48 207.22L526.48 207.72L526.48 208.22L526.48 208.72L526.48 209.22L526.48 209.72L526.49 210.22L526.49 210.72L526.49 211.22L526.49 211.72L526.49 212.22L526.50 212.72L526.50 213.22L526.50 213.72L526.50 214.22L526.50 214.72L526.51 215.22L526.51 215.73L526.51 216.23L526.51 216.73L526.51 217.23L526.51 217.73L526.52 218.23L526.52 218.73L526.52 219.23L526.52 219.73L526.52 220.23L526.53 220.73L526.53 221.23L526.53 221.73L526.53 222.23L526.54 222.73L526.54 223.23L526.54 223.73L526.54 224.23L526.54 224.73L526.55 225.23L526.55 225.73L526.55 226.23L526.55 226.73L526.56 227.24L526.56 227.74L526.56 228.24L526.56 228.74L526.57 229.24L526.57 229.74L526.57 230.24L526.57 230.74L526.58 231.24L526.58 231.74L526.58 232.24L526.59 232.74L526.59 233.24L526.59 233.74L526.60 234.24L526.60 234.74L526.60 235.24L526.60 235.74L526.61 236.24L526.61 236.74L526.62 237.24L526.62 237.74L526.62 238.24L526.63 238.75L526.63 239.25L526.63 239.75L526.64 240.25L526.64 240.75L526.65 241.25L526.65 241.75L526.65 242.25L526.66 242.75L526.66 243.25L526.67 243.75L526.67 244.25L526.68 244.75L526.68 245.25L526.69 245.75L526.69 246.25L526.70 246.75L526.70 247.25L526.71 247.75L526.71 248.25L526.72 248.75L526.72 249.25L526.73 249.75L526.73 250.25L526.74 250.76L526.74 251.26L526.75 251.76L526.75 252.26L526.76 252.76L526.76 253.26L526.77 253.76L526.78 254.26L526.78 254.76L526.79 255.26L526.79 255.76L526.80 256.26L526.80 256.76L526.81 257.26L526.82 257.76L526.82 258.26L526.83 258.76L526.83 259.26L526.84 259.76L526.85 260.26L526.85 260.76L526.86 261.26L526.86 261.76L526.87 262.26L526.88 262.77L526.88 263.27L526.89 263.77L526.90 264.27L526.90 264.77L526.91 265.27L526.91 265.77L526.92 266.27L526.93 266.77L526.93 267.27L526.94 267.77L526.95 268.27L526.95 268.77L526.96 269.27L526.97 269.77L526.97 270.27L526.98 270.77L526.99 271.27L526.99 271.77L527.00 272.27L527.01 272.77L527.01 273.27L527.02 273.77L527.03 274.27L527.03 274.78L527.04 275.28L527.04 275.78L527.05 276.28L527.06 276.78L527.06 277.28L527.07 277.78L527.08 278.28L527.08 278.78L527.09 279.28L527.10 279.78L527.10 280.28L527.11 280.79L527.12 281.30L527.12 281.82L527.13 282.34L527.14 282.87L527.14 283.40L527.15 283.94L527.16 284.49L527.16 285.04L527.17 285.59L527.18 286.15L527.18 286.71L527.19 287.28L527.19 287.86L527.20 288.43L527.21 289.01L527.21 289.60L527.22 290.19L527.23 290.78L527.23 291.38L527.24 291.98L527.25 292.59L527.25 293.20L527.26 293.81L527.27 294.42L527.27 295.04L527.28 295.66L527.29 296.29L527.29 296.92L527.30 297.55L527.31 298.18L527.31 298.82L527.32 299.45L527.33 300.10L527.33 300.74L527.34 301.38L527.35 302.03L527.35 302.68L527.36 303.33L527.37 303.98L527.37 304.64L527.38 305.29L527.39 305.95L527.39 306.61L527.40 307.27L527.41 307.93L527.41 308.60L527.42 309.26L527.43 309.92L527.44 310.59L527.44 311.25L527.45 311.92L527.46 312.59L527.46 313.25L527.47 313.92L527.48 314.59L527.48 315.25L527.49 315.92L527.50 316.59L527.51 317.25L527.51 317.92L527.52 318.59L527.53 319.25L527.53 319.92L527.54 320.58L527.55 321.24L527.56 321.90L527.56 322.56L527.57 323.22L527.58 323.88L527.59 324.54L527.59 325.19L527.60 325.84L527.61 326.50L527.61 327.15L527.62 327.79L527.63 328.44L527.64 329.08L527.64 329.72L527.65 330.36L527.66 331.00L527.67 331.63L527.68 332.26L527.68 332.89L527.69 333.51L527.70 334.14L527.71 334.76L527.71 335.37L527.72 335.98L527.73 336.59L527.74 337.20L527.75 337.80L527.75 338.40L527.76 338.99L527.77 339.58L527.78 340.17L527.79 340.75L527.80 341.33L527.80 341.90L527.81 342.47L527.82 343.04L527.83 343.60L527.84 344.15L527.85 344.70L527.85 345.25L527.86 345.79L527.87 346.32L527.88 346.85L527.89 347.37L527.90 347.89L527.91 348.41L527.91 348.91L527.92 349.41L527.93 349.91L527.94 350.40L527.95 350.88L527.96 351.36L527.97 351.83L527.98 352.30L527.99 352.75L528.00 353.20L528.00 353.65L528.01 354.09L528.02 354.52L528.03 354.94L528.04 355.36L528.05 355.77L528.06 356.17L528.07 356.56L528.08 356.95L528.09 357.33L528.10 357.70L528.11 358.06L528.12 358.42L528.13 358.76L528.14 359.10L528.15 359.43L528.16 359.76L528.17 360.07L528.18 360.37L528.19 360.67L528.20 360.96L528.21 361.24L528.22 361.51L528.23 361.77L528.24 362.02L528.25 362.26L528.26 362.49L528.27 362.71L528.28 362.93L528.29 363.13L528.30 363.32L528.31 363.51L528.33 363.68L528.34 363.84L528.35 364.00L528.36 364.14L528.37 364.27L528.38 364.39L528.39 364.50L528.40 364.60L528.41 364.69L528.43 364.77L528.44 364.84L528.45 364.89L528.46 364.94L528.47 364.97L528.48 364.99L528.50 365.00L528.51 364.98L528.52 364.89L528.53 364.72L528.55 364.49L528.56 364.20L528.57 363.84L528.59 363.44L528.60 362.98L528.61 362.49L528.63 361.95L528.64 361.38L528.66 360.79L528.67 360.17L528.69 359.53L528.71 358.87L528.72 358.21L528.74 357.54L528.76 356.88L528.78 356.22L528.80 355.57L528.82 354.93L528.84 354.32L528.86 353.73L528.88 353.18L528.90 352.65L528.92 352.15L528.94 351.65L528.96 351.15L528.99 350.65L529.01 350.15L529.04 349.65L529.06 349.15L529.09 348.65L529.12 348.15L529.15 347.65L529.18 347.15L529.21 346.65L529.24 346.15L529.28 345.65L529.31 345.15L529.35 344.65L529.38 344.15L529.42 343.66L529.46 343.16L529.50 342.66L529.54 342.16L529.59 341.66L529.63 341.17L529.68 340.67L529.74 340.17L529.80 339.68L529.87 339.18L529.94 338.68L530.01 338.19L530.09 337.69L530.17 337.20L530.24 336.70L530.32 336.21L530.39 335.71L530.47 335.22L530.54 334.72L530.61 334.23L530.68 333.73L530.74 333.23L530.81 332.74L530.88 332.24L530.95 331.74L531.02 331.25L531.09 330.75L531.16 330.25L531.24 329.76L531.32 329.27L531.40 328.77L531.49 328.28L531.58 327.79L531.68 327.30L531.79 326.81L531.90 326.32L532.02 325.83L532.15 325.35L532.29 324.86L532.43 324.38L532.59 323.91L532.76 323.45L532.94 322.99L533.15 322.53L533.38 322.08L533.62 321.64L533.87 321.20L534.14 320.77L534.40 320.35L534.67 319.94L534.96 319.52L535.25 319.11L535.56 318.70L535.87 318.30L536.20 317.91L536.53 317.53L536.88 317.16L537.23 316.81L537.59 316.48L537.96 316.17L538.35 315.87L538.75 315.57L539.17 315.29L539.61 315.02L540.05 314.76L540.49 314.52L540.95 314.29L541.40 314.09L541.85 313.90L542.31 313.72L542.78 313.55L543.26 313.39L543.74 313.24L544.22 313.09L544.71 312.96L545.20 312.84L545.69 312.72L546.18 312.61L546.66 312.52L547.15 312.42L547.64 312.33L548.14 312.24L548.63 312.16L549.12 312.07L549.62 311.99L550.11 311.92L550.61 311.85L551.11 311.78L551.61 311.71L552.10 311.65L552.60 311.59L553.10 311.53L553.60 311.48L554.10 311.44L554.60 311.39L555.09 311.35L555.59 311.31L556.09 311.27L556.59 311.23L557.09 311.20L557.59 311.16L558.09 311.13L558.59 311.10L559.09 311.07L559.59 311.04L560.09 311.01L560.59 310.99L561.09 310.96L561.59 310.94L562.09 310.92L562.59 310.90L563.09 310.89L563.59 310.87L564.09 310.85L564.59 310.84L565.09 310.82L565.59 310.81L566.09 310.80L566.59 310.79L567.09 310.77L567.59 310.76L568.09 310.75L568.59 310.74L569.09 310.73L569.59 310.72L570.09 310.71L570.59 310.70L571.09 310.70L571.59 310.69L572.09 310.68L572.59 310.67L573.09 310.67L573.59 310.66L574.10 310.65L574.60 310.65L575.10 310.64L575.60 310.63L576.10 310.63L576.60 310.62L577.10 310.62L577.60 310.61L578.10 310.61L578.60 310.61L579.10 310.60L579.60 310.60L579.60 310.60L580.11 310.59L580.61 310.59L581.12 310.58L581.63 310.57L582.13 310.57L582.64 310.56L583.15 310.55L583.65 310.55L584.16 310.54L584.67 310.53L585.17 310.53L585.68 310.52L586.19 310.52L586.69 310.51L587.20 310.50L587.71 310.50L588.21 310.49L588.72 310.48L589.23 310.48L589.73 310.47L590.24 310.47L590.75 310.46L591.25 310.46L591.76 310.45L592.27 310.44L592.77 310.44L593.28 310.43L593.79 310.43L594.29 310.42L594.80 310.42L595.31 310.41L595.81 310.41L596.32 310.40L596.83 310.40L597.33 310.39L597.84 310.39L598.35 310.38L598.85 310.38L599.36 310.37L599.87 310.37L600.38 310.36L600.88 310.36L601.39 310.36L601.90 310.35L602.40 310.35L602.91 310.34L603.42 310.34L603.92 310.33L604.43 310.33L604.94 310.32L605.44 310.32L605.95 310.32L606.46 310.31L606.96 310.31L607.47 310.30L607.98 310.30L608.48 310.29L608.99 310.29L609.50 310.29L610.00 310.28L610.51 310.28L611.02 310.27L611.52 310.27L612.03 310.27L612.54 310.26L613.04 310.26L613.55 310.26L614.06 310.25L614.56 310.25L615.07 310.24L615.58 310.24L616.08 310.24L616.59 310.23L617.10 310.23L617.60 310.23L618.11 310.22L618.62 310.22L619.12 310.22L619.63 310.21L620.14 310.21L620.64 310.21L621.15 310.20L621.66 310.20L622.16 310.20L622.67 310.19L623.18 310.19L623.68 310.19L624.19 310.18L624.70 310.18L625.20 310.18L625.71 310.17L626.22 310.17L626.72 310.17L627.23 310.17L627.74 310.16L628.25 310.16L628.75 310.16L629.26 310.15L629.77 310.15L630.27 310.15L630.78 310.15L631.29 310.14L631.79 310.14L632.30 310.14L632.81 310.13L633.31 310.13L633.82 310.13L634.33 310.13L634.83 310.12L635.34 310.12L635.85 310.12L636.35 310.12L636.86 310.11L637.37 310.11L637.87 310.11L638.38 310.11L638.89 310.10L639.39 310.10L639.90 310.10" clip-path="url(#pr)" fill="none" stroke="#0000ff" stroke-width="3.3" stroke-linejoin="round"/>
<!-- frame -->
<g opacity="0.6" fill="none" stroke="#000" stroke-width="1">
<path d="M85.50 364.5v-7.2M85.50 8.5v7.2M103.94 364.5v-4.4M103.94 8.5v4.4M122.38 364.5v-4.4M122.38 8.5v4.4M140.82 364.5v-4.4M140.82 8.5v4.4M159.26 364.5v-4.4M159.26 8.5v4.4M177.70 364.5v-7.2M177.70 8.5v7.2M196.14 364.5v-4.4M196.14 8.5v4.4M214.58 364.5v-4.4M214.58 8.5v4.4M233.02 364.5v-4.4M233.02 8.5v4.4M251.46 364.5v-4.4M251.46 8.5v4.4M269.90 364.5v-7.2M269.90 8.5v7.2M288.34 364.5v-4.4M288.34 8.5v4.4M306.78 364.5v-4.4M306.78 8.5v4.4M325.22 364.5v-4.4M325.22 8.5v4.4M343.66 364.5v-4.4M343.66 8.5v4.4M362.10 364.5v-7.2M362.10 8.5v7.2M380.54 364.5v-4.4M380.54 8.5v4.4M398.98 364.5v-4.4M398.98 8.5v4.4M417.42 364.5v-4.4M417.42 8.5v4.4M435.86 364.5v-4.4M435.86 8.5v4.4M454.30 364.5v-7.2M454.30 8.5v7.2M472.74 364.5v-4.4M472.74 8.5v4.4M491.18 364.5v-4.4M491.18 8.5v4.4M509.62 364.5v-4.4M509.62 8.5v4.4M528.06 364.5v-4.4M528.06 8.5v4.4M546.50 364.5v-7.2M546.50 8.5v7.2M564.94 364.5v-4.4M564.94 8.5v4.4M583.38 364.5v-4.4M583.38 8.5v4.4M601.82 364.5v-4.4M601.82 8.5v4.4M620.26 364.5v-4.4M620.26 8.5v4.4M638.70 364.5v-7.2M638.70 8.5v7.2M74.0 364.50h7.2M650.3 364.50h-7.2M74.0 346.70h4.4M650.3 346.70h-4.4M74.0 328.90h4.4M650.3 328.90h-4.4M74.0 311.10h4.4M650.3 311.10h-4.4M74.0 293.30h7.2M650.3 293.30h-7.2M74.0 275.50h4.4M650.3 275.50h-4.4M74.0 257.70h4.4M650.3 257.70h-4.4M74.0 239.90h4.4M650.3 239.90h-4.4M74.0 222.10h7.2M650.3 222.10h-7.2M74.0 204.30h4.4M650.3 204.30h-4.4M74.0 186.50h4.4M650.3 186.50h-4.4M74.0 168.70h4.4M650.3 168.70h-4.4M74.0 150.90h7.2M650.3 150.90h-7.2M74.0 133.10h4.4M650.3 133.10h-4.4M74.0 115.30h4.4M650.3 115.30h-4.4M74.0 97.50h4.4M650.3 97.50h-4.4M74.0 79.70h7.2M650.3 79.70h-7.2M74.0 61.90h4.4M650.3 61.90h-4.4M74.0 44.10h4.4M650.3 44.10h-4.4M74.0 26.30h4.4M650.3 26.30h-4.4M74.0 8.50h7.2M650.3 8.50h-7.2"/>
<rect x="74.0" y="8.5" width="576.3" height="356.0"/>
</g>
<g id="alltext" style="opacity:0.999">
<!-- tick labels -->
<text x="67" y="372.60" text-anchor="end">0.0</text>
<text x="67" y="301.40" text-anchor="end">0.2</text>
<text x="67" y="230.20" text-anchor="end">0.4</text>
<text x="67" y="159.00" text-anchor="end">0.6</text>
<text x="67" y="87.80" text-anchor="end">0.8</text>
<text x="67" y="16.60" text-anchor="end">1.0</text>
<text x="85.50" y="390.6" text-anchor="middle">0</text>
<text x="177.70" y="390.6" text-anchor="middle">1000</text>
<text x="269.90" y="390.6" text-anchor="middle">2000</text>
<text x="362.10" y="390.6" text-anchor="middle">3000</text>
<text x="454.30" y="390.6" text-anchor="middle">4000</text>
<text x="546.50" y="390.6" text-anchor="middle">5000</text>
<text x="638.70" y="390.6" text-anchor="middle">6000</text>
<!-- axis labels -->
<text transform="translate(17.6 186.8) rotate(-90)" text-anchor="middle">Signal</text>
<text x="300.0" y="420.1" letter-spacing="0.15">Time (1/<tspan class="it">&#969;</tspan><tspan class="it" style="font-size:18px" dy="4.7">h</tspan><tspan dy="-4.7">)</tspan></text>
<!-- legend -->
<path d="M684.8 154.1H752" fill="none" stroke="#808080" stroke-width="2.9" stroke-dasharray="4.9 4.0"/>
<path d="M684.8 198.8H756.1" fill="none" stroke="#ff0000" stroke-width="3.2"/>
<path d="M684.8 251.9H756.1" fill="none" stroke="#0000ff" stroke-width="3.2"/>
<text x="768.8" y="160.5" letter-spacing="-0.1"><tspan class="it">&#948;</tspan>j/<tspan class="it">&#948;</tspan>j<tspan class="s1" dy="4">0</tspan></text>
<text x="768.0" y="205.80" letter-spacing="-0.3">sin<tspan style="font-size:15.7px" dx="-0.5" dy="-7.9">2</tspan></text>
<text x="811.9" y="194.20" style="font-size:17.0px"><tspan class="it">&#981;</tspan><tspan style="font-size:10.8px" dy="2.2">0</tspan></text>
<path d="M811.3 199.50H831.0" stroke="#000" stroke-width="1.8"/>
<text x="820.1" y="217.10" style="font-size:15.7px" text-anchor="middle">2</text>
<text x="768.0" y="258.90" letter-spacing="-0.3">sin<tspan style="font-size:15.7px" dx="-0.5" dy="-7.9">2</tspan></text>
<text x="811.9" y="247.30" style="font-size:17.0px"><tspan class="it">&#981;</tspan><tspan style="font-size:10.8px" dy="2.2">1</tspan></text>
<path d="M811.3 252.60H831.0" stroke="#000" stroke-width="1.8"/>
<text x="820.1" y="270.20" style="font-size:15.7px" text-anchor="middle">2</text>
</g>
</svg>
</body>
</html>
